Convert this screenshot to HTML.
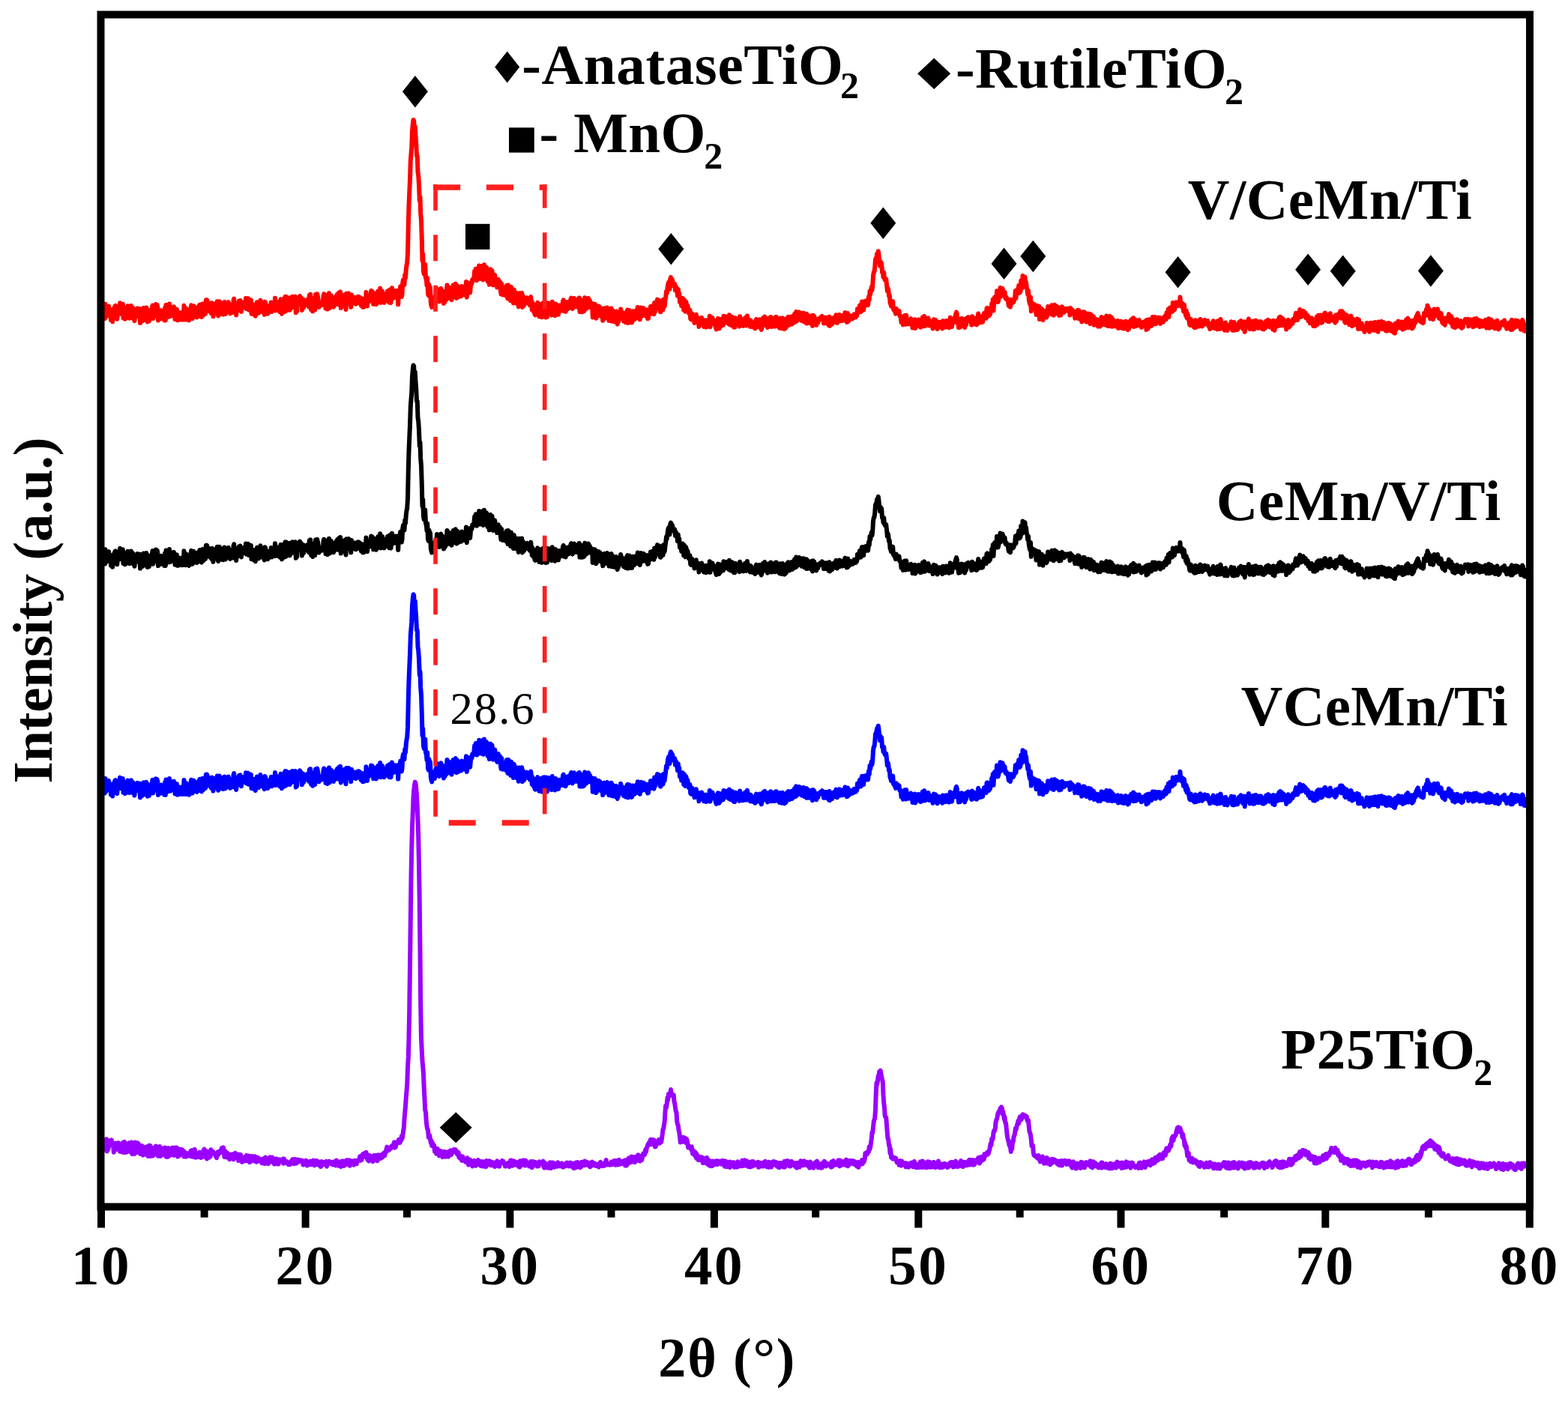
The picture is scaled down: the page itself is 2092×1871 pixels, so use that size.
<!DOCTYPE html>
<html><head><meta charset="utf-8"><title>XRD</title>
<style>html,body{margin:0;padding:0;background:#fff;}svg{display:block;}</style></head>
<body>
<svg width="2092" height="1871" viewBox="0 0 2092 1871">
<rect x="0" y="0" width="2092" height="1871" fill="#fff"/>
<g>
<polyline fill="none" stroke="#9900ff" stroke-width="6.0" stroke-linejoin="round" points="136.0,1536.2 136.8,1535.3 137.5,1523.0 138.2,1534.4 139.0,1525.8 139.8,1525.0 140.5,1532.1 141.2,1521.4 142.0,1520.1 142.8,1536.4 143.5,1526.4 144.2,1534.3 145.0,1527.9 145.8,1522.2 146.5,1528.9 147.2,1523.8 148.0,1522.3 148.8,1521.4 149.5,1528.1 150.2,1525.7 151.0,1527.0 151.8,1537.8 152.5,1535.5 153.2,1533.4 154.0,1525.5 154.8,1534.2 155.5,1533.3 156.2,1530.4 157.0,1525.6 157.8,1525.1 158.5,1528.7 159.2,1526.4 160.0,1536.7 160.8,1529.8 161.5,1533.5 162.2,1537.2 163.0,1532.6 163.8,1525.0 164.5,1527.8 165.2,1538.0 166.0,1523.7 166.8,1526.9 167.5,1533.8 168.2,1537.9 169.0,1537.5 169.8,1536.0 170.5,1535.6 171.2,1530.2 172.0,1525.2 172.8,1534.6 173.5,1525.4 174.2,1537.3 175.0,1526.2 175.8,1524.4 176.5,1540.1 177.2,1526.5 178.0,1533.2 178.8,1524.9 179.5,1539.8 180.2,1524.4 181.0,1535.4 181.8,1538.1 182.5,1529.5 183.2,1525.1 184.0,1525.8 184.8,1526.4 185.5,1537.5 186.2,1534.0 187.0,1539.9 187.8,1535.8 188.5,1535.2 189.2,1529.1 190.0,1529.6 190.8,1541.5 191.5,1541.2 192.2,1533.3 193.0,1539.1 193.8,1538.2 194.5,1531.5 195.2,1530.4 196.0,1539.1 196.8,1542.4 197.5,1542.8 198.2,1533.1 199.0,1528.7 199.8,1532.7 200.5,1528.9 201.2,1543.1 202.0,1532.7 202.8,1540.9 203.5,1531.7 204.2,1542.5 205.0,1535.3 205.8,1540.6 206.5,1537.2 207.2,1539.8 208.0,1529.5 208.8,1529.9 209.5,1534.2 210.2,1542.2 211.0,1542.7 211.8,1539.8 212.5,1538.1 213.2,1529.9 214.0,1542.9 214.8,1538.9 215.5,1538.2 216.2,1541.6 217.0,1532.8 217.8,1538.5 218.5,1539.6 219.2,1540.9 220.0,1531.5 220.8,1540.9 221.5,1543.6 222.2,1539.8 223.0,1533.3 223.8,1543.9 224.5,1532.1 225.2,1533.7 226.0,1542.3 226.8,1538.3 227.5,1534.6 228.2,1541.1 229.0,1539.0 229.8,1531.7 230.5,1533.5 231.2,1541.7 232.0,1541.8 232.8,1531.6 233.5,1537.8 234.2,1540.4 235.0,1535.1 235.8,1531.6 236.5,1536.5 237.2,1543.6 238.0,1540.7 238.8,1533.6 239.5,1542.1 240.2,1539.7 241.0,1534.8 241.8,1534.8 242.5,1533.9 243.2,1537.3 244.0,1536.9 244.8,1535.9 245.5,1543.6 246.2,1541.8 247.0,1537.9 247.8,1543.8 248.5,1539.8 249.2,1543.4 250.0,1541.7 250.8,1539.3 251.5,1540.2 252.2,1541.3 253.0,1541.2 253.8,1542.8 254.5,1536.1 255.2,1536.5 256.0,1535.1 256.8,1543.7 257.5,1543.5 258.2,1537.6 259.0,1537.1 259.8,1533.8 260.5,1544.5 261.2,1540.8 262.0,1544.6 262.8,1540.6 263.5,1539.2 264.2,1542.1 265.0,1543.8 265.8,1543.3 266.5,1537.4 267.2,1539.6 268.0,1545.1 268.8,1539.9 269.5,1543.5 270.2,1540.1 271.0,1543.7 271.8,1534.6 272.5,1533.8 273.2,1535.0 274.0,1539.2 274.8,1538.6 275.5,1545.8 276.2,1546.4 277.0,1536.5 277.8,1544.7 278.5,1540.9 279.2,1544.6 280.0,1538.9 280.8,1543.3 281.5,1534.3 282.2,1539.5 283.0,1537.8 283.8,1536.8 284.5,1537.2 285.2,1538.5 286.0,1539.4 286.8,1539.9 287.5,1542.4 288.2,1543.6 289.0,1545.2 289.8,1542.0 290.5,1537.4 291.2,1540.9 292.0,1539.3 292.8,1536.7 293.5,1537.2 294.2,1535.3 295.0,1537.9 295.8,1532.1 296.5,1536.8 297.2,1535.3 298.0,1531.4 298.8,1535.3 299.5,1544.0 300.2,1541.1 301.0,1536.7 301.8,1542.8 302.5,1544.4 303.2,1538.5 304.0,1541.6 304.8,1539.9 305.5,1543.8 306.2,1547.2 307.0,1541.4 307.8,1540.7 308.5,1541.0 309.2,1546.0 310.0,1540.2 310.8,1544.7 311.5,1547.3 312.2,1546.6 313.0,1545.5 313.8,1538.7 314.5,1543.1 315.2,1541.2 316.0,1544.1 316.8,1540.4 317.5,1540.4 318.2,1549.0 319.0,1548.5 319.8,1540.8 320.5,1548.4 321.2,1540.9 322.0,1543.9 322.8,1550.7 323.5,1550.4 324.2,1545.7 325.0,1548.1 325.8,1544.9 326.5,1549.5 327.2,1544.1 328.0,1542.8 328.8,1542.0 329.5,1546.7 330.2,1546.1 331.0,1549.7 331.8,1542.5 332.5,1549.4 333.2,1551.1 334.0,1549.4 334.8,1543.3 335.5,1543.7 336.2,1542.9 337.0,1545.2 337.8,1549.4 338.5,1543.6 339.2,1546.9 340.0,1543.3 340.8,1549.6 341.5,1544.1 342.2,1550.7 343.0,1548.8 343.8,1544.7 344.5,1549.6 345.2,1546.4 346.0,1548.4 346.8,1549.0 347.5,1546.6 348.2,1548.1 349.0,1551.7 349.8,1552.4 350.5,1552.3 351.2,1549.6 352.0,1552.4 352.8,1545.4 353.5,1553.1 354.2,1544.4 355.0,1552.3 355.8,1551.4 356.5,1547.9 357.2,1551.6 358.0,1553.1 358.8,1545.8 359.5,1550.2 360.2,1544.2 361.0,1550.2 361.8,1544.8 362.5,1550.3 363.2,1544.6 364.0,1548.1 364.8,1552.4 365.5,1547.5 366.2,1553.6 367.0,1549.2 367.8,1546.7 368.5,1553.3 369.2,1546.4 370.0,1550.2 370.8,1553.4 371.5,1553.5 372.2,1550.3 373.0,1547.5 373.8,1550.2 374.5,1548.5 375.2,1548.8 376.0,1548.9 376.8,1548.0 377.5,1546.7 378.2,1552.8 379.0,1546.5 379.8,1551.3 380.5,1549.5 381.2,1551.8 382.0,1551.1 382.8,1550.2 383.5,1552.8 384.2,1551.2 385.0,1554.1 385.8,1551.6 386.5,1554.0 387.2,1553.8 388.0,1552.4 388.8,1549.2 389.5,1550.6 390.2,1547.3 391.0,1552.7 391.8,1551.9 392.5,1553.2 393.2,1547.0 394.0,1547.3 394.8,1551.6 395.5,1552.5 396.2,1547.5 397.0,1547.5 397.8,1550.1 398.5,1550.4 399.2,1548.2 400.0,1548.7 400.8,1549.6 401.5,1548.3 402.2,1549.5 403.0,1548.6 403.8,1551.5 404.5,1554.5 405.2,1553.8 406.0,1553.3 406.8,1552.2 407.5,1549.8 408.2,1548.6 409.0,1549.5 409.8,1555.5 410.5,1554.3 411.2,1552.2 412.0,1552.5 412.8,1553.5 413.5,1554.1 414.2,1549.4 415.0,1554.0 415.8,1552.7 416.5,1549.7 417.2,1549.8 418.0,1548.8 418.8,1551.8 419.5,1555.3 420.2,1553.9 421.0,1549.0 421.8,1548.8 422.5,1550.4 423.2,1549.7 424.0,1549.8 424.8,1554.8 425.5,1551.6 426.2,1553.7 427.0,1551.6 427.8,1557.0 428.5,1553.8 429.2,1550.1 430.0,1555.3 430.8,1551.2 431.5,1552.5 432.2,1551.1 433.0,1552.7 433.8,1551.2 434.5,1551.3 435.2,1550.0 436.0,1556.7 436.8,1550.6 437.5,1551.2 438.2,1552.3 439.0,1549.7 439.8,1550.5 440.5,1551.7 441.2,1553.0 442.0,1552.5 442.8,1551.1 443.5,1553.7 444.2,1554.4 445.0,1550.6 445.8,1550.5 446.5,1553.8 447.2,1552.0 448.0,1555.4 448.8,1548.5 449.5,1552.9 450.2,1551.3 451.0,1550.2 451.8,1555.8 452.5,1550.5 453.2,1555.4 454.0,1556.0 454.8,1557.0 455.5,1549.9 456.2,1550.1 457.0,1549.4 457.8,1551.3 458.5,1556.1 459.2,1553.9 460.0,1549.8 460.8,1549.3 461.5,1554.6 462.2,1553.4 463.0,1548.1 463.8,1552.8 464.5,1549.3 465.2,1550.1 466.0,1548.3 466.8,1555.8 467.5,1551.3 468.2,1552.7 469.0,1549.2 469.8,1550.6 470.5,1552.8 471.2,1553.5 472.0,1554.6 472.8,1548.9 473.5,1548.7 474.2,1550.1 475.0,1549.1 475.8,1553.2 476.5,1549.0 477.2,1548.5 478.0,1549.0 478.8,1549.0 479.5,1546.6 480.2,1543.2 481.0,1548.8 481.8,1542.8 482.5,1548.1 483.2,1541.7 484.0,1540.5 484.8,1541.7 485.5,1544.0 486.2,1539.0 487.0,1539.7 487.8,1539.6 488.5,1537.8 489.2,1540.3 490.0,1546.9 490.8,1548.2 491.5,1543.2 492.2,1549.5 493.0,1542.1 493.8,1548.3 494.5,1542.5 495.2,1545.9 496.0,1545.8 496.8,1545.9 497.5,1550.1 498.2,1544.9 499.0,1542.0 499.8,1542.7 500.5,1548.2 501.2,1542.7 502.0,1541.9 502.8,1542.8 503.5,1549.3 504.2,1544.2 505.0,1541.2 505.8,1545.0 506.5,1541.9 507.2,1542.7 508.0,1545.9 508.8,1542.7 509.5,1540.8 510.2,1544.5 511.0,1539.8 511.8,1538.9 512.5,1541.9 513.2,1542.2 514.0,1539.4 514.8,1535.5 515.5,1535.0 516.2,1530.6 517.0,1531.7 517.8,1535.6 518.5,1532.2 519.2,1534.7 520.0,1532.4 520.8,1531.1 521.5,1532.8 522.2,1529.9 523.0,1531.1 523.8,1529.3 524.5,1527.7 525.2,1530.9 526.0,1524.2 526.8,1531.7 527.5,1531.0 528.2,1529.3 529.0,1525.5 529.8,1524.8 530.5,1523.7 531.2,1523.6 532.0,1520.8 532.8,1525.1 533.5,1525.0 534.2,1520.6 535.0,1522.5 535.8,1516.1 536.5,1519.3 537.2,1516.9 538.0,1509.6 538.8,1505.1 539.5,1493.8 540.2,1485.3 541.0,1476.1 541.8,1464.6 542.5,1455.5 543.2,1447.9 544.0,1424.5 544.8,1410.9 545.5,1385.1 546.2,1350.0 547.0,1287.9 547.8,1226.7 548.5,1170.6 549.2,1134.0 550.0,1102.8 550.8,1083.7 551.5,1064.7 552.2,1054.7 553.0,1047.7 553.8,1043.6 554.5,1045.6 555.2,1051.6 556.0,1061.5 556.8,1077.3 557.5,1094.4 558.2,1115.4 559.0,1154.7 559.8,1205.7 560.5,1267.7 561.2,1342.0 562.0,1385.4 562.8,1402.6 563.5,1415.4 564.2,1423.2 565.0,1433.7 565.8,1453.2 566.5,1466.3 567.2,1481.3 568.0,1484.3 568.8,1496.8 569.5,1503.0 570.2,1506.9 571.0,1507.7 571.8,1517.8 572.5,1517.2 573.2,1515.0 574.0,1519.9 574.8,1525.2 575.5,1522.2 576.2,1529.0 577.0,1525.3 577.8,1528.7 578.5,1528.7 579.2,1528.5 580.0,1536.7 580.8,1532.8 581.5,1537.6 582.2,1539.7 583.0,1534.9 583.8,1533.0 584.5,1538.4 585.2,1536.2 586.0,1542.6 586.8,1536.5 587.5,1542.0 588.2,1535.9 589.0,1538.4 589.8,1537.9 590.5,1544.1 591.2,1541.9 592.0,1542.3 592.8,1536.8 593.5,1538.6 594.2,1543.7 595.0,1541.0 595.8,1542.3 596.5,1539.9 597.2,1537.3 598.0,1543.8 598.8,1537.8 599.5,1536.8 600.2,1540.9 601.0,1535.3 601.8,1541.2 602.5,1540.3 603.2,1537.0 604.0,1538.1 604.8,1537.8 605.5,1534.0 606.2,1534.3 607.0,1537.0 607.8,1534.2 608.5,1536.0 609.2,1537.8 610.0,1540.5 610.8,1540.0 611.5,1537.6 612.2,1543.9 613.0,1545.3 613.8,1545.1 614.5,1546.2 615.2,1542.8 616.0,1548.7 616.8,1547.0 617.5,1543.8 618.2,1548.9 619.0,1548.8 619.8,1548.6 620.5,1547.8 621.2,1550.7 622.0,1550.5 622.8,1549.6 623.5,1545.2 624.2,1547.2 625.0,1554.5 625.8,1549.6 626.5,1552.0 627.2,1547.7 628.0,1552.0 628.8,1552.6 629.5,1554.3 630.2,1556.4 631.0,1551.7 631.8,1550.4 632.5,1548.8 633.2,1550.2 634.0,1551.0 634.8,1555.7 635.5,1551.7 636.2,1553.4 637.0,1554.3 637.8,1548.1 638.5,1550.4 639.2,1553.5 640.0,1549.4 640.8,1550.5 641.5,1556.1 642.2,1555.4 643.0,1550.4 643.8,1550.1 644.5,1556.5 645.2,1553.0 646.0,1551.4 646.8,1554.9 647.5,1554.3 648.2,1557.2 649.0,1549.1 649.8,1555.2 650.5,1552.6 651.2,1550.8 652.0,1553.3 652.8,1549.2 653.5,1550.2 654.2,1550.0 655.0,1555.2 655.8,1555.2 656.5,1550.9 657.2,1551.3 658.0,1555.3 658.8,1551.8 659.5,1551.5 660.2,1557.1 661.0,1553.6 661.8,1553.7 662.5,1554.5 663.2,1549.3 664.0,1552.5 664.8,1556.0 665.5,1554.7 666.2,1556.7 667.0,1551.3 667.8,1552.7 668.5,1550.4 669.2,1549.9 670.0,1549.0 670.8,1550.1 671.5,1549.9 672.2,1552.7 673.0,1552.8 673.8,1556.2 674.5,1556.5 675.2,1554.4 676.0,1555.4 676.8,1553.6 677.5,1552.0 678.2,1553.5 679.0,1554.4 679.8,1557.0 680.5,1555.5 681.2,1548.6 682.0,1553.6 682.8,1548.6 683.5,1553.4 684.2,1555.6 685.0,1554.4 685.8,1549.4 686.5,1552.3 687.2,1550.3 688.0,1554.5 688.8,1554.8 689.5,1555.0 690.2,1551.6 691.0,1554.0 691.8,1550.7 692.5,1557.4 693.2,1557.5 694.0,1549.3 694.8,1554.0 695.5,1555.2 696.2,1550.7 697.0,1548.8 697.8,1548.5 698.5,1554.8 699.2,1548.6 700.0,1551.9 700.8,1555.5 701.5,1548.8 702.2,1554.6 703.0,1552.2 703.8,1551.9 704.5,1552.8 705.2,1551.8 706.0,1556.5 706.8,1554.9 707.5,1552.4 708.2,1550.1 709.0,1553.6 709.8,1558.1 710.5,1557.3 711.2,1550.0 712.0,1552.7 712.8,1553.8 713.5,1553.3 714.2,1550.8 715.0,1551.6 715.8,1554.7 716.5,1556.5 717.2,1556.5 718.0,1556.1 718.8,1556.2 719.5,1550.3 720.2,1552.1 721.0,1553.1 721.8,1552.2 722.5,1553.1 723.2,1553.1 724.0,1552.5 724.8,1549.6 725.5,1557.3 726.2,1558.4 727.0,1555.5 727.8,1552.5 728.5,1554.1 729.2,1558.2 730.0,1555.3 730.8,1556.0 731.5,1556.1 732.2,1558.7 733.0,1555.9 733.8,1551.3 734.5,1555.1 735.2,1559.0 736.0,1552.1 736.8,1551.5 737.5,1551.6 738.2,1551.7 739.0,1552.4 739.8,1557.7 740.5,1555.9 741.2,1556.9 742.0,1555.1 742.8,1553.1 743.5,1556.8 744.2,1551.2 745.0,1552.8 745.8,1553.2 746.5,1555.5 747.2,1556.2 748.0,1554.5 748.8,1555.0 749.5,1552.3 750.2,1555.2 751.0,1557.6 751.8,1554.2 752.5,1557.1 753.2,1555.0 754.0,1555.1 754.8,1556.0 755.5,1551.7 756.2,1552.2 757.0,1551.7 757.8,1554.8 758.5,1555.9 759.2,1556.3 760.0,1551.9 760.8,1553.2 761.5,1551.7 762.2,1556.4 763.0,1554.5 763.8,1553.3 764.5,1552.8 765.2,1559.0 766.0,1554.6 766.8,1558.8 767.5,1552.6 768.2,1551.6 769.0,1555.9 769.8,1557.6 770.5,1551.0 771.2,1557.2 772.0,1554.8 772.8,1557.6 773.5,1558.0 774.2,1553.3 775.0,1557.7 775.8,1550.8 776.5,1553.0 777.2,1552.8 778.0,1550.9 778.8,1553.0 779.5,1555.3 780.2,1549.6 781.0,1553.0 781.8,1553.4 782.5,1550.6 783.2,1554.6 784.0,1551.1 784.8,1553.9 785.5,1553.9 786.2,1555.5 787.0,1557.2 787.8,1557.0 788.5,1553.2 789.2,1551.0 790.0,1550.6 790.8,1555.2 791.5,1554.8 792.2,1554.9 793.0,1555.1 793.8,1552.7 794.5,1555.8 795.2,1553.8 796.0,1553.9 796.8,1556.1 797.5,1554.8 798.2,1556.0 799.0,1557.4 799.8,1552.4 800.5,1555.1 801.2,1550.7 802.0,1552.0 802.8,1555.2 803.5,1556.0 804.2,1555.8 805.0,1554.2 805.8,1555.2 806.5,1555.6 807.2,1553.3 808.0,1550.1 808.8,1548.0 809.5,1554.5 810.2,1554.4 811.0,1554.2 811.8,1553.0 812.5,1553.9 813.2,1554.6 814.0,1553.1 814.8,1554.4 815.5,1550.5 816.2,1553.1 817.0,1553.8 817.8,1553.1 818.5,1550.3 819.2,1549.2 820.0,1553.9 820.8,1549.0 821.5,1554.8 822.2,1549.0 823.0,1553.8 823.8,1549.9 824.5,1554.5 825.2,1548.4 826.0,1547.9 826.8,1552.5 827.5,1553.5 828.2,1549.9 829.0,1551.1 829.8,1552.9 830.5,1549.7 831.2,1550.6 832.0,1552.3 832.8,1550.1 833.5,1548.7 834.2,1555.4 835.0,1548.3 835.8,1555.6 836.5,1553.9 837.2,1550.0 838.0,1553.1 838.8,1545.5 839.5,1549.3 840.2,1547.0 841.0,1546.1 841.8,1551.1 842.5,1543.4 843.2,1550.6 844.0,1543.8 844.8,1549.1 845.5,1545.7 846.2,1547.8 847.0,1551.1 847.8,1549.8 848.5,1543.4 849.2,1544.9 850.0,1546.1 850.8,1547.8 851.5,1541.3 852.2,1548.7 853.0,1548.5 853.8,1549.6 854.5,1543.0 855.2,1543.1 856.0,1548.4 856.8,1545.4 857.5,1542.5 858.2,1539.3 859.0,1539.4 859.8,1541.3 860.5,1539.6 861.2,1534.1 862.0,1537.1 862.8,1531.8 863.5,1530.6 864.2,1528.1 865.0,1526.7 865.8,1524.9 866.5,1527.7 867.2,1523.3 868.0,1520.9 868.8,1522.7 869.5,1527.3 870.2,1525.2 871.0,1520.9 871.8,1524.2 872.5,1525.0 873.2,1521.6 874.0,1530.4 874.8,1530.3 875.5,1523.3 876.2,1527.2 877.0,1524.7 877.8,1523.4 878.5,1523.4 879.2,1520.9 880.0,1525.8 880.8,1522.1 881.5,1524.1 882.2,1524.0 883.0,1519.4 883.8,1513.6 884.5,1507.0 885.2,1506.3 886.0,1501.2 886.8,1496.1 887.5,1483.3 888.2,1475.7 889.0,1478.1 889.8,1472.4 890.5,1465.0 891.2,1468.0 892.0,1460.1 892.8,1463.4 893.5,1461.1 894.2,1460.9 895.0,1454.1 895.8,1460.3 896.5,1460.3 897.2,1461.9 898.0,1462.3 898.8,1461.3 899.5,1470.6 900.2,1472.0 901.0,1478.2 901.8,1483.1 902.5,1484.5 903.2,1496.2 904.0,1500.4 904.8,1502.1 905.5,1508.1 906.2,1510.7 907.0,1517.2 907.8,1524.5 908.5,1519.8 909.2,1520.2 910.0,1523.9 910.8,1517.7 911.5,1518.0 912.2,1523.5 913.0,1518.1 913.8,1522.5 914.5,1524.7 915.2,1523.2 916.0,1519.9 916.8,1522.3 917.5,1526.5 918.2,1531.5 919.0,1530.1 919.8,1531.6 920.5,1531.8 921.2,1530.5 922.0,1534.2 922.8,1530.2 923.5,1535.0 924.2,1539.7 925.0,1535.4 925.8,1540.1 926.5,1541.4 927.2,1537.1 928.0,1543.8 928.8,1538.9 929.5,1545.9 930.2,1541.1 931.0,1544.3 931.8,1548.1 932.5,1547.9 933.2,1545.8 934.0,1544.1 934.8,1548.4 935.5,1548.5 936.2,1544.2 937.0,1547.1 937.8,1552.0 938.5,1548.6 939.2,1545.6 940.0,1549.8 940.8,1548.2 941.5,1552.3 942.2,1548.8 943.0,1545.0 943.8,1546.7 944.5,1547.4 945.2,1554.8 946.0,1550.0 946.8,1550.3 947.5,1556.0 948.2,1549.4 949.0,1553.1 949.8,1556.1 950.5,1555.9 951.2,1549.4 952.0,1552.2 952.8,1550.3 953.5,1554.1 954.2,1550.1 955.0,1549.5 955.8,1550.3 956.5,1549.1 957.2,1554.1 958.0,1550.1 958.8,1550.9 959.5,1549.7 960.2,1550.6 961.0,1549.9 961.8,1550.4 962.5,1553.6 963.2,1549.0 964.0,1553.8 964.8,1551.0 965.5,1549.1 966.2,1549.7 967.0,1556.8 967.8,1549.5 968.5,1551.8 969.2,1557.1 970.0,1550.4 970.8,1551.7 971.5,1552.3 972.2,1557.3 973.0,1550.9 973.8,1558.0 974.5,1550.5 975.2,1554.2 976.0,1555.8 976.8,1553.9 977.5,1553.4 978.2,1552.8 979.0,1551.2 979.8,1557.7 980.5,1552.5 981.2,1554.6 982.0,1554.2 982.8,1557.6 983.5,1551.3 984.2,1550.4 985.0,1556.9 985.8,1553.3 986.5,1554.3 987.2,1554.2 988.0,1555.6 988.8,1556.1 989.5,1554.9 990.2,1548.7 991.0,1555.9 991.8,1548.7 992.5,1555.8 993.2,1548.2 994.0,1555.1 994.8,1554.1 995.5,1549.0 996.2,1555.7 997.0,1554.3 997.8,1550.3 998.5,1556.9 999.2,1554.4 1000.0,1553.3 1000.8,1557.5 1001.5,1550.9 1002.2,1550.5 1003.0,1556.7 1003.8,1550.0 1004.5,1555.7 1005.2,1550.3 1006.0,1555.6 1006.8,1552.0 1007.5,1553.9 1008.2,1553.9 1009.0,1552.1 1009.8,1553.5 1010.5,1554.9 1011.2,1550.7 1012.0,1557.8 1012.8,1557.0 1013.5,1551.6 1014.2,1551.7 1015.0,1553.1 1015.8,1556.4 1016.5,1554.2 1017.2,1552.5 1018.0,1556.5 1018.8,1551.3 1019.5,1555.7 1020.2,1555.8 1021.0,1549.8 1021.8,1553.7 1022.5,1553.8 1023.2,1557.3 1024.0,1551.6 1024.8,1553.2 1025.5,1557.7 1026.2,1550.7 1027.0,1557.5 1027.8,1552.6 1028.5,1552.1 1029.2,1557.6 1030.0,1552.0 1030.8,1550.6 1031.5,1550.1 1032.2,1554.4 1033.0,1553.8 1033.8,1550.3 1034.5,1552.5 1035.2,1550.8 1036.0,1555.9 1036.8,1552.0 1037.5,1554.6 1038.2,1557.6 1039.0,1551.9 1039.8,1558.2 1040.5,1554.0 1041.2,1555.3 1042.0,1552.0 1042.8,1555.7 1043.5,1556.1 1044.2,1555.0 1045.0,1557.4 1045.8,1553.9 1046.5,1549.8 1047.2,1557.6 1048.0,1554.4 1048.8,1554.6 1049.5,1554.2 1050.2,1549.1 1051.0,1551.2 1051.8,1549.4 1052.5,1554.4 1053.2,1556.3 1054.0,1554.8 1054.8,1556.3 1055.5,1552.2 1056.2,1549.8 1057.0,1553.3 1057.8,1551.4 1058.5,1552.9 1059.2,1552.6 1060.0,1552.2 1060.8,1556.7 1061.5,1555.8 1062.2,1557.5 1063.0,1558.6 1063.8,1551.7 1064.5,1557.5 1065.2,1555.8 1066.0,1553.9 1066.8,1557.5 1067.5,1553.5 1068.2,1549.2 1069.0,1550.0 1069.8,1551.7 1070.5,1555.1 1071.2,1554.0 1072.0,1555.1 1072.8,1549.2 1073.5,1551.1 1074.2,1553.6 1075.0,1554.4 1075.8,1552.5 1076.5,1550.8 1077.2,1551.9 1078.0,1556.3 1078.8,1556.2 1079.5,1552.3 1080.2,1558.6 1081.0,1550.6 1081.8,1552.2 1082.5,1553.9 1083.2,1557.1 1084.0,1555.0 1084.8,1556.1 1085.5,1558.7 1086.2,1553.6 1087.0,1551.8 1087.8,1553.6 1088.5,1554.7 1089.2,1550.6 1090.0,1549.6 1090.8,1555.6 1091.5,1558.1 1092.2,1557.7 1093.0,1553.0 1093.8,1553.8 1094.5,1557.2 1095.2,1558.6 1096.0,1553.2 1096.8,1558.4 1097.5,1556.2 1098.2,1551.3 1099.0,1553.8 1099.8,1549.7 1100.5,1553.2 1101.2,1554.1 1102.0,1556.4 1102.8,1552.2 1103.5,1554.9 1104.2,1555.0 1105.0,1553.8 1105.8,1554.7 1106.5,1553.4 1107.2,1554.9 1108.0,1553.6 1108.8,1557.6 1109.5,1550.5 1110.2,1557.0 1111.0,1555.8 1111.8,1549.1 1112.5,1555.1 1113.2,1551.7 1114.0,1552.7 1114.8,1552.6 1115.5,1554.4 1116.2,1552.1 1117.0,1553.3 1117.8,1549.6 1118.5,1548.3 1119.2,1553.5 1120.0,1556.3 1120.8,1548.4 1121.5,1555.8 1122.2,1551.3 1123.0,1553.7 1123.8,1550.4 1124.5,1554.0 1125.2,1551.6 1126.0,1554.5 1126.8,1549.6 1127.5,1549.8 1128.2,1552.1 1129.0,1547.6 1129.8,1555.5 1130.5,1552.6 1131.2,1556.2 1132.0,1549.5 1132.8,1554.3 1133.5,1549.9 1134.2,1548.8 1135.0,1551.9 1135.8,1552.0 1136.5,1552.7 1137.2,1551.7 1138.0,1549.2 1138.8,1553.4 1139.5,1549.7 1140.2,1550.0 1141.0,1554.4 1141.8,1553.8 1142.5,1554.4 1143.2,1556.4 1144.0,1556.0 1144.8,1550.8 1145.5,1557.8 1146.2,1554.0 1147.0,1554.4 1147.8,1551.9 1148.5,1552.4 1149.2,1553.3 1150.0,1547.9 1150.8,1553.2 1151.5,1549.0 1152.2,1550.9 1153.0,1549.5 1153.8,1546.2 1154.5,1539.1 1155.2,1541.5 1156.0,1538.2 1156.8,1540.2 1157.5,1539.2 1158.2,1536.3 1159.0,1537.1 1159.8,1530.2 1160.5,1533.5 1161.2,1530.7 1162.0,1525.2 1162.8,1519.6 1163.5,1511.6 1164.2,1512.1 1165.0,1504.5 1165.8,1496.6 1166.5,1494.6 1167.2,1492.4 1168.0,1480.9 1168.8,1458.1 1169.5,1445.1 1170.2,1447.2 1171.0,1441.7 1171.8,1435.6 1172.5,1437.8 1173.2,1430.1 1174.0,1430.9 1174.8,1428.7 1175.5,1433.3 1176.2,1437.2 1177.0,1440.3 1177.8,1444.3 1178.5,1461.2 1179.2,1471.6 1180.0,1478.4 1180.8,1489.8 1181.5,1490.8 1182.2,1491.1 1183.0,1500.7 1183.8,1511.6 1184.5,1519.8 1185.2,1519.9 1186.0,1528.6 1186.8,1528.4 1187.5,1538.8 1188.2,1533.6 1189.0,1544.5 1189.8,1542.8 1190.5,1546.1 1191.2,1546.6 1192.0,1546.2 1192.8,1546.4 1193.5,1545.2 1194.2,1546.6 1195.0,1545.5 1195.8,1547.4 1196.5,1551.1 1197.2,1550.6 1198.0,1551.0 1198.8,1550.9 1199.5,1554.8 1200.2,1554.1 1201.0,1549.1 1201.8,1551.8 1202.5,1555.6 1203.2,1549.5 1204.0,1553.5 1204.8,1553.2 1205.5,1553.6 1206.2,1553.0 1207.0,1555.0 1207.8,1552.1 1208.5,1557.4 1209.2,1554.3 1210.0,1552.4 1210.8,1555.2 1211.5,1555.7 1212.2,1557.7 1213.0,1555.1 1213.8,1554.0 1214.5,1552.4 1215.2,1553.0 1216.0,1551.7 1216.8,1554.7 1217.5,1556.8 1218.2,1554.6 1219.0,1551.3 1219.8,1549.9 1220.5,1557.4 1221.2,1552.4 1222.0,1555.9 1222.8,1558.2 1223.5,1558.1 1224.2,1554.6 1225.0,1557.8 1225.8,1553.2 1226.5,1558.0 1227.2,1555.6 1228.0,1550.3 1228.8,1556.5 1229.5,1550.6 1230.2,1557.9 1231.0,1549.5 1231.8,1556.0 1232.5,1551.0 1233.2,1554.8 1234.0,1553.5 1234.8,1558.0 1235.5,1552.6 1236.2,1556.3 1237.0,1558.0 1237.8,1550.2 1238.5,1555.9 1239.2,1550.5 1240.0,1556.8 1240.8,1557.6 1241.5,1551.3 1242.2,1557.6 1243.0,1553.4 1243.8,1551.9 1244.5,1557.5 1245.2,1552.3 1246.0,1550.8 1246.8,1552.0 1247.5,1557.3 1248.2,1558.1 1249.0,1553.6 1249.8,1554.0 1250.5,1554.9 1251.2,1557.0 1252.0,1549.6 1252.8,1556.5 1253.5,1558.0 1254.2,1553.0 1255.0,1553.4 1255.8,1558.1 1256.5,1553.5 1257.2,1553.4 1258.0,1557.8 1258.8,1554.5 1259.5,1556.0 1260.2,1552.8 1261.0,1556.2 1261.8,1553.4 1262.5,1557.0 1263.2,1554.3 1264.0,1558.0 1264.8,1554.6 1265.5,1557.1 1266.2,1553.3 1267.0,1555.2 1267.8,1551.6 1268.5,1554.3 1269.2,1555.0 1270.0,1550.9 1270.8,1554.1 1271.5,1557.5 1272.2,1551.2 1273.0,1553.8 1273.8,1556.9 1274.5,1553.2 1275.2,1549.6 1276.0,1553.8 1276.8,1553.1 1277.5,1557.1 1278.2,1554.6 1279.0,1555.5 1279.8,1551.7 1280.5,1556.2 1281.2,1555.5 1282.0,1549.0 1282.8,1554.0 1283.5,1556.2 1284.2,1554.1 1285.0,1557.0 1285.8,1550.8 1286.5,1553.7 1287.2,1553.2 1288.0,1551.0 1288.8,1555.2 1289.5,1552.0 1290.2,1553.8 1291.0,1554.8 1291.8,1554.2 1292.5,1548.6 1293.2,1548.0 1294.0,1554.6 1294.8,1553.0 1295.5,1548.5 1296.2,1548.2 1297.0,1551.4 1297.8,1548.4 1298.5,1554.7 1299.2,1548.2 1300.0,1554.3 1300.8,1552.0 1301.5,1550.3 1302.2,1551.1 1303.0,1551.1 1303.8,1547.3 1304.5,1549.0 1305.2,1545.2 1306.0,1544.8 1306.8,1552.4 1307.5,1551.2 1308.2,1549.9 1309.0,1543.8 1309.8,1548.0 1310.5,1548.5 1311.2,1545.7 1312.0,1544.7 1312.8,1547.1 1313.5,1539.9 1314.2,1543.0 1315.0,1540.0 1315.8,1540.4 1316.5,1540.2 1317.2,1537.8 1318.0,1540.6 1318.8,1539.2 1319.5,1536.4 1320.2,1534.8 1321.0,1530.1 1321.8,1525.8 1322.5,1528.3 1323.2,1519.7 1324.0,1521.2 1324.8,1518.8 1325.5,1511.2 1326.2,1508.9 1327.0,1509.1 1327.8,1506.3 1328.5,1497.7 1329.2,1494.9 1330.0,1493.4 1330.8,1489.6 1331.5,1485.8 1332.2,1484.6 1333.0,1482.9 1333.8,1482.0 1334.5,1479.1 1335.2,1480.3 1336.0,1477.4 1336.8,1478.9 1337.5,1486.6 1338.2,1483.4 1339.0,1487.5 1339.8,1494.0 1340.5,1490.4 1341.2,1498.3 1342.0,1498.6 1342.8,1506.6 1343.5,1513.2 1344.2,1518.0 1345.0,1521.8 1345.8,1523.7 1346.5,1528.3 1347.2,1529.0 1348.0,1531.1 1348.8,1537.1 1349.5,1529.2 1350.2,1533.5 1351.0,1522.7 1351.8,1523.4 1352.5,1517.6 1353.2,1515.5 1354.0,1513.2 1354.8,1506.0 1355.5,1507.9 1356.2,1504.8 1357.0,1501.0 1357.8,1499.0 1358.5,1495.7 1359.2,1499.3 1360.0,1492.9 1360.8,1490.4 1361.5,1492.1 1362.2,1494.4 1363.0,1493.5 1363.8,1489.6 1364.5,1487.2 1365.2,1489.9 1366.0,1488.1 1366.8,1490.2 1367.5,1490.1 1368.2,1488.9 1369.0,1491.6 1369.8,1490.2 1370.5,1495.3 1371.2,1495.0 1372.0,1495.1 1372.8,1503.7 1373.5,1510.1 1374.2,1511.8 1375.0,1514.5 1375.8,1521.0 1376.5,1529.2 1377.2,1527.5 1378.0,1528.5 1378.8,1538.7 1379.5,1541.6 1380.2,1542.3 1381.0,1542.9 1381.8,1543.1 1382.5,1542.4 1383.2,1544.0 1384.0,1545.6 1384.8,1542.6 1385.5,1542.1 1386.2,1546.9 1387.0,1546.6 1387.8,1550.4 1388.5,1545.7 1389.2,1546.1 1390.0,1544.0 1390.8,1543.5 1391.5,1545.0 1392.2,1549.3 1393.0,1552.7 1393.8,1545.4 1394.5,1545.8 1395.2,1550.4 1396.0,1547.1 1396.8,1545.0 1397.5,1552.7 1398.2,1546.5 1399.0,1549.2 1399.8,1552.2 1400.5,1552.6 1401.2,1554.3 1402.0,1551.2 1402.8,1547.5 1403.5,1547.0 1404.2,1552.0 1405.0,1551.0 1405.8,1548.3 1406.5,1547.4 1407.2,1548.9 1408.0,1548.3 1408.8,1549.0 1409.5,1549.2 1410.2,1553.0 1411.0,1550.6 1411.8,1554.2 1412.5,1551.3 1413.2,1549.6 1414.0,1555.2 1414.8,1552.8 1415.5,1554.5 1416.2,1549.1 1417.0,1555.5 1417.8,1552.6 1418.5,1550.5 1419.2,1549.8 1420.0,1548.9 1420.8,1548.8 1421.5,1550.6 1422.2,1551.8 1423.0,1553.9 1423.8,1552.7 1424.5,1549.5 1425.2,1550.4 1426.0,1549.3 1426.8,1549.5 1427.5,1552.0 1428.2,1555.1 1429.0,1551.0 1429.8,1557.5 1430.5,1558.4 1431.2,1555.2 1432.0,1550.2 1432.8,1551.5 1433.5,1554.6 1434.2,1558.6 1435.0,1559.3 1435.8,1557.5 1436.5,1559.2 1437.2,1552.4 1438.0,1556.1 1438.8,1555.8 1439.5,1553.3 1440.2,1556.0 1441.0,1555.7 1441.8,1558.9 1442.5,1550.7 1443.2,1552.6 1444.0,1551.4 1444.8,1551.8 1445.5,1552.7 1446.2,1553.1 1447.0,1558.2 1447.8,1552.7 1448.5,1554.0 1449.2,1551.1 1450.0,1551.5 1450.8,1551.4 1451.5,1554.4 1452.2,1552.0 1453.0,1551.8 1453.8,1553.9 1454.5,1549.4 1455.2,1556.9 1456.0,1549.8 1456.8,1553.2 1457.5,1558.4 1458.2,1551.4 1459.0,1550.5 1459.8,1554.5 1460.5,1555.8 1461.2,1553.8 1462.0,1552.5 1462.8,1556.8 1463.5,1556.0 1464.2,1554.0 1465.0,1556.4 1465.8,1558.4 1466.5,1555.5 1467.2,1554.3 1468.0,1556.2 1468.8,1555.2 1469.5,1551.5 1470.2,1558.6 1471.0,1551.7 1471.8,1557.1 1472.5,1554.4 1473.2,1557.4 1474.0,1555.2 1474.8,1557.9 1475.5,1554.9 1476.2,1553.2 1477.0,1557.9 1477.8,1558.5 1478.5,1555.7 1479.2,1559.3 1480.0,1557.3 1480.8,1559.2 1481.5,1552.6 1482.2,1559.1 1483.0,1557.5 1483.8,1559.0 1484.5,1553.6 1485.2,1555.4 1486.0,1558.3 1486.8,1556.3 1487.5,1552.9 1488.2,1552.8 1489.0,1558.5 1489.8,1556.0 1490.5,1550.5 1491.2,1552.3 1492.0,1555.1 1492.8,1552.1 1493.5,1554.9 1494.2,1557.0 1495.0,1552.1 1495.8,1553.6 1496.5,1559.1 1497.2,1551.6 1498.0,1552.2 1498.8,1558.3 1499.5,1556.8 1500.2,1554.7 1501.0,1557.9 1501.8,1552.1 1502.5,1550.3 1503.2,1557.4 1504.0,1556.0 1504.8,1553.5 1505.5,1555.8 1506.2,1551.6 1507.0,1553.8 1507.8,1556.2 1508.5,1558.6 1509.2,1554.0 1510.0,1551.6 1510.8,1551.7 1511.5,1553.4 1512.2,1556.0 1513.0,1556.5 1513.8,1556.3 1514.5,1557.9 1515.2,1556.2 1516.0,1556.2 1516.8,1555.6 1517.5,1556.3 1518.2,1556.8 1519.0,1558.9 1519.8,1551.9 1520.5,1556.0 1521.2,1551.5 1522.0,1552.3 1522.8,1558.7 1523.5,1554.1 1524.2,1555.5 1525.0,1552.3 1525.8,1554.8 1526.5,1550.4 1527.2,1555.1 1528.0,1558.0 1528.8,1555.2 1529.5,1554.5 1530.2,1553.0 1531.0,1550.4 1531.8,1554.0 1532.5,1550.4 1533.2,1549.8 1534.0,1551.5 1534.8,1555.2 1535.5,1553.0 1536.2,1552.3 1537.0,1547.3 1537.8,1553.1 1538.5,1549.5 1539.2,1551.0 1540.0,1550.1 1540.8,1551.8 1541.5,1544.8 1542.2,1545.0 1543.0,1546.2 1543.8,1544.9 1544.5,1548.6 1545.2,1543.0 1546.0,1542.1 1546.8,1545.4 1547.5,1540.7 1548.2,1546.6 1549.0,1542.0 1549.8,1541.3 1550.5,1543.5 1551.2,1546.2 1552.0,1539.4 1552.8,1538.0 1553.5,1538.3 1554.2,1541.1 1555.0,1541.7 1555.8,1534.1 1556.5,1532.3 1557.2,1533.9 1558.0,1533.0 1558.8,1535.6 1559.5,1533.7 1560.2,1532.7 1561.0,1528.1 1561.8,1526.8 1562.5,1529.6 1563.2,1520.0 1564.0,1518.1 1564.8,1516.5 1565.5,1521.9 1566.2,1517.6 1567.0,1517.5 1567.8,1515.4 1568.5,1515.2 1569.2,1511.3 1570.0,1508.2 1570.8,1505.2 1571.5,1506.9 1572.2,1504.2 1573.0,1510.3 1573.8,1509.0 1574.5,1505.4 1575.2,1508.6 1576.0,1509.7 1576.8,1512.6 1577.5,1517.5 1578.2,1513.6 1579.0,1519.2 1579.8,1521.4 1580.5,1528.7 1581.2,1525.4 1582.0,1532.0 1582.8,1529.7 1583.5,1536.4 1584.2,1542.8 1585.0,1543.1 1585.8,1538.8 1586.5,1548.3 1587.2,1545.3 1588.0,1546.4 1588.8,1550.4 1589.5,1547.9 1590.2,1545.5 1591.0,1548.0 1591.8,1551.5 1592.5,1549.0 1593.2,1547.7 1594.0,1550.3 1594.8,1548.4 1595.5,1549.0 1596.2,1549.7 1597.0,1553.5 1597.8,1552.1 1598.5,1551.1 1599.2,1556.2 1600.0,1555.2 1600.8,1557.0 1601.5,1551.1 1602.2,1554.9 1603.0,1551.6 1603.8,1553.6 1604.5,1553.2 1605.2,1554.5 1606.0,1554.5 1606.8,1557.8 1607.5,1555.3 1608.2,1553.0 1609.0,1557.1 1609.8,1551.6 1610.5,1557.2 1611.2,1555.6 1612.0,1553.0 1612.8,1557.4 1613.5,1551.8 1614.2,1551.1 1615.0,1553.0 1615.8,1554.9 1616.5,1555.8 1617.2,1552.9 1618.0,1555.3 1618.8,1558.9 1619.5,1559.2 1620.2,1557.0 1621.0,1553.4 1621.8,1555.1 1622.5,1558.1 1623.2,1558.8 1624.0,1559.3 1624.8,1554.2 1625.5,1553.8 1626.2,1553.8 1627.0,1557.9 1627.8,1559.5 1628.5,1556.0 1629.2,1554.9 1630.0,1556.8 1630.8,1554.4 1631.5,1555.6 1632.2,1552.1 1633.0,1551.1 1633.8,1553.7 1634.5,1552.4 1635.2,1551.3 1636.0,1558.5 1636.8,1556.2 1637.5,1553.6 1638.2,1559.0 1639.0,1551.4 1639.8,1553.6 1640.5,1558.5 1641.2,1559.3 1642.0,1557.8 1642.8,1552.5 1643.5,1555.8 1644.2,1551.5 1645.0,1551.5 1645.8,1558.6 1646.5,1551.1 1647.2,1552.1 1648.0,1552.3 1648.8,1557.6 1649.5,1556.9 1650.2,1553.2 1651.0,1554.8 1651.8,1559.4 1652.5,1552.8 1653.2,1551.5 1654.0,1556.5 1654.8,1551.9 1655.5,1556.0 1656.2,1553.5 1657.0,1551.6 1657.8,1557.2 1658.5,1557.9 1659.2,1553.9 1660.0,1552.5 1660.8,1559.6 1661.5,1553.1 1662.2,1553.1 1663.0,1554.1 1663.8,1552.9 1664.5,1552.8 1665.2,1558.8 1666.0,1551.4 1666.8,1558.0 1667.5,1555.4 1668.2,1551.0 1669.0,1551.9 1669.8,1556.3 1670.5,1555.3 1671.2,1552.5 1672.0,1553.0 1672.8,1558.7 1673.5,1557.1 1674.2,1556.3 1675.0,1558.3 1675.8,1552.0 1676.5,1552.6 1677.2,1557.0 1678.0,1553.4 1678.8,1553.5 1679.5,1556.6 1680.2,1558.2 1681.0,1557.2 1681.8,1556.2 1682.5,1553.4 1683.2,1555.8 1684.0,1551.7 1684.8,1552.1 1685.5,1551.9 1686.2,1556.3 1687.0,1558.8 1687.8,1557.2 1688.5,1552.9 1689.2,1556.2 1690.0,1553.4 1690.8,1557.3 1691.5,1554.1 1692.2,1551.7 1693.0,1552.0 1693.8,1550.1 1694.5,1552.7 1695.2,1552.7 1696.0,1553.9 1696.8,1555.8 1697.5,1558.0 1698.2,1556.8 1699.0,1554.3 1699.8,1552.1 1700.5,1550.1 1701.2,1553.7 1702.0,1549.1 1702.8,1549.2 1703.5,1554.6 1704.2,1550.7 1705.0,1557.0 1705.8,1555.6 1706.5,1554.5 1707.2,1558.1 1708.0,1551.0 1708.8,1552.5 1709.5,1554.2 1710.2,1558.1 1711.0,1550.2 1711.8,1554.6 1712.5,1557.3 1713.2,1550.4 1714.0,1555.1 1714.8,1554.8 1715.5,1551.6 1716.2,1552.8 1717.0,1555.9 1717.8,1551.5 1718.5,1551.1 1719.2,1551.8 1720.0,1546.9 1720.8,1553.5 1721.5,1546.7 1722.2,1554.6 1723.0,1554.3 1723.8,1552.6 1724.5,1552.9 1725.2,1549.8 1726.0,1546.4 1726.8,1548.3 1727.5,1548.3 1728.2,1543.0 1729.0,1547.9 1729.8,1543.1 1730.5,1544.3 1731.2,1541.5 1732.0,1540.9 1732.8,1545.5 1733.5,1543.9 1734.2,1536.9 1735.0,1542.5 1735.8,1543.1 1736.5,1540.3 1737.2,1539.4 1738.0,1535.0 1738.8,1538.4 1739.5,1535.4 1740.2,1540.3 1741.0,1538.7 1741.8,1535.9 1742.5,1541.6 1743.2,1541.6 1744.0,1537.7 1744.8,1538.8 1745.5,1538.0 1746.2,1545.5 1747.0,1540.2 1747.8,1542.6 1748.5,1547.4 1749.2,1544.2 1750.0,1544.7 1750.8,1543.2 1751.5,1543.5 1752.2,1548.3 1753.0,1544.7 1753.8,1552.2 1754.5,1544.1 1755.2,1546.9 1756.0,1546.0 1756.8,1552.6 1757.5,1551.6 1758.2,1546.2 1759.0,1545.7 1759.8,1545.6 1760.5,1550.9 1761.2,1550.3 1762.0,1548.6 1762.8,1546.7 1763.5,1546.0 1764.2,1546.8 1765.0,1542.2 1765.8,1547.9 1766.5,1547.3 1767.2,1545.8 1768.0,1541.2 1768.8,1540.3 1769.5,1546.3 1770.2,1545.4 1771.0,1543.0 1771.8,1542.7 1772.5,1539.2 1773.2,1542.1 1774.0,1539.7 1774.8,1536.6 1775.5,1537.9 1776.2,1531.9 1777.0,1534.0 1777.8,1537.6 1778.5,1534.1 1779.2,1534.7 1780.0,1534.7 1780.8,1538.1 1781.5,1531.8 1782.2,1536.7 1783.0,1535.7 1783.8,1535.1 1784.5,1534.8 1785.2,1541.1 1786.0,1538.5 1786.8,1543.1 1787.5,1542.7 1788.2,1543.6 1789.0,1548.8 1789.8,1542.6 1790.5,1547.4 1791.2,1546.8 1792.0,1545.0 1792.8,1547.6 1793.5,1552.2 1794.2,1546.6 1795.0,1551.2 1795.8,1547.9 1796.5,1550.3 1797.2,1550.9 1798.0,1547.0 1798.8,1553.7 1799.5,1550.1 1800.2,1548.8 1801.0,1549.0 1801.8,1556.0 1802.5,1555.9 1803.2,1551.9 1804.0,1550.3 1804.8,1554.3 1805.5,1548.6 1806.2,1555.8 1807.0,1548.4 1807.8,1548.8 1808.5,1551.3 1809.2,1552.4 1810.0,1548.5 1810.8,1551.2 1811.5,1557.6 1812.2,1556.1 1813.0,1550.1 1813.8,1557.5 1814.5,1554.0 1815.2,1558.5 1816.0,1552.5 1816.8,1552.2 1817.5,1555.4 1818.2,1553.6 1819.0,1551.7 1819.8,1553.9 1820.5,1554.9 1821.2,1552.1 1822.0,1556.6 1822.8,1555.9 1823.5,1555.8 1824.2,1554.8 1825.0,1550.8 1825.8,1554.9 1826.5,1550.4 1827.2,1550.3 1828.0,1553.8 1828.8,1551.1 1829.5,1550.8 1830.2,1554.9 1831.0,1558.3 1831.8,1550.4 1832.5,1554.1 1833.2,1551.3 1834.0,1555.5 1834.8,1555.9 1835.5,1555.0 1836.2,1550.7 1837.0,1556.1 1837.8,1554.1 1838.5,1554.4 1839.2,1555.1 1840.0,1557.1 1840.8,1553.0 1841.5,1557.2 1842.2,1550.8 1843.0,1553.4 1843.8,1551.1 1844.5,1552.9 1845.2,1557.7 1846.0,1558.5 1846.8,1554.1 1847.5,1552.3 1848.2,1552.6 1849.0,1557.6 1849.8,1553.4 1850.5,1551.2 1851.2,1556.9 1852.0,1554.0 1852.8,1553.3 1853.5,1557.3 1854.2,1555.8 1855.0,1549.2 1855.8,1557.4 1856.5,1552.9 1857.2,1550.7 1858.0,1557.4 1858.8,1553.4 1859.5,1556.1 1860.2,1556.8 1861.0,1552.0 1861.8,1558.8 1862.5,1554.8 1863.2,1550.1 1864.0,1554.0 1864.8,1549.3 1865.5,1557.7 1866.2,1554.9 1867.0,1552.3 1867.8,1555.9 1868.5,1555.7 1869.2,1554.7 1870.0,1550.4 1870.8,1549.1 1871.5,1555.8 1872.2,1556.0 1873.0,1551.2 1873.8,1551.5 1874.5,1551.4 1875.2,1550.0 1876.0,1555.5 1876.8,1551.6 1877.5,1553.0 1878.2,1551.8 1879.0,1547.0 1879.8,1546.5 1880.5,1546.9 1881.2,1549.8 1882.0,1550.9 1882.8,1554.2 1883.5,1553.6 1884.2,1552.3 1885.0,1549.2 1885.8,1548.6 1886.5,1551.3 1887.2,1547.6 1888.0,1550.6 1888.8,1549.6 1889.5,1543.5 1890.2,1548.7 1891.0,1541.6 1891.8,1542.8 1892.5,1547.7 1893.2,1544.0 1894.0,1544.9 1894.8,1544.5 1895.5,1537.4 1896.2,1540.7 1897.0,1535.6 1897.8,1531.4 1898.5,1530.5 1899.2,1529.4 1900.0,1532.8 1900.8,1532.1 1901.5,1533.1 1902.2,1527.6 1903.0,1531.0 1903.8,1525.8 1904.5,1525.4 1905.2,1527.6 1906.0,1524.5 1906.8,1529.3 1907.5,1522.9 1908.2,1522.2 1909.0,1528.3 1909.8,1529.0 1910.5,1523.8 1911.2,1526.5 1912.0,1529.1 1912.8,1526.1 1913.5,1529.5 1914.2,1533.5 1915.0,1533.9 1915.8,1528.8 1916.5,1530.4 1917.2,1530.5 1918.0,1534.5 1918.8,1530.1 1919.5,1538.2 1920.2,1531.2 1921.0,1535.7 1921.8,1538.4 1922.5,1541.7 1923.2,1539.9 1924.0,1543.1 1924.8,1541.3 1925.5,1539.4 1926.2,1541.8 1927.0,1543.9 1927.8,1543.8 1928.5,1546.5 1929.2,1544.9 1930.0,1544.0 1930.8,1545.6 1931.5,1546.0 1932.2,1541.8 1933.0,1545.0 1933.8,1547.5 1934.5,1549.2 1935.2,1547.0 1936.0,1550.1 1936.8,1548.2 1937.5,1547.2 1938.2,1546.2 1939.0,1551.1 1939.8,1552.2 1940.5,1550.6 1941.2,1546.3 1942.0,1550.9 1942.8,1549.6 1943.5,1553.8 1944.2,1546.1 1945.0,1553.2 1945.8,1550.8 1946.5,1554.4 1947.2,1552.4 1948.0,1547.3 1948.8,1553.4 1949.5,1552.0 1950.2,1549.5 1951.0,1548.5 1951.8,1551.1 1952.5,1552.7 1953.2,1552.2 1954.0,1548.5 1954.8,1550.0 1955.5,1555.0 1956.2,1553.9 1957.0,1555.6 1957.8,1552.5 1958.5,1550.7 1959.2,1555.2 1960.0,1549.9 1960.8,1548.6 1961.5,1551.6 1962.2,1552.7 1963.0,1550.8 1963.8,1557.5 1964.5,1551.2 1965.2,1550.2 1966.0,1555.0 1966.8,1550.7 1967.5,1552.1 1968.2,1553.6 1969.0,1552.6 1969.8,1556.2 1970.5,1551.8 1971.2,1556.4 1972.0,1551.7 1972.8,1555.7 1973.5,1559.1 1974.2,1557.4 1975.0,1558.9 1975.8,1555.5 1976.5,1552.4 1977.2,1554.5 1978.0,1558.2 1978.8,1552.5 1979.5,1557.1 1980.2,1554.0 1981.0,1559.1 1981.8,1554.0 1982.5,1553.8 1983.2,1553.4 1984.0,1556.0 1984.8,1559.9 1985.5,1556.4 1986.2,1558.3 1987.0,1556.4 1987.8,1552.5 1988.5,1556.9 1989.2,1557.0 1990.0,1557.1 1990.8,1554.5 1991.5,1554.3 1992.2,1554.9 1993.0,1552.3 1993.8,1553.5 1994.5,1554.6 1995.2,1556.6 1996.0,1560.0 1996.8,1558.1 1997.5,1556.3 1998.2,1558.0 1999.0,1555.6 1999.8,1552.2 2000.5,1558.1 2001.2,1558.5 2002.0,1558.3 2002.8,1560.1 2003.5,1559.5 2004.2,1559.7 2005.0,1552.7 2005.8,1560.9 2006.5,1557.1 2007.2,1557.0 2008.0,1557.1 2008.8,1554.0 2009.5,1554.2 2010.2,1559.3 2011.0,1557.0 2011.8,1560.3 2012.5,1553.8 2013.2,1557.2 2014.0,1557.4 2014.8,1552.5 2015.5,1557.8 2016.2,1555.7 2017.0,1556.1 2017.8,1554.0 2018.5,1557.6 2019.2,1558.3 2020.0,1560.2 2020.8,1559.8 2021.5,1561.1 2022.2,1561.1 2023.0,1558.5 2023.8,1554.6 2024.5,1556.7 2025.2,1552.5 2026.0,1556.7 2026.8,1554.5 2027.5,1556.7 2028.2,1558.8 2029.0,1552.9 2029.8,1560.0 2030.5,1552.6 2031.2,1556.5 2032.0,1554.0 2032.8,1552.4 2033.5,1556.3 2034.2,1554.4 2035.0,1552.8 2035.8,1559.4"/>
<polyline fill="none" stroke="#0000ff" stroke-width="6.0" stroke-linejoin="round" points="136.0,1052.2 136.8,1058.4 137.5,1056.0 138.2,1044.2 139.0,1045.9 139.8,1058.4 140.5,1039.1 141.2,1056.5 142.0,1055.4 142.8,1047.6 143.5,1043.4 144.2,1042.5 145.0,1042.0 145.8,1046.4 146.5,1048.3 147.2,1050.0 148.0,1060.5 148.8,1056.9 149.5,1053.9 150.2,1062.6 151.0,1046.1 151.8,1045.1 152.5,1054.8 153.2,1042.0 154.0,1041.3 154.8,1051.2 155.5,1049.6 156.2,1059.1 157.0,1052.6 157.8,1049.9 158.5,1049.1 159.2,1043.2 160.0,1037.6 160.8,1041.2 161.5,1052.1 162.2,1041.8 163.0,1046.2 163.8,1039.0 164.5,1057.6 165.2,1043.2 166.0,1045.8 166.8,1059.0 167.5,1050.8 168.2,1058.1 169.0,1053.6 169.8,1055.8 170.5,1041.5 171.2,1051.1 172.0,1050.2 172.8,1058.0 173.5,1047.1 174.2,1052.5 175.0,1041.2 175.8,1048.7 176.5,1047.6 177.2,1044.0 178.0,1058.5 178.8,1048.8 179.5,1061.5 180.2,1052.7 181.0,1053.0 181.8,1053.9 182.5,1055.3 183.2,1044.7 184.0,1051.8 184.8,1048.1 185.5,1051.9 186.2,1045.4 187.0,1064.3 187.8,1048.0 188.5,1057.9 189.2,1049.8 190.0,1061.8 190.8,1056.6 191.5,1044.2 192.2,1058.7 193.0,1060.2 193.8,1059.1 194.5,1052.2 195.2,1043.8 196.0,1045.9 196.8,1062.7 197.5,1055.2 198.2,1047.2 199.0,1062.0 199.8,1056.2 200.5,1054.0 201.2,1049.3 202.0,1049.6 202.8,1045.5 203.5,1040.8 204.2,1058.5 205.0,1049.4 205.8,1050.8 206.5,1045.7 207.2,1054.8 208.0,1039.2 208.8,1047.0 209.5,1040.0 210.2,1042.4 211.0,1060.9 211.8,1054.4 212.5,1049.5 213.2,1051.4 214.0,1058.8 214.8,1047.5 215.5,1052.9 216.2,1055.1 217.0,1048.3 217.8,1052.2 218.5,1057.6 219.2,1060.7 220.0,1044.3 220.8,1060.8 221.5,1040.4 222.2,1056.0 223.0,1056.8 223.8,1041.9 224.5,1047.7 225.2,1056.1 226.0,1038.9 226.8,1052.0 227.5,1055.6 228.2,1049.6 229.0,1054.3 229.8,1043.7 230.5,1043.2 231.2,1046.8 232.0,1042.7 232.8,1046.3 233.5,1059.3 234.2,1051.8 235.0,1047.3 235.8,1046.1 236.5,1060.5 237.2,1049.3 238.0,1060.5 238.8,1050.5 239.5,1051.0 240.2,1059.6 241.0,1056.9 241.8,1053.9 242.5,1050.6 243.2,1060.0 244.0,1049.5 244.8,1059.7 245.5,1041.1 246.2,1048.6 247.0,1050.7 247.8,1060.0 248.5,1045.2 249.2,1056.9 250.0,1054.1 250.8,1055.0 251.5,1053.3 252.2,1060.7 253.0,1047.2 253.8,1048.5 254.5,1044.2 255.2,1040.7 256.0,1043.9 256.8,1058.6 257.5,1057.0 258.2,1041.5 259.0,1051.9 259.8,1049.1 260.5,1051.1 261.2,1051.9 262.0,1043.7 262.8,1056.9 263.5,1045.9 264.2,1049.3 265.0,1050.0 265.8,1041.3 266.5,1039.8 267.2,1048.1 268.0,1055.8 268.8,1056.3 269.5,1053.4 270.2,1038.8 271.0,1054.3 271.8,1050.9 272.5,1051.8 273.2,1043.9 274.0,1052.0 274.8,1033.6 275.5,1033.4 276.2,1033.6 277.0,1039.3 277.8,1040.3 278.5,1040.0 279.2,1048.8 280.0,1038.1 280.8,1049.9 281.5,1041.0 282.2,1051.7 283.0,1037.6 283.8,1043.1 284.5,1055.6 285.2,1046.3 286.0,1051.3 286.8,1047.8 287.5,1046.8 288.2,1038.3 289.0,1046.7 289.8,1035.6 290.5,1051.6 291.2,1054.8 292.0,1052.4 292.8,1035.5 293.5,1041.7 294.2,1041.7 295.0,1037.8 295.8,1049.0 296.5,1052.7 297.2,1042.2 298.0,1053.1 298.8,1051.0 299.5,1036.4 300.2,1049.6 301.0,1052.1 301.8,1037.9 302.5,1046.1 303.2,1047.8 304.0,1047.3 304.8,1036.6 305.5,1048.6 306.2,1048.0 307.0,1051.8 307.8,1051.0 308.5,1040.3 309.2,1047.9 310.0,1050.2 310.8,1050.2 311.5,1034.6 312.2,1032.0 313.0,1045.8 313.8,1037.2 314.5,1045.2 315.2,1053.9 316.0,1042.3 316.8,1039.8 317.5,1043.9 318.2,1047.6 319.0,1035.0 319.8,1040.1 320.5,1034.3 321.2,1045.4 322.0,1049.3 322.8,1040.2 323.5,1040.5 324.2,1044.2 325.0,1036.9 325.8,1036.8 326.5,1037.7 327.2,1039.6 328.0,1031.2 328.8,1045.4 329.5,1041.8 330.2,1036.0 331.0,1031.6 331.8,1046.7 332.5,1033.6 333.2,1034.1 334.0,1034.5 334.8,1033.8 335.5,1052.0 336.2,1038.9 337.0,1040.4 337.8,1052.5 338.5,1048.6 339.2,1039.8 340.0,1045.4 340.8,1055.0 341.5,1043.7 342.2,1050.4 343.0,1036.5 343.8,1049.6 344.5,1050.2 345.2,1051.0 346.0,1047.6 346.8,1040.9 347.5,1034.1 348.2,1043.9 349.0,1049.2 349.8,1037.2 350.5,1039.2 351.2,1045.3 352.0,1050.0 352.8,1053.2 353.5,1036.1 354.2,1036.8 355.0,1049.5 355.8,1045.3 356.5,1046.3 357.2,1052.1 358.0,1050.9 358.8,1049.3 359.5,1048.4 360.2,1040.6 361.0,1046.5 361.8,1036.7 362.5,1049.2 363.2,1048.9 364.0,1047.8 364.8,1041.4 365.5,1039.6 366.2,1040.1 367.0,1031.0 367.8,1047.9 368.5,1040.2 369.2,1036.0 370.0,1039.3 370.8,1043.4 371.5,1036.4 372.2,1046.9 373.0,1049.3 373.8,1037.9 374.5,1032.6 375.2,1046.7 376.0,1052.2 376.8,1033.9 377.5,1046.4 378.2,1048.4 379.0,1049.5 379.8,1030.8 380.5,1029.2 381.2,1048.6 382.0,1029.2 382.8,1030.6 383.5,1039.5 384.2,1036.6 385.0,1043.2 385.8,1030.7 386.5,1047.1 387.2,1032.1 388.0,1045.1 388.8,1030.0 389.5,1039.2 390.2,1029.1 391.0,1034.9 391.8,1034.4 392.5,1043.3 393.2,1037.5 394.0,1029.1 394.8,1050.6 395.5,1048.4 396.2,1048.9 397.0,1033.6 397.8,1036.6 398.5,1032.7 399.2,1030.3 400.0,1028.3 400.8,1038.8 401.5,1030.4 402.2,1031.7 403.0,1047.3 403.8,1039.1 404.5,1032.7 405.2,1043.9 406.0,1034.9 406.8,1040.5 407.5,1034.3 408.2,1038.6 409.0,1039.9 409.8,1036.7 410.5,1032.6 411.2,1041.0 412.0,1042.7 412.8,1027.1 413.5,1026.4 414.2,1026.2 415.0,1046.5 415.8,1046.4 416.5,1031.2 417.2,1048.7 418.0,1031.8 418.8,1038.6 419.5,1038.0 420.2,1046.9 421.0,1026.4 421.8,1032.1 422.5,1038.1 423.2,1025.6 424.0,1029.3 424.8,1034.2 425.5,1043.3 426.2,1040.2 427.0,1041.3 427.8,1039.3 428.5,1037.7 429.2,1040.6 430.0,1036.6 430.8,1037.8 431.5,1028.1 432.2,1025.5 433.0,1039.7 433.8,1026.9 434.5,1044.9 435.2,1038.0 436.0,1032.1 436.8,1045.9 437.5,1027.4 438.2,1035.0 439.0,1024.6 439.8,1044.2 440.5,1034.9 441.2,1039.9 442.0,1027.8 442.8,1039.6 443.5,1037.3 444.2,1035.9 445.0,1043.0 445.8,1031.0 446.5,1030.4 447.2,1036.6 448.0,1039.7 448.8,1028.1 449.5,1036.0 450.2,1025.8 451.0,1034.2 451.8,1039.7 452.5,1023.8 453.2,1039.3 454.0,1022.8 454.8,1044.4 455.5,1033.0 456.2,1031.7 457.0,1039.5 457.8,1035.8 458.5,1041.5 459.2,1027.0 460.0,1038.3 460.8,1037.9 461.5,1046.2 462.2,1025.1 463.0,1034.4 463.8,1038.3 464.5,1036.2 465.2,1024.9 466.0,1036.9 466.8,1028.1 467.5,1027.4 468.2,1043.1 469.0,1026.7 469.8,1032.0 470.5,1038.1 471.2,1036.5 472.0,1032.5 472.8,1038.2 473.5,1030.4 474.2,1034.2 475.0,1039.1 475.8,1036.0 476.5,1035.1 477.2,1029.4 478.0,1032.8 478.8,1029.2 479.5,1037.9 480.2,1030.2 481.0,1033.2 481.8,1040.9 482.5,1035.6 483.2,1031.9 484.0,1043.2 484.8,1032.5 485.5,1043.0 486.2,1041.4 487.0,1033.2 487.8,1039.3 488.5,1023.2 489.2,1031.2 490.0,1041.9 490.8,1034.7 491.5,1033.6 492.2,1035.7 493.0,1035.5 493.8,1032.7 494.5,1028.0 495.2,1021.4 496.0,1023.0 496.8,1022.3 497.5,1025.3 498.2,1039.1 499.0,1024.5 499.8,1027.5 500.5,1026.2 501.2,1031.2 502.0,1039.5 502.8,1037.5 503.5,1024.9 504.2,1022.0 505.0,1036.6 505.8,1027.4 506.5,1032.3 507.2,1018.0 508.0,1037.2 508.8,1024.3 509.5,1028.8 510.2,1021.9 511.0,1027.3 511.8,1037.1 512.5,1037.2 513.2,1028.7 514.0,1035.5 514.8,1027.8 515.5,1025.5 516.2,1029.6 517.0,1021.7 517.8,1025.0 518.5,1035.0 519.2,1036.9 520.0,1020.0 520.8,1035.9 521.5,1037.3 522.2,1027.6 523.0,1017.6 523.8,1031.7 524.5,1020.9 525.2,1030.2 526.0,1023.8 526.8,1030.2 527.5,1021.3 528.2,1026.7 529.0,1028.2 529.8,1031.1 530.5,1021.2 531.2,1039.6 532.0,1023.4 532.8,1023.3 533.5,1021.2 534.2,1015.5 535.0,1022.7 535.8,1029.4 536.5,1025.8 537.2,1011.0 538.0,1006.5 538.8,1007.4 539.5,1013.3 540.2,1000.3 541.0,1004.3 541.8,992.8 542.5,987.2 543.2,984.3 544.0,970.9 544.8,933.3 545.5,908.4 546.2,891.3 547.0,873.2 547.8,847.7 548.5,838.8 549.2,830.4 550.0,808.3 550.8,798.9 551.5,793.2 552.2,794.6 553.0,815.8 553.8,802.3 554.5,815.1 555.2,823.6 556.0,841.1 556.8,841.4 557.5,863.4 558.2,867.7 559.0,879.8 559.8,901.0 560.5,896.1 561.2,917.7 562.0,927.4 562.8,952.5 563.5,981.1 564.2,972.5 565.0,995.3 565.8,999.2 566.5,997.6 567.2,986.4 568.0,1004.3 568.8,1006.5 569.5,1014.1 570.2,1004.5 571.0,1025.5 571.8,1027.7 572.5,1013.2 573.2,1020.8 574.0,1016.8 574.8,1037.7 575.5,1041.1 576.2,1043.3 577.0,1033.8 577.8,1033.9 578.5,1033.2 579.2,1030.0 580.0,1039.0 580.8,1031.5 581.5,1025.8 582.2,1030.3 583.0,1018.7 583.8,1034.6 584.5,1033.2 585.2,1026.3 586.0,1035.9 586.8,1033.7 587.5,1024.1 588.2,1018.3 589.0,1019.9 589.8,1021.5 590.5,1024.5 591.2,1027.8 592.0,1038.4 592.8,1022.6 593.5,1036.1 594.2,1030.3 595.0,1033.8 595.8,1023.2 596.5,1013.9 597.2,1031.8 598.0,1019.0 598.8,1016.3 599.5,1031.3 600.2,1028.5 601.0,1017.5 601.8,1018.5 602.5,1033.5 603.2,1017.6 604.0,1027.2 604.8,1013.9 605.5,1029.7 606.2,1013.8 607.0,1023.0 607.8,1012.1 608.5,1024.1 609.2,1031.2 610.0,1014.2 610.8,1018.8 611.5,1029.9 612.2,1025.8 613.0,1018.3 613.8,1024.6 614.5,1019.7 615.2,1028.5 616.0,1015.4 616.8,1026.2 617.5,1023.9 618.2,1026.7 619.0,1018.7 619.8,1026.5 620.5,1025.6 621.2,1018.0 622.0,1009.2 622.8,1030.0 623.5,1023.6 624.2,1011.1 625.0,1022.1 625.8,1011.0 626.5,1014.8 627.2,1023.7 628.0,1014.6 628.8,1011.3 629.5,1011.8 630.2,1006.2 631.0,1008.1 631.8,1007.0 632.5,1001.9 633.2,995.0 634.0,999.6 634.8,992.1 635.5,1003.5 636.2,1007.5 637.0,992.9 637.8,999.5 638.5,997.8 639.2,987.7 640.0,988.4 640.8,1005.4 641.5,996.4 642.2,1004.3 643.0,988.3 643.8,1000.6 644.5,1006.7 645.2,1006.4 646.0,986.6 646.8,998.1 647.5,994.9 648.2,1004.4 649.0,990.0 649.8,995.4 650.5,1008.6 651.2,1001.5 652.0,1001.4 652.8,1013.1 653.5,998.6 654.2,992.6 655.0,1000.8 655.8,995.8 656.5,994.4 657.2,1005.3 658.0,1013.8 658.8,1005.3 659.5,1006.9 660.2,1000.4 661.0,1007.1 661.8,1012.7 662.5,1010.7 663.2,1016.9 664.0,1012.6 664.8,1006.1 665.5,1015.9 666.2,1015.1 667.0,1009.2 667.8,1020.5 668.5,1025.9 669.2,1011.8 670.0,1021.8 670.8,1026.8 671.5,1020.2 672.2,1017.8 673.0,1020.5 673.8,1024.5 674.5,1027.7 675.2,1024.6 676.0,1014.3 676.8,1029.6 677.5,1031.8 678.2,1013.8 679.0,1017.6 679.8,1016.6 680.5,1032.3 681.2,1034.6 682.0,1016.4 682.8,1023.5 683.5,1021.0 684.2,1027.5 685.0,1037.9 685.8,1019.8 686.5,1022.9 687.2,1030.9 688.0,1032.6 688.8,1038.0 689.5,1031.3 690.2,1024.6 691.0,1029.0 691.8,1042.7 692.5,1037.9 693.2,1024.6 694.0,1040.4 694.8,1030.2 695.5,1040.8 696.2,1024.3 697.0,1043.2 697.8,1028.3 698.5,1035.5 699.2,1040.9 700.0,1038.6 700.8,1032.0 701.5,1032.1 702.2,1035.6 703.0,1030.6 703.8,1034.0 704.5,1031.7 705.2,1038.4 706.0,1035.7 706.8,1040.5 707.5,1034.1 708.2,1029.4 709.0,1036.7 709.8,1046.8 710.5,1036.9 711.2,1040.9 712.0,1049.1 712.8,1042.2 713.5,1052.9 714.2,1053.6 715.0,1040.4 715.8,1049.6 716.5,1039.3 717.2,1037.2 718.0,1044.1 718.8,1048.2 719.5,1055.8 720.2,1039.1 721.0,1051.6 721.8,1046.6 722.5,1039.0 723.2,1056.6 724.0,1050.0 724.8,1037.4 725.5,1054.0 726.2,1037.2 727.0,1037.6 727.8,1043.5 728.5,1056.8 729.2,1037.6 730.0,1056.4 730.8,1049.7 731.5,1037.9 732.2,1048.4 733.0,1045.5 733.8,1047.0 734.5,1049.7 735.2,1047.7 736.0,1054.0 736.8,1036.1 737.5,1050.3 738.2,1042.1 739.0,1050.2 739.8,1052.5 740.5,1054.4 741.2,1038.7 742.0,1042.4 742.8,1052.7 743.5,1052.8 744.2,1040.9 745.0,1053.1 745.8,1041.7 746.5,1040.9 747.2,1048.8 748.0,1042.6 748.8,1042.0 749.5,1040.7 750.2,1041.7 751.0,1035.4 751.8,1033.7 752.5,1048.3 753.2,1044.3 754.0,1046.5 754.8,1049.2 755.5,1036.9 756.2,1036.5 757.0,1036.7 757.8,1036.5 758.5,1045.3 759.2,1036.6 760.0,1035.2 760.8,1041.7 761.5,1032.4 762.2,1031.0 763.0,1043.7 763.8,1045.3 764.5,1036.1 765.2,1043.5 766.0,1031.3 766.8,1039.1 767.5,1042.7 768.2,1035.8 769.0,1037.5 769.8,1042.6 770.5,1041.9 771.2,1032.6 772.0,1043.8 772.8,1030.9 773.5,1049.4 774.2,1033.9 775.0,1035.0 775.8,1033.7 776.5,1049.6 777.2,1034.8 778.0,1041.1 778.8,1048.9 779.5,1048.4 780.2,1030.5 781.0,1040.9 781.8,1043.0 782.5,1045.3 783.2,1037.9 784.0,1037.7 784.8,1031.2 785.5,1032.1 786.2,1043.2 787.0,1034.6 787.8,1038.4 788.5,1042.3 789.2,1038.2 790.0,1038.3 790.8,1056.7 791.5,1047.2 792.2,1042.8 793.0,1053.0 793.8,1039.1 794.5,1043.8 795.2,1058.0 796.0,1056.9 796.8,1052.0 797.5,1041.8 798.2,1047.0 799.0,1042.0 799.8,1046.5 800.5,1043.2 801.2,1045.5 802.0,1055.6 802.8,1045.2 803.5,1046.4 804.2,1061.0 805.0,1049.9 805.8,1049.7 806.5,1044.6 807.2,1058.1 808.0,1055.4 808.8,1052.6 809.5,1053.9 810.2,1043.9 811.0,1047.2 811.8,1053.8 812.5,1061.3 813.2,1059.1 814.0,1055.9 814.8,1053.9 815.5,1044.7 816.2,1062.0 817.0,1047.0 817.8,1048.8 818.5,1060.0 819.2,1062.6 820.0,1062.4 820.8,1056.4 821.5,1051.5 822.2,1048.8 823.0,1064.0 823.8,1065.9 824.5,1051.5 825.2,1062.6 826.0,1053.4 826.8,1051.4 827.5,1054.9 828.2,1045.7 829.0,1053.9 829.8,1049.4 830.5,1058.9 831.2,1055.0 832.0,1061.8 832.8,1062.4 833.5,1051.8 834.2,1051.2 835.0,1063.5 835.8,1055.5 836.5,1048.0 837.2,1047.0 838.0,1064.4 838.8,1056.8 839.5,1047.2 840.2,1055.6 841.0,1055.6 841.8,1054.5 842.5,1063.9 843.2,1063.7 844.0,1048.5 844.8,1048.7 845.5,1052.9 846.2,1060.1 847.0,1055.8 847.8,1057.3 848.5,1054.1 849.2,1047.2 850.0,1057.9 850.8,1043.2 851.5,1055.3 852.2,1046.1 853.0,1050.9 853.8,1059.8 854.5,1052.1 855.2,1043.7 856.0,1050.6 856.8,1055.1 857.5,1044.8 858.2,1048.6 859.0,1044.7 859.8,1054.1 860.5,1051.5 861.2,1053.7 862.0,1050.0 862.8,1055.9 863.5,1046.8 864.2,1058.5 865.0,1058.2 865.8,1048.9 866.5,1047.2 867.2,1052.8 868.0,1042.2 868.8,1050.7 869.5,1041.9 870.2,1049.5 871.0,1043.0 871.8,1047.5 872.5,1052.7 873.2,1037.4 874.0,1049.4 874.8,1043.8 875.5,1039.9 876.2,1038.4 877.0,1032.9 877.8,1035.9 878.5,1042.3 879.2,1034.1 880.0,1044.2 880.8,1049.4 881.5,1049.6 882.2,1047.6 883.0,1045.6 883.8,1034.5 884.5,1046.6 885.2,1033.1 886.0,1043.0 886.8,1041.3 887.5,1034.7 888.2,1030.3 889.0,1022.2 889.8,1024.8 890.5,1018.4 891.2,1012.8 892.0,1010.1 892.8,1018.7 893.5,1019.0 894.2,1005.7 895.0,1003.3 895.8,1007.5 896.5,1005.9 897.2,1007.3 898.0,1014.4 898.8,1012.9 899.5,1014.3 900.2,1012.2 901.0,1020.7 901.8,1015.8 902.5,1018.4 903.2,1020.2 904.0,1028.1 904.8,1019.3 905.5,1028.4 906.2,1024.4 907.0,1036.3 907.8,1031.2 908.5,1034.9 909.2,1041.6 910.0,1039.3 910.8,1031.3 911.5,1033.0 912.2,1046.9 913.0,1033.2 913.8,1038.1 914.5,1049.0 915.2,1035.9 916.0,1039.5 916.8,1041.7 917.5,1041.2 918.2,1048.2 919.0,1051.3 919.8,1048.7 920.5,1047.1 921.2,1058.6 922.0,1059.6 922.8,1057.1 923.5,1051.8 924.2,1058.6 925.0,1060.5 925.8,1057.8 926.5,1064.3 927.2,1057.2 928.0,1058.8 928.8,1053.1 929.5,1060.1 930.2,1063.7 931.0,1064.1 931.8,1057.9 932.5,1069.3 933.2,1065.4 934.0,1060.9 934.8,1060.5 935.5,1066.0 936.2,1057.4 937.0,1064.8 937.8,1066.6 938.5,1064.0 939.2,1069.3 940.0,1063.3 940.8,1063.3 941.5,1060.6 942.2,1070.0 943.0,1060.9 943.8,1066.2 944.5,1061.6 945.2,1068.9 946.0,1068.7 946.8,1055.1 947.5,1069.6 948.2,1064.2 949.0,1056.9 949.8,1063.6 950.5,1057.4 951.2,1065.1 952.0,1060.1 952.8,1063.1 953.5,1062.6 954.2,1067.4 955.0,1071.0 955.8,1072.8 956.5,1063.8 957.2,1067.0 958.0,1058.3 958.8,1063.3 959.5,1071.7 960.2,1059.0 961.0,1069.7 961.8,1066.1 962.5,1060.2 963.2,1066.7 964.0,1058.9 964.8,1067.3 965.5,1055.0 966.2,1055.3 967.0,1064.5 967.8,1060.2 968.5,1055.8 969.2,1061.3 970.0,1058.0 970.8,1061.6 971.5,1064.2 972.2,1065.6 973.0,1053.6 973.8,1061.3 974.5,1067.1 975.2,1059.8 976.0,1065.0 976.8,1056.0 977.5,1068.2 978.2,1064.7 979.0,1069.9 979.8,1068.7 980.5,1069.9 981.2,1057.6 982.0,1066.7 982.8,1058.6 983.5,1059.3 984.2,1060.0 985.0,1063.8 985.8,1064.4 986.5,1068.9 987.2,1055.6 988.0,1058.4 988.8,1061.0 989.5,1067.9 990.2,1064.3 991.0,1064.2 991.8,1068.2 992.5,1066.8 993.2,1061.2 994.0,1057.6 994.8,1062.3 995.5,1067.7 996.2,1063.1 997.0,1054.8 997.8,1060.4 998.5,1059.7 999.2,1062.8 1000.0,1063.3 1000.8,1069.2 1001.5,1060.7 1002.2,1062.1 1003.0,1065.4 1003.8,1069.7 1004.5,1067.4 1005.2,1064.2 1006.0,1069.3 1006.8,1064.6 1007.5,1071.7 1008.2,1061.8 1009.0,1059.5 1009.8,1069.7 1010.5,1061.7 1011.2,1069.5 1012.0,1066.1 1012.8,1065.0 1013.5,1059.5 1014.2,1070.4 1015.0,1060.3 1015.8,1073.2 1016.5,1071.1 1017.2,1061.5 1018.0,1057.6 1018.8,1067.6 1019.5,1061.0 1020.2,1055.7 1021.0,1061.7 1021.8,1058.9 1022.5,1062.3 1023.2,1066.3 1024.0,1070.4 1024.8,1068.2 1025.5,1058.1 1026.2,1062.0 1027.0,1061.8 1027.8,1069.1 1028.5,1056.3 1029.2,1062.9 1030.0,1069.2 1030.8,1062.0 1031.5,1060.1 1032.2,1064.3 1033.0,1060.6 1033.8,1069.1 1034.5,1056.6 1035.2,1058.2 1036.0,1056.3 1036.8,1065.6 1037.5,1059.7 1038.2,1069.0 1039.0,1069.5 1039.8,1070.8 1040.5,1061.5 1041.2,1058.1 1042.0,1063.7 1042.8,1071.7 1043.5,1068.4 1044.2,1057.8 1045.0,1067.3 1045.8,1071.0 1046.5,1072.3 1047.2,1069.1 1048.0,1071.2 1048.8,1070.3 1049.5,1062.4 1050.2,1057.5 1051.0,1065.6 1051.8,1056.1 1052.5,1059.0 1053.2,1067.3 1054.0,1060.6 1054.8,1059.7 1055.5,1065.6 1056.2,1055.8 1057.0,1065.9 1057.8,1064.4 1058.5,1056.2 1059.2,1055.5 1060.0,1052.3 1060.8,1063.3 1061.5,1052.3 1062.2,1049.3 1063.0,1061.9 1063.8,1057.6 1064.5,1058.8 1065.2,1059.8 1066.0,1049.9 1066.8,1050.7 1067.5,1057.0 1068.2,1050.9 1069.0,1057.9 1069.8,1061.6 1070.5,1060.5 1071.2,1059.7 1072.0,1051.1 1072.8,1053.6 1073.5,1063.2 1074.2,1052.4 1075.0,1058.8 1075.8,1052.0 1076.5,1064.8 1077.2,1053.2 1078.0,1056.2 1078.8,1058.0 1079.5,1060.7 1080.2,1064.6 1081.0,1062.6 1081.8,1057.9 1082.5,1054.8 1083.2,1064.5 1084.0,1068.3 1084.8,1054.1 1085.5,1064.4 1086.2,1055.2 1087.0,1058.9 1087.8,1059.8 1088.5,1061.4 1089.2,1067.3 1090.0,1063.4 1090.8,1059.4 1091.5,1063.9 1092.2,1059.9 1093.0,1058.6 1093.8,1057.6 1094.5,1059.4 1095.2,1056.6 1096.0,1056.3 1096.8,1055.2 1097.5,1059.4 1098.2,1057.2 1099.0,1064.8 1099.8,1064.7 1100.5,1057.1 1101.2,1060.9 1102.0,1064.8 1102.8,1057.0 1103.5,1060.0 1104.2,1058.8 1105.0,1062.4 1105.8,1067.5 1106.5,1056.1 1107.2,1068.2 1108.0,1063.7 1108.8,1065.3 1109.5,1062.8 1110.2,1066.1 1111.0,1058.3 1111.8,1063.8 1112.5,1057.2 1113.2,1060.4 1114.0,1062.6 1114.8,1055.6 1115.5,1053.6 1116.2,1064.1 1117.0,1064.3 1117.8,1062.1 1118.5,1056.9 1119.2,1061.6 1120.0,1053.3 1120.8,1061.8 1121.5,1060.6 1122.2,1061.1 1123.0,1058.4 1123.8,1054.6 1124.5,1061.2 1125.2,1056.9 1126.0,1060.4 1126.8,1054.6 1127.5,1050.4 1128.2,1056.9 1129.0,1058.4 1129.8,1063.2 1130.5,1063.1 1131.2,1051.4 1132.0,1061.7 1132.8,1054.3 1133.5,1060.4 1134.2,1055.8 1135.0,1054.9 1135.8,1057.1 1136.5,1057.1 1137.2,1058.7 1138.0,1057.0 1138.8,1057.0 1139.5,1052.7 1140.2,1057.2 1141.0,1052.9 1141.8,1056.7 1142.5,1054.2 1143.2,1054.7 1144.0,1045.5 1144.8,1051.0 1145.5,1045.7 1146.2,1046.7 1147.0,1040.8 1147.8,1047.7 1148.5,1049.5 1149.2,1040.4 1150.0,1035.9 1150.8,1042.8 1151.5,1035.8 1152.2,1047.0 1153.0,1036.3 1153.8,1039.7 1154.5,1041.1 1155.2,1034.9 1156.0,1036.5 1156.8,1034.3 1157.5,1038.6 1158.2,1040.4 1159.0,1029.3 1159.8,1033.3 1160.5,1021.9 1161.2,1026.0 1162.0,1021.3 1162.8,1016.2 1163.5,1020.3 1164.2,1015.1 1165.0,1001.4 1165.8,996.5 1166.5,995.8 1167.2,990.7 1168.0,979.6 1168.8,978.0 1169.5,976.0 1170.2,971.9 1171.0,972.1 1171.8,968.7 1172.5,974.0 1173.2,980.6 1174.0,988.1 1174.8,982.4 1175.5,986.8 1176.2,984.4 1177.0,996.7 1177.8,995.6 1178.5,1002.9 1179.2,996.9 1180.0,1004.9 1180.8,1007.1 1181.5,1006.5 1182.2,1005.7 1183.0,1012.6 1183.8,1021.6 1184.5,1017.6 1185.2,1019.8 1186.0,1027.9 1186.8,1027.1 1187.5,1037.2 1188.2,1039.0 1189.0,1042.1 1189.8,1041.7 1190.5,1040.3 1191.2,1035.4 1192.0,1046.2 1192.8,1046.6 1193.5,1048.4 1194.2,1049.0 1195.0,1051.9 1195.8,1045.2 1196.5,1051.3 1197.2,1049.9 1198.0,1048.4 1198.8,1049.3 1199.5,1048.2 1200.2,1054.4 1201.0,1054.1 1201.8,1056.2 1202.5,1063.4 1203.2,1061.7 1204.0,1062.2 1204.8,1066.7 1205.5,1055.8 1206.2,1060.0 1207.0,1054.2 1207.8,1058.5 1208.5,1066.4 1209.2,1054.0 1210.0,1063.6 1210.8,1065.4 1211.5,1061.0 1212.2,1065.8 1213.0,1061.3 1213.8,1060.4 1214.5,1062.7 1215.2,1058.5 1216.0,1060.4 1216.8,1060.8 1217.5,1070.9 1218.2,1062.0 1219.0,1060.6 1219.8,1070.8 1220.5,1059.5 1221.2,1071.4 1222.0,1070.0 1222.8,1067.2 1223.5,1064.3 1224.2,1061.2 1225.0,1060.0 1225.8,1059.9 1226.5,1063.1 1227.2,1063.4 1228.0,1070.0 1228.8,1063.8 1229.5,1069.5 1230.2,1065.1 1231.0,1056.5 1231.8,1062.1 1232.5,1056.6 1233.2,1055.2 1234.0,1068.6 1234.8,1060.7 1235.5,1059.3 1236.2,1058.5 1237.0,1066.6 1237.8,1064.1 1238.5,1057.9 1239.2,1067.7 1240.0,1060.8 1240.8,1067.8 1241.5,1063.2 1242.2,1063.8 1243.0,1063.0 1243.8,1066.7 1244.5,1071.8 1245.2,1069.6 1246.0,1059.6 1246.8,1065.8 1247.5,1062.1 1248.2,1060.3 1249.0,1061.6 1249.8,1062.3 1250.5,1072.3 1251.2,1069.1 1252.0,1070.5 1252.8,1068.3 1253.5,1063.1 1254.2,1064.7 1255.0,1066.1 1255.8,1064.7 1256.5,1066.9 1257.2,1071.8 1258.0,1061.6 1258.8,1064.0 1259.5,1066.5 1260.2,1069.2 1261.0,1068.9 1261.8,1070.1 1262.5,1061.2 1263.2,1061.8 1264.0,1063.0 1264.8,1061.8 1265.5,1067.8 1266.2,1070.7 1267.0,1066.1 1267.8,1057.1 1268.5,1060.9 1269.2,1068.0 1270.0,1069.5 1270.8,1064.2 1271.5,1059.6 1272.2,1058.4 1273.0,1061.1 1273.8,1063.3 1274.5,1055.2 1275.2,1052.5 1276.0,1049.9 1276.8,1052.6 1277.5,1064.3 1278.2,1063.2 1279.0,1070.5 1279.8,1059.1 1280.5,1063.9 1281.2,1069.9 1282.0,1067.4 1282.8,1058.2 1283.5,1062.2 1284.2,1065.0 1285.0,1065.7 1285.8,1062.6 1286.5,1059.2 1287.2,1070.4 1288.0,1063.6 1288.8,1067.1 1289.5,1064.4 1290.2,1057.6 1291.0,1059.4 1291.8,1056.6 1292.5,1058.2 1293.2,1058.3 1294.0,1061.4 1294.8,1060.2 1295.5,1060.8 1296.2,1067.0 1297.0,1055.5 1297.8,1056.3 1298.5,1066.0 1299.2,1062.3 1300.0,1061.2 1300.8,1059.0 1301.5,1063.0 1302.2,1058.0 1303.0,1066.7 1303.8,1065.4 1304.5,1057.1 1305.2,1051.7 1306.0,1064.4 1306.8,1054.8 1307.5,1060.2 1308.2,1063.3 1309.0,1062.3 1309.8,1063.5 1310.5,1057.3 1311.2,1063.0 1312.0,1055.9 1312.8,1051.5 1313.5,1054.0 1314.2,1050.5 1315.0,1057.3 1315.8,1057.9 1316.5,1044.8 1317.2,1044.3 1318.0,1047.1 1318.8,1047.1 1319.5,1054.9 1320.2,1053.3 1321.0,1052.9 1321.8,1047.8 1322.5,1046.5 1323.2,1038.6 1324.0,1040.4 1324.8,1032.9 1325.5,1047.8 1326.2,1035.7 1327.0,1029.9 1327.8,1032.1 1328.5,1030.1 1329.2,1036.2 1330.0,1021.6 1330.8,1025.0 1331.5,1036.4 1332.2,1033.9 1333.0,1027.8 1333.8,1024.7 1334.5,1017.3 1335.2,1029.2 1336.0,1027.3 1336.8,1023.5 1337.5,1018.3 1338.2,1020.9 1339.0,1025.8 1339.8,1026.6 1340.5,1022.9 1341.2,1030.6 1342.0,1032.2 1342.8,1030.0 1343.5,1033.1 1344.2,1033.5 1345.0,1035.8 1345.8,1041.3 1346.5,1039.3 1347.2,1033.0 1348.0,1043.0 1348.8,1036.0 1349.5,1033.3 1350.2,1036.6 1351.0,1036.2 1351.8,1037.0 1352.5,1035.6 1353.2,1032.1 1354.0,1032.4 1354.8,1021.2 1355.5,1031.1 1356.2,1022.4 1357.0,1022.1 1357.8,1018.8 1358.5,1023.0 1359.2,1014.2 1360.0,1024.2 1360.8,1023.6 1361.5,1021.9 1362.2,1007.7 1363.0,1015.7 1363.8,1017.8 1364.5,1001.2 1365.2,1003.2 1366.0,1004.0 1366.8,1007.9 1367.5,1003.1 1368.2,1011.5 1369.0,1009.5 1369.8,1018.0 1370.5,1019.3 1371.2,1026.1 1372.0,1021.2 1372.8,1033.1 1373.5,1036.8 1374.2,1039.5 1375.0,1029.8 1375.8,1048.6 1376.5,1042.8 1377.2,1037.8 1378.0,1041.3 1378.8,1043.2 1379.5,1043.7 1380.2,1039.5 1381.0,1041.1 1381.8,1044.4 1382.5,1053.3 1383.2,1047.9 1384.0,1041.2 1384.8,1049.0 1385.5,1044.9 1386.2,1042.0 1387.0,1059.3 1387.8,1048.0 1388.5,1052.7 1389.2,1050.1 1390.0,1045.4 1390.8,1059.7 1391.5,1060.4 1392.2,1048.3 1393.0,1052.1 1393.8,1051.5 1394.5,1048.2 1395.2,1055.8 1396.0,1057.0 1396.8,1055.6 1397.5,1053.1 1398.2,1042.3 1399.0,1044.8 1399.8,1048.6 1400.5,1051.1 1401.2,1046.5 1402.0,1047.3 1402.8,1052.5 1403.5,1040.5 1404.2,1043.8 1405.0,1044.0 1405.8,1054.0 1406.5,1042.9 1407.2,1040.1 1408.0,1045.3 1408.8,1048.6 1409.5,1041.7 1410.2,1051.9 1411.0,1043.1 1411.8,1050.9 1412.5,1043.6 1413.2,1054.4 1414.0,1044.9 1414.8,1052.5 1415.5,1053.9 1416.2,1045.4 1417.0,1042.7 1417.8,1049.4 1418.5,1047.5 1419.2,1046.5 1420.0,1050.1 1420.8,1045.2 1421.5,1046.0 1422.2,1046.7 1423.0,1047.4 1423.8,1047.8 1424.5,1045.1 1425.2,1047.4 1426.0,1047.0 1426.8,1046.6 1427.5,1053.9 1428.2,1044.3 1429.0,1045.7 1429.8,1050.5 1430.5,1048.0 1431.2,1047.4 1432.0,1049.7 1432.8,1051.8 1433.5,1054.2 1434.2,1058.1 1435.0,1055.8 1435.8,1049.2 1436.5,1049.2 1437.2,1048.9 1438.0,1047.2 1438.8,1058.5 1439.5,1047.5 1440.2,1050.7 1441.0,1058.2 1441.8,1057.8 1442.5,1053.6 1443.2,1062.7 1444.0,1054.8 1444.8,1056.9 1445.5,1049.5 1446.2,1060.7 1447.0,1049.8 1447.8,1054.3 1448.5,1061.6 1449.2,1062.9 1450.0,1062.9 1450.8,1062.4 1451.5,1054.5 1452.2,1051.9 1453.0,1057.9 1453.8,1052.5 1454.5,1065.4 1455.2,1052.6 1456.0,1057.8 1456.8,1056.8 1457.5,1054.8 1458.2,1061.8 1459.0,1055.8 1459.8,1067.0 1460.5,1063.6 1461.2,1059.1 1462.0,1065.7 1462.8,1065.5 1463.5,1059.6 1464.2,1067.4 1465.0,1069.0 1465.8,1064.8 1466.5,1061.0 1467.2,1068.4 1468.0,1068.8 1468.8,1060.3 1469.5,1056.4 1470.2,1066.8 1471.0,1063.5 1471.8,1057.2 1472.5,1061.7 1473.2,1058.1 1474.0,1066.7 1474.8,1058.8 1475.5,1056.9 1476.2,1054.9 1477.0,1059.2 1477.8,1068.4 1478.5,1058.1 1479.2,1061.6 1480.0,1068.6 1480.8,1055.2 1481.5,1059.1 1482.2,1066.4 1483.0,1056.9 1483.8,1069.0 1484.5,1068.5 1485.2,1059.8 1486.0,1066.6 1486.8,1066.5 1487.5,1068.7 1488.2,1063.4 1489.0,1064.4 1489.8,1062.2 1490.5,1062.8 1491.2,1061.3 1492.0,1071.4 1492.8,1071.2 1493.5,1064.0 1494.2,1068.3 1495.0,1065.1 1495.8,1062.0 1496.5,1062.9 1497.2,1071.4 1498.0,1063.2 1498.8,1066.7 1499.5,1072.0 1500.2,1063.6 1501.0,1071.1 1501.8,1062.1 1502.5,1071.0 1503.2,1072.0 1504.0,1072.1 1504.8,1073.4 1505.5,1069.2 1506.2,1072.3 1507.0,1062.5 1507.8,1065.7 1508.5,1061.5 1509.2,1059.8 1510.0,1064.7 1510.8,1068.4 1511.5,1068.7 1512.2,1057.6 1513.0,1069.3 1513.8,1059.2 1514.5,1059.7 1515.2,1067.3 1516.0,1068.5 1516.8,1066.6 1517.5,1061.0 1518.2,1062.4 1519.0,1067.1 1519.8,1060.4 1520.5,1066.7 1521.2,1067.0 1522.0,1063.6 1522.8,1070.3 1523.5,1063.9 1524.2,1069.1 1525.0,1067.5 1525.8,1063.2 1526.5,1065.8 1527.2,1067.0 1528.0,1066.4 1528.8,1061.0 1529.5,1073.3 1530.2,1072.9 1531.0,1060.0 1531.8,1071.8 1532.5,1065.6 1533.2,1059.5 1534.0,1068.7 1534.8,1063.2 1535.5,1066.9 1536.2,1068.2 1537.0,1063.8 1537.8,1056.4 1538.5,1066.0 1539.2,1063.3 1540.0,1065.5 1540.8,1056.4 1541.5,1063.7 1542.2,1065.6 1543.0,1059.6 1543.8,1061.4 1544.5,1061.2 1545.2,1057.1 1546.0,1060.1 1546.8,1060.9 1547.5,1057.2 1548.2,1065.4 1549.0,1060.3 1549.8,1061.9 1550.5,1057.8 1551.2,1058.4 1552.0,1063.0 1552.8,1058.1 1553.5,1058.6 1554.2,1055.0 1555.0,1055.7 1555.8,1059.6 1556.5,1050.5 1557.2,1053.4 1558.0,1054.9 1558.8,1045.7 1559.5,1056.3 1560.2,1048.6 1561.0,1043.9 1561.8,1049.8 1562.5,1049.6 1563.2,1046.2 1564.0,1049.3 1564.8,1037.4 1565.5,1042.8 1566.2,1045.2 1567.0,1046.9 1567.8,1042.2 1568.5,1040.7 1569.2,1036.7 1570.0,1038.3 1570.8,1037.3 1571.5,1041.4 1572.2,1039.7 1573.0,1038.2 1573.8,1040.9 1574.5,1029.7 1575.2,1040.2 1576.0,1037.2 1576.8,1042.6 1577.5,1038.1 1578.2,1042.3 1579.0,1049.0 1579.8,1039.8 1580.5,1044.5 1581.2,1048.3 1582.0,1054.5 1582.8,1048.1 1583.5,1057.5 1584.2,1051.7 1585.0,1054.5 1585.8,1059.6 1586.5,1062.4 1587.2,1066.6 1588.0,1067.4 1588.8,1059.4 1589.5,1066.6 1590.2,1065.4 1591.0,1062.2 1591.8,1067.6 1592.5,1069.4 1593.2,1064.1 1594.0,1070.6 1594.8,1060.5 1595.5,1061.6 1596.2,1070.0 1597.0,1063.8 1597.8,1067.5 1598.5,1066.1 1599.2,1061.0 1600.0,1068.9 1600.8,1068.1 1601.5,1059.3 1602.2,1060.2 1603.0,1067.2 1603.8,1068.6 1604.5,1068.1 1605.2,1063.3 1606.0,1061.8 1606.8,1063.4 1607.5,1060.4 1608.2,1065.8 1609.0,1063.1 1609.8,1062.8 1610.5,1066.0 1611.2,1061.3 1612.0,1066.3 1612.8,1068.9 1613.5,1068.0 1614.2,1072.4 1615.0,1071.1 1615.8,1067.5 1616.5,1070.8 1617.2,1064.2 1618.0,1068.7 1618.8,1061.5 1619.5,1064.9 1620.2,1071.4 1621.0,1066.9 1621.8,1066.5 1622.5,1071.2 1623.2,1065.4 1624.0,1072.8 1624.8,1061.6 1625.5,1064.1 1626.2,1062.7 1627.0,1063.2 1627.8,1072.2 1628.5,1059.4 1629.2,1063.3 1630.0,1067.5 1630.8,1069.8 1631.5,1071.3 1632.2,1066.5 1633.0,1064.8 1633.8,1074.1 1634.5,1064.6 1635.2,1063.9 1636.0,1065.9 1636.8,1068.9 1637.5,1074.4 1638.2,1071.0 1639.0,1068.5 1639.8,1067.9 1640.5,1070.1 1641.2,1069.2 1642.0,1065.5 1642.8,1062.7 1643.5,1065.1 1644.2,1073.9 1645.0,1072.3 1645.8,1074.3 1646.5,1063.3 1647.2,1074.1 1648.0,1066.3 1648.8,1073.6 1649.5,1069.4 1650.2,1069.2 1651.0,1073.3 1651.8,1070.7 1652.5,1071.0 1653.2,1063.4 1654.0,1069.0 1654.8,1065.3 1655.5,1061.3 1656.2,1062.2 1657.0,1067.3 1657.8,1064.7 1658.5,1072.2 1659.2,1063.8 1660.0,1062.6 1660.8,1076.2 1661.5,1066.6 1662.2,1068.6 1663.0,1063.5 1663.8,1062.4 1664.5,1064.3 1665.2,1069.2 1666.0,1058.9 1666.8,1070.2 1667.5,1072.5 1668.2,1066.7 1669.0,1064.1 1669.8,1062.5 1670.5,1062.3 1671.2,1064.8 1672.0,1072.8 1672.8,1061.7 1673.5,1072.6 1674.2,1070.7 1675.0,1061.1 1675.8,1061.0 1676.5,1069.4 1677.2,1068.2 1678.0,1063.3 1678.8,1071.2 1679.5,1062.8 1680.2,1066.3 1681.0,1062.5 1681.8,1070.1 1682.5,1062.6 1683.2,1064.0 1684.0,1072.2 1684.8,1068.8 1685.5,1071.4 1686.2,1072.7 1687.0,1071.0 1687.8,1064.9 1688.5,1070.9 1689.2,1061.8 1690.0,1063.0 1690.8,1064.9 1691.5,1060.2 1692.2,1060.3 1693.0,1068.2 1693.8,1069.6 1694.5,1064.6 1695.2,1064.8 1696.0,1062.2 1696.8,1066.5 1697.5,1067.7 1698.2,1073.0 1699.0,1061.1 1699.8,1073.3 1700.5,1074.2 1701.2,1064.7 1702.0,1068.9 1702.8,1069.3 1703.5,1066.1 1704.2,1060.7 1705.0,1065.0 1705.8,1068.2 1706.5,1057.4 1707.2,1062.3 1708.0,1056.0 1708.8,1067.6 1709.5,1067.1 1710.2,1057.5 1711.0,1067.5 1711.8,1067.0 1712.5,1059.4 1713.2,1065.0 1714.0,1067.6 1714.8,1063.1 1715.5,1065.9 1716.2,1072.9 1717.0,1068.6 1717.8,1066.7 1718.5,1060.3 1719.2,1060.5 1720.0,1069.8 1720.8,1067.6 1721.5,1068.2 1722.2,1064.1 1723.0,1063.7 1723.8,1062.7 1724.5,1065.1 1725.2,1059.0 1726.0,1060.6 1726.8,1059.5 1727.5,1061.3 1728.2,1054.4 1729.0,1051.1 1729.8,1051.3 1730.5,1051.8 1731.2,1060.4 1732.0,1057.5 1732.8,1057.0 1733.5,1051.9 1734.2,1046.4 1735.0,1050.9 1735.8,1056.3 1736.5,1051.5 1737.2,1053.6 1738.0,1050.6 1738.8,1048.1 1739.5,1055.1 1740.2,1053.4 1741.0,1051.8 1741.8,1051.0 1742.5,1057.7 1743.2,1053.4 1744.0,1058.0 1744.8,1054.3 1745.5,1061.6 1746.2,1056.7 1747.0,1058.3 1747.8,1064.9 1748.5,1062.3 1749.2,1062.9 1750.0,1057.7 1750.8,1064.9 1751.5,1059.2 1752.2,1068.3 1753.0,1068.1 1753.8,1065.8 1754.5,1068.6 1755.2,1064.2 1756.0,1065.8 1756.8,1056.1 1757.5,1066.8 1758.2,1063.4 1759.0,1054.0 1759.8,1055.5 1760.5,1060.2 1761.2,1062.8 1762.0,1053.9 1762.8,1064.4 1763.5,1055.2 1764.2,1063.6 1765.0,1060.2 1765.8,1056.7 1766.5,1055.1 1767.2,1051.4 1768.0,1050.9 1768.8,1058.0 1769.5,1059.6 1770.2,1061.4 1771.0,1054.0 1771.8,1062.2 1772.5,1053.6 1773.2,1062.5 1774.0,1062.2 1774.8,1051.5 1775.5,1061.0 1776.2,1058.6 1777.0,1058.5 1777.8,1060.6 1778.5,1056.8 1779.2,1056.9 1780.0,1055.6 1780.8,1063.0 1781.5,1063.9 1782.2,1053.8 1783.0,1062.1 1783.8,1055.0 1784.5,1053.3 1785.2,1052.8 1786.0,1057.2 1786.8,1052.3 1787.5,1051.1 1788.2,1048.6 1789.0,1051.7 1789.8,1058.3 1790.5,1048.6 1791.2,1055.9 1792.0,1058.3 1792.8,1051.1 1793.5,1054.6 1794.2,1063.0 1795.0,1064.1 1795.8,1062.3 1796.5,1053.5 1797.2,1062.6 1798.0,1059.1 1798.8,1055.8 1799.5,1060.4 1800.2,1066.6 1801.0,1065.9 1801.8,1059.3 1802.5,1054.9 1803.2,1066.8 1804.0,1068.5 1804.8,1062.6 1805.5,1059.3 1806.2,1064.3 1807.0,1066.9 1807.8,1064.2 1808.5,1062.6 1809.2,1061.3 1810.0,1062.1 1810.8,1058.9 1811.5,1062.1 1812.2,1072.3 1813.0,1060.0 1813.8,1070.6 1814.5,1071.9 1815.2,1066.9 1816.0,1069.9 1816.8,1065.1 1817.5,1071.8 1818.2,1072.8 1819.0,1073.4 1819.8,1070.0 1820.5,1076.3 1821.2,1074.2 1822.0,1069.4 1822.8,1070.3 1823.5,1064.3 1824.2,1073.6 1825.0,1069.8 1825.8,1073.8 1826.5,1066.0 1827.2,1076.1 1828.0,1064.4 1828.8,1070.6 1829.5,1064.9 1830.2,1066.0 1831.0,1073.9 1831.8,1064.1 1832.5,1068.4 1833.2,1065.6 1834.0,1074.3 1834.8,1063.3 1835.5,1066.5 1836.2,1073.6 1837.0,1071.5 1837.8,1072.0 1838.5,1076.1 1839.2,1062.7 1840.0,1071.3 1840.8,1072.1 1841.5,1071.8 1842.2,1071.2 1843.0,1062.3 1843.8,1062.6 1844.5,1072.5 1845.2,1070.8 1846.0,1066.6 1846.8,1063.7 1847.5,1071.5 1848.2,1065.7 1849.0,1074.8 1849.8,1069.0 1850.5,1075.1 1851.2,1064.8 1852.0,1070.0 1852.8,1064.3 1853.5,1073.5 1854.2,1070.1 1855.0,1065.2 1855.8,1075.1 1856.5,1071.3 1857.2,1066.9 1858.0,1074.7 1858.8,1068.8 1859.5,1077.1 1860.2,1068.4 1861.0,1078.0 1861.8,1064.9 1862.5,1073.6 1863.2,1066.8 1864.0,1068.0 1864.8,1070.4 1865.5,1062.0 1866.2,1064.4 1867.0,1062.5 1867.8,1070.9 1868.5,1063.2 1869.2,1066.6 1870.0,1064.1 1870.8,1062.9 1871.5,1073.0 1872.2,1067.3 1873.0,1069.5 1873.8,1070.2 1874.5,1071.6 1875.2,1063.4 1876.0,1060.2 1876.8,1065.0 1877.5,1060.3 1878.2,1058.0 1879.0,1070.6 1879.8,1067.0 1880.5,1064.6 1881.2,1061.1 1882.0,1070.0 1882.8,1066.8 1883.5,1061.3 1884.2,1071.8 1885.0,1070.5 1885.8,1069.4 1886.5,1067.5 1887.2,1062.9 1888.0,1059.2 1888.8,1063.5 1889.5,1055.7 1890.2,1061.2 1891.0,1052.7 1891.8,1051.3 1892.5,1060.6 1893.2,1055.2 1894.0,1060.1 1894.8,1061.5 1895.5,1062.7 1896.2,1060.0 1897.0,1063.5 1897.8,1060.9 1898.5,1064.5 1899.2,1063.8 1900.0,1051.3 1900.8,1053.4 1901.5,1053.5 1902.2,1049.5 1903.0,1046.2 1903.8,1054.0 1904.5,1041.0 1905.2,1043.2 1906.0,1052.0 1906.8,1045.7 1907.5,1047.5 1908.2,1058.5 1909.0,1056.5 1909.8,1052.6 1910.5,1048.4 1911.2,1050.1 1912.0,1059.5 1912.8,1056.3 1913.5,1045.7 1914.2,1054.2 1915.0,1049.4 1915.8,1054.3 1916.5,1048.8 1917.2,1046.9 1918.0,1045.6 1918.8,1049.6 1919.5,1057.6 1920.2,1058.3 1921.0,1056.0 1921.8,1057.8 1922.5,1051.2 1923.2,1054.4 1924.0,1062.8 1924.8,1064.7 1925.5,1057.8 1926.2,1063.0 1927.0,1065.7 1927.8,1067.1 1928.5,1057.8 1929.2,1063.1 1930.0,1059.6 1930.8,1060.5 1931.5,1060.0 1932.2,1056.8 1933.0,1052.5 1933.8,1062.3 1934.5,1061.3 1935.2,1063.9 1936.0,1055.3 1936.8,1057.7 1937.5,1063.7 1938.2,1069.2 1939.0,1063.3 1939.8,1059.9 1940.5,1065.5 1941.2,1070.6 1942.0,1069.2 1942.8,1069.2 1943.5,1062.0 1944.2,1059.7 1945.0,1068.1 1945.8,1067.3 1946.5,1068.7 1947.2,1062.9 1948.0,1061.9 1948.8,1061.5 1949.5,1070.4 1950.2,1071.1 1951.0,1063.1 1951.8,1069.9 1952.5,1062.6 1953.2,1063.0 1954.0,1064.3 1954.8,1059.3 1955.5,1060.0 1956.2,1060.3 1957.0,1060.6 1957.8,1064.6 1958.5,1059.1 1959.2,1068.7 1960.0,1060.3 1960.8,1064.1 1961.5,1066.9 1962.2,1059.8 1963.0,1063.5 1963.8,1065.4 1964.5,1065.0 1965.2,1069.6 1966.0,1068.0 1966.8,1058.8 1967.5,1068.7 1968.2,1064.6 1969.0,1066.1 1969.8,1058.4 1970.5,1062.5 1971.2,1065.7 1972.0,1067.5 1972.8,1068.2 1973.5,1060.6 1974.2,1069.5 1975.0,1065.7 1975.8,1066.6 1976.5,1068.5 1977.2,1061.7 1978.0,1068.7 1978.8,1068.3 1979.5,1067.6 1980.2,1062.0 1981.0,1064.6 1981.8,1060.2 1982.5,1068.8 1983.2,1070.9 1984.0,1060.7 1984.8,1068.6 1985.5,1067.6 1986.2,1058.5 1987.0,1071.1 1987.8,1065.4 1988.5,1062.9 1989.2,1059.8 1990.0,1070.3 1990.8,1064.0 1991.5,1066.4 1992.2,1062.1 1993.0,1068.2 1993.8,1065.6 1994.5,1071.7 1995.2,1069.9 1996.0,1070.6 1996.8,1063.9 1997.5,1061.0 1998.2,1072.1 1999.0,1072.6 1999.8,1068.2 2000.5,1071.7 2001.2,1068.5 2002.0,1066.9 2002.8,1064.3 2003.5,1063.5 2004.2,1065.7 2005.0,1062.5 2005.8,1065.8 2006.5,1067.3 2007.2,1060.8 2008.0,1065.8 2008.8,1064.3 2009.5,1069.4 2010.2,1072.1 2011.0,1069.6 2011.8,1070.4 2012.5,1069.6 2013.2,1064.2 2014.0,1065.5 2014.8,1071.8 2015.5,1073.1 2016.2,1062.5 2017.0,1060.1 2017.8,1073.3 2018.5,1071.5 2019.2,1067.5 2020.0,1069.8 2020.8,1066.1 2021.5,1070.2 2022.2,1060.9 2023.0,1063.9 2023.8,1067.4 2024.5,1061.4 2025.2,1068.6 2026.0,1062.3 2026.8,1068.6 2027.5,1070.0 2028.2,1064.9 2029.0,1073.1 2029.8,1068.4 2030.5,1070.4 2031.2,1060.4 2032.0,1062.1 2032.8,1070.9 2033.5,1074.8 2034.2,1070.9 2035.0,1075.3 2035.8,1063.6"/>
<polyline fill="none" stroke="#000000" stroke-width="6.0" stroke-linejoin="round" points="136.0,746.4 136.8,752.6 137.5,750.2 138.2,738.4 139.0,740.1 139.8,752.6 140.5,733.3 141.2,750.7 142.0,749.6 142.8,741.8 143.5,737.6 144.2,736.7 145.0,736.2 145.8,740.6 146.5,742.5 147.2,744.2 148.0,754.7 148.8,751.1 149.5,748.1 150.2,756.8 151.0,740.3 151.8,739.3 152.5,749.0 153.2,736.2 154.0,735.5 154.8,745.4 155.5,743.8 156.2,753.3 157.0,746.8 157.8,744.1 158.5,743.3 159.2,737.4 160.0,731.8 160.8,735.4 161.5,746.3 162.2,736.0 163.0,740.4 163.8,733.2 164.5,751.8 165.2,737.4 166.0,740.0 166.8,753.2 167.5,745.0 168.2,752.3 169.0,747.8 169.8,750.0 170.5,735.7 171.2,745.3 172.0,744.4 172.8,752.2 173.5,741.3 174.2,746.7 175.0,735.4 175.8,742.9 176.5,741.8 177.2,738.2 178.0,752.7 178.8,743.0 179.5,755.7 180.2,746.9 181.0,747.2 181.8,748.1 182.5,749.5 183.2,738.9 184.0,746.0 184.8,742.3 185.5,746.1 186.2,739.6 187.0,758.5 187.8,742.2 188.5,752.1 189.2,744.0 190.0,756.0 190.8,750.8 191.5,738.4 192.2,752.9 193.0,754.4 193.8,753.3 194.5,746.4 195.2,738.0 196.0,740.1 196.8,756.9 197.5,749.4 198.2,741.4 199.0,756.2 199.8,750.4 200.5,748.2 201.2,743.5 202.0,743.8 202.8,739.7 203.5,735.0 204.2,752.7 205.0,743.6 205.8,745.0 206.5,739.9 207.2,749.0 208.0,733.4 208.8,741.2 209.5,734.2 210.2,736.6 211.0,755.1 211.8,748.6 212.5,743.7 213.2,745.6 214.0,753.0 214.8,741.7 215.5,747.1 216.2,749.3 217.0,742.5 217.8,746.4 218.5,751.8 219.2,754.9 220.0,738.5 220.8,755.0 221.5,734.6 222.2,750.2 223.0,751.0 223.8,736.1 224.5,741.9 225.2,750.3 226.0,733.1 226.8,746.2 227.5,749.8 228.2,743.8 229.0,748.5 229.8,737.9 230.5,737.4 231.2,741.0 232.0,736.9 232.8,740.5 233.5,753.5 234.2,746.0 235.0,741.5 235.8,740.3 236.5,754.7 237.2,743.5 238.0,754.7 238.8,744.7 239.5,745.2 240.2,753.8 241.0,751.1 241.8,748.1 242.5,744.8 243.2,754.2 244.0,743.7 244.8,753.9 245.5,735.3 246.2,742.8 247.0,744.9 247.8,754.2 248.5,739.4 249.2,751.1 250.0,748.3 250.8,749.2 251.5,747.5 252.2,754.9 253.0,741.4 253.8,742.7 254.5,738.4 255.2,734.9 256.0,738.1 256.8,752.8 257.5,751.2 258.2,735.7 259.0,746.1 259.8,743.3 260.5,745.3 261.2,746.1 262.0,737.9 262.8,751.1 263.5,740.1 264.2,743.5 265.0,744.2 265.8,735.5 266.5,734.0 267.2,742.3 268.0,750.0 268.8,750.5 269.5,747.6 270.2,733.0 271.0,748.5 271.8,745.1 272.5,746.0 273.2,738.1 274.0,746.2 274.8,727.8 275.5,727.6 276.2,727.8 277.0,733.5 277.8,734.5 278.5,734.2 279.2,743.0 280.0,732.3 280.8,744.1 281.5,735.2 282.2,745.9 283.0,731.8 283.8,737.3 284.5,749.8 285.2,740.5 286.0,745.5 286.8,742.0 287.5,741.0 288.2,732.5 289.0,740.9 289.8,729.8 290.5,745.8 291.2,749.0 292.0,746.6 292.8,729.7 293.5,735.9 294.2,735.9 295.0,732.0 295.8,743.2 296.5,746.9 297.2,736.4 298.0,747.3 298.8,745.2 299.5,730.6 300.2,743.8 301.0,746.3 301.8,732.1 302.5,740.3 303.2,742.0 304.0,741.5 304.8,730.8 305.5,742.8 306.2,742.2 307.0,746.0 307.8,745.2 308.5,734.5 309.2,742.1 310.0,744.4 310.8,744.4 311.5,728.8 312.2,726.2 313.0,740.0 313.8,731.4 314.5,739.4 315.2,748.1 316.0,736.5 316.8,734.0 317.5,738.1 318.2,741.8 319.0,729.2 319.8,734.3 320.5,728.5 321.2,739.6 322.0,743.5 322.8,734.4 323.5,734.7 324.2,738.4 325.0,731.1 325.8,731.0 326.5,731.9 327.2,733.8 328.0,725.4 328.8,739.6 329.5,736.0 330.2,730.2 331.0,725.8 331.8,740.9 332.5,727.8 333.2,728.3 334.0,728.7 334.8,728.0 335.5,746.2 336.2,733.1 337.0,734.6 337.8,746.7 338.5,742.8 339.2,734.0 340.0,739.6 340.8,749.2 341.5,737.9 342.2,744.6 343.0,730.7 343.8,743.8 344.5,744.4 345.2,745.2 346.0,741.8 346.8,735.1 347.5,728.3 348.2,738.1 349.0,743.4 349.8,731.4 350.5,733.4 351.2,739.5 352.0,744.2 352.8,747.4 353.5,730.3 354.2,731.0 355.0,743.7 355.8,739.5 356.5,740.5 357.2,746.3 358.0,745.1 358.8,743.5 359.5,742.6 360.2,734.8 361.0,740.7 361.8,730.9 362.5,743.4 363.2,743.1 364.0,742.0 364.8,735.6 365.5,733.8 366.2,734.3 367.0,725.2 367.8,742.1 368.5,734.4 369.2,730.2 370.0,733.5 370.8,737.6 371.5,730.6 372.2,741.1 373.0,743.5 373.8,732.1 374.5,726.8 375.2,740.9 376.0,746.4 376.8,728.1 377.5,740.6 378.2,742.6 379.0,743.7 379.8,725.0 380.5,723.4 381.2,742.8 382.0,723.4 382.8,724.8 383.5,733.7 384.2,730.8 385.0,737.4 385.8,724.9 386.5,741.3 387.2,726.3 388.0,739.3 388.8,724.2 389.5,733.4 390.2,723.3 391.0,729.1 391.8,728.6 392.5,737.5 393.2,731.7 394.0,723.3 394.8,744.8 395.5,742.6 396.2,743.1 397.0,727.8 397.8,730.8 398.5,726.9 399.2,724.5 400.0,722.5 400.8,733.0 401.5,724.6 402.2,725.9 403.0,741.5 403.8,733.3 404.5,726.9 405.2,738.1 406.0,729.1 406.8,734.7 407.5,728.5 408.2,732.8 409.0,734.1 409.8,730.9 410.5,726.8 411.2,735.2 412.0,736.9 412.8,721.3 413.5,720.6 414.2,720.4 415.0,740.7 415.8,740.6 416.5,725.4 417.2,742.9 418.0,726.0 418.8,732.8 419.5,732.2 420.2,741.1 421.0,720.6 421.8,726.3 422.5,732.3 423.2,719.8 424.0,723.5 424.8,728.4 425.5,737.5 426.2,734.4 427.0,735.5 427.8,733.5 428.5,731.9 429.2,734.8 430.0,730.8 430.8,732.0 431.5,722.3 432.2,719.7 433.0,733.9 433.8,721.1 434.5,739.1 435.2,732.2 436.0,726.3 436.8,740.1 437.5,721.6 438.2,729.2 439.0,718.8 439.8,738.4 440.5,729.1 441.2,734.1 442.0,722.0 442.8,733.8 443.5,731.5 444.2,730.1 445.0,737.2 445.8,725.2 446.5,724.6 447.2,730.8 448.0,733.9 448.8,722.3 449.5,730.2 450.2,720.0 451.0,728.4 451.8,733.9 452.5,718.0 453.2,733.5 454.0,717.0 454.8,738.6 455.5,727.2 456.2,725.9 457.0,733.7 457.8,730.0 458.5,735.7 459.2,721.2 460.0,732.5 460.8,732.1 461.5,740.4 462.2,719.3 463.0,728.6 463.8,732.5 464.5,730.4 465.2,719.1 466.0,731.1 466.8,722.3 467.5,721.6 468.2,737.3 469.0,720.9 469.8,726.2 470.5,732.3 471.2,730.7 472.0,726.7 472.8,732.4 473.5,724.6 474.2,728.4 475.0,733.3 475.8,730.2 476.5,729.3 477.2,723.6 478.0,727.0 478.8,723.4 479.5,732.1 480.2,724.4 481.0,727.4 481.8,735.1 482.5,729.8 483.2,726.1 484.0,737.4 484.8,726.7 485.5,737.2 486.2,735.6 487.0,727.4 487.8,733.5 488.5,717.4 489.2,725.4 490.0,736.1 490.8,728.9 491.5,727.8 492.2,729.9 493.0,729.7 493.8,726.9 494.5,722.2 495.2,715.6 496.0,717.2 496.8,716.5 497.5,719.5 498.2,733.3 499.0,718.7 499.8,721.7 500.5,720.4 501.2,725.4 502.0,733.7 502.8,731.7 503.5,719.1 504.2,716.2 505.0,730.8 505.8,721.6 506.5,726.5 507.2,712.2 508.0,731.4 508.8,718.5 509.5,723.0 510.2,716.1 511.0,721.5 511.8,731.3 512.5,731.4 513.2,722.9 514.0,729.7 514.8,722.0 515.5,719.7 516.2,723.8 517.0,715.9 517.8,719.2 518.5,729.2 519.2,731.1 520.0,714.2 520.8,730.1 521.5,731.5 522.2,721.8 523.0,711.8 523.8,725.9 524.5,715.1 525.2,724.4 526.0,718.0 526.8,724.4 527.5,715.5 528.2,720.9 529.0,722.4 529.8,725.3 530.5,715.4 531.2,733.8 532.0,717.6 532.8,717.5 533.5,715.4 534.2,709.7 535.0,716.9 535.8,723.6 536.5,720.0 537.2,705.2 538.0,700.7 538.8,701.6 539.5,707.5 540.2,694.5 541.0,698.5 541.8,687.0 542.5,681.4 543.2,678.5 544.0,665.1 544.8,627.5 545.5,602.6 546.2,585.5 547.0,567.4 547.8,541.9 548.5,533.0 549.2,524.6 550.0,502.5 550.8,493.1 551.5,487.4 552.2,488.8 553.0,510.0 553.8,496.5 554.5,509.3 555.2,517.8 556.0,535.3 556.8,535.6 557.5,557.6 558.2,561.9 559.0,574.0 559.8,595.2 560.5,590.3 561.2,611.9 562.0,621.6 562.8,646.7 563.5,675.3 564.2,666.7 565.0,689.5 565.8,693.4 566.5,691.8 567.2,680.6 568.0,698.5 568.8,700.7 569.5,708.3 570.2,698.7 571.0,719.7 571.8,721.9 572.5,707.4 573.2,715.0 574.0,711.0 574.8,731.9 575.5,735.3 576.2,737.5 577.0,728.0 577.8,728.1 578.5,727.4 579.2,724.2 580.0,733.2 580.8,725.7 581.5,720.0 582.2,724.5 583.0,712.9 583.8,728.8 584.5,727.4 585.2,720.5 586.0,730.1 586.8,727.9 587.5,718.3 588.2,712.5 589.0,714.1 589.8,715.7 590.5,718.7 591.2,722.0 592.0,732.6 592.8,716.8 593.5,730.3 594.2,724.5 595.0,728.0 595.8,717.4 596.5,708.1 597.2,726.0 598.0,713.2 598.8,710.5 599.5,725.5 600.2,722.7 601.0,711.7 601.8,712.7 602.5,727.7 603.2,711.8 604.0,721.4 604.8,708.1 605.5,723.9 606.2,708.0 607.0,717.2 607.8,706.3 608.5,718.3 609.2,725.4 610.0,708.4 610.8,713.0 611.5,724.1 612.2,720.0 613.0,712.5 613.8,718.8 614.5,713.9 615.2,722.7 616.0,709.6 616.8,720.4 617.5,718.1 618.2,720.9 619.0,712.9 619.8,720.7 620.5,719.8 621.2,712.2 622.0,703.4 622.8,724.2 623.5,717.8 624.2,705.3 625.0,716.3 625.8,705.2 626.5,709.0 627.2,717.9 628.0,708.8 628.8,705.5 629.5,706.0 630.2,700.4 631.0,702.3 631.8,701.2 632.5,696.1 633.2,689.2 634.0,693.8 634.8,686.3 635.5,697.7 636.2,701.7 637.0,687.1 637.8,693.7 638.5,692.0 639.2,681.9 640.0,682.6 640.8,699.6 641.5,690.6 642.2,698.5 643.0,682.5 643.8,694.8 644.5,700.9 645.2,700.6 646.0,680.8 646.8,692.3 647.5,689.1 648.2,698.6 649.0,684.2 649.8,689.6 650.5,702.8 651.2,695.7 652.0,695.6 652.8,707.3 653.5,692.8 654.2,686.8 655.0,695.0 655.8,690.0 656.5,688.6 657.2,699.5 658.0,708.0 658.8,699.5 659.5,701.1 660.2,694.6 661.0,701.3 661.8,706.9 662.5,704.9 663.2,711.1 664.0,706.8 664.8,700.3 665.5,710.1 666.2,709.3 667.0,703.4 667.8,714.7 668.5,720.1 669.2,706.0 670.0,716.0 670.8,721.0 671.5,714.4 672.2,712.0 673.0,714.7 673.8,718.7 674.5,721.9 675.2,718.8 676.0,708.5 676.8,723.8 677.5,726.0 678.2,708.0 679.0,711.8 679.8,710.8 680.5,726.5 681.2,728.8 682.0,710.6 682.8,717.7 683.5,715.2 684.2,721.7 685.0,732.1 685.8,714.0 686.5,717.1 687.2,725.1 688.0,726.8 688.8,732.2 689.5,725.5 690.2,718.8 691.0,723.2 691.8,736.9 692.5,732.1 693.2,718.8 694.0,734.6 694.8,724.4 695.5,735.0 696.2,718.5 697.0,737.4 697.8,722.5 698.5,729.7 699.2,735.1 700.0,732.8 700.8,726.2 701.5,726.3 702.2,729.8 703.0,724.8 703.8,728.2 704.5,725.9 705.2,732.6 706.0,729.9 706.8,734.7 707.5,728.3 708.2,723.6 709.0,730.9 709.8,741.0 710.5,731.1 711.2,735.1 712.0,743.3 712.8,736.4 713.5,747.1 714.2,747.8 715.0,734.6 715.8,743.8 716.5,733.5 717.2,731.4 718.0,738.3 718.8,742.4 719.5,750.0 720.2,733.3 721.0,745.8 721.8,740.8 722.5,733.2 723.2,750.8 724.0,744.2 724.8,731.6 725.5,748.2 726.2,731.4 727.0,731.8 727.8,737.7 728.5,751.0 729.2,731.8 730.0,750.6 730.8,743.9 731.5,732.1 732.2,742.6 733.0,739.7 733.8,741.2 734.5,743.9 735.2,741.9 736.0,748.2 736.8,730.3 737.5,744.5 738.2,736.3 739.0,744.4 739.8,746.7 740.5,748.6 741.2,732.9 742.0,736.6 742.8,746.9 743.5,747.0 744.2,735.1 745.0,747.3 745.8,735.9 746.5,735.1 747.2,743.0 748.0,736.8 748.8,736.2 749.5,734.9 750.2,735.9 751.0,729.6 751.8,727.9 752.5,742.5 753.2,738.5 754.0,740.7 754.8,743.4 755.5,731.1 756.2,730.7 757.0,730.9 757.8,730.7 758.5,739.5 759.2,730.8 760.0,729.4 760.8,735.9 761.5,726.6 762.2,725.2 763.0,737.9 763.8,739.5 764.5,730.3 765.2,737.7 766.0,725.5 766.8,733.3 767.5,736.9 768.2,730.0 769.0,731.7 769.8,736.8 770.5,736.1 771.2,726.8 772.0,738.0 772.8,725.1 773.5,743.6 774.2,728.1 775.0,729.2 775.8,727.9 776.5,743.8 777.2,729.0 778.0,735.3 778.8,743.1 779.5,742.6 780.2,724.7 781.0,735.1 781.8,737.2 782.5,739.5 783.2,732.1 784.0,731.9 784.8,725.4 785.5,726.3 786.2,737.4 787.0,728.8 787.8,732.6 788.5,736.5 789.2,732.4 790.0,732.5 790.8,750.9 791.5,741.4 792.2,737.0 793.0,747.2 793.8,733.3 794.5,738.0 795.2,752.2 796.0,751.1 796.8,746.2 797.5,736.0 798.2,741.2 799.0,736.2 799.8,740.7 800.5,737.4 801.2,739.7 802.0,749.8 802.8,739.4 803.5,740.6 804.2,755.2 805.0,744.1 805.8,743.9 806.5,738.8 807.2,752.3 808.0,749.6 808.8,746.8 809.5,748.1 810.2,738.1 811.0,741.4 811.8,748.0 812.5,755.5 813.2,753.3 814.0,750.1 814.8,748.1 815.5,738.9 816.2,756.2 817.0,741.2 817.8,743.0 818.5,754.2 819.2,756.8 820.0,756.6 820.8,750.6 821.5,745.7 822.2,743.0 823.0,758.2 823.8,760.1 824.5,745.7 825.2,756.8 826.0,747.6 826.8,745.6 827.5,749.1 828.2,739.9 829.0,748.1 829.8,743.6 830.5,753.1 831.2,749.2 832.0,756.0 832.8,756.6 833.5,746.0 834.2,745.4 835.0,757.7 835.8,749.7 836.5,742.2 837.2,741.2 838.0,758.6 838.8,751.0 839.5,741.4 840.2,749.8 841.0,749.8 841.8,748.7 842.5,758.1 843.2,757.9 844.0,742.7 844.8,742.9 845.5,747.1 846.2,754.3 847.0,750.0 847.8,751.5 848.5,748.3 849.2,741.4 850.0,752.1 850.8,737.4 851.5,749.5 852.2,740.3 853.0,745.1 853.8,754.0 854.5,746.3 855.2,737.9 856.0,744.8 856.8,749.3 857.5,739.0 858.2,742.8 859.0,738.9 859.8,748.3 860.5,745.7 861.2,747.9 862.0,744.2 862.8,750.1 863.5,741.0 864.2,752.7 865.0,752.4 865.8,743.1 866.5,741.4 867.2,747.0 868.0,736.4 868.8,744.9 869.5,736.1 870.2,743.7 871.0,737.2 871.8,741.7 872.5,746.9 873.2,731.6 874.0,743.6 874.8,738.0 875.5,734.1 876.2,732.6 877.0,727.1 877.8,730.1 878.5,736.5 879.2,728.3 880.0,738.4 880.8,743.6 881.5,743.8 882.2,741.8 883.0,739.8 883.8,728.7 884.5,740.8 885.2,727.3 886.0,737.2 886.8,735.5 887.5,728.9 888.2,724.5 889.0,716.4 889.8,719.0 890.5,712.6 891.2,707.0 892.0,704.3 892.8,712.9 893.5,713.2 894.2,699.9 895.0,697.5 895.8,701.7 896.5,700.1 897.2,701.5 898.0,708.6 898.8,707.1 899.5,708.5 900.2,706.4 901.0,714.9 901.8,710.0 902.5,712.6 903.2,714.4 904.0,722.3 904.8,713.5 905.5,722.6 906.2,718.6 907.0,730.5 907.8,725.4 908.5,729.1 909.2,735.8 910.0,733.5 910.8,725.5 911.5,727.2 912.2,741.1 913.0,727.4 913.8,732.3 914.5,743.2 915.2,730.1 916.0,733.7 916.8,735.9 917.5,735.4 918.2,742.4 919.0,745.5 919.8,742.9 920.5,741.3 921.2,752.8 922.0,753.8 922.8,751.3 923.5,746.0 924.2,752.8 925.0,754.7 925.8,752.0 926.5,758.5 927.2,751.4 928.0,753.0 928.8,747.3 929.5,754.3 930.2,757.9 931.0,758.3 931.8,752.1 932.5,763.5 933.2,759.6 934.0,755.1 934.8,754.7 935.5,760.2 936.2,751.6 937.0,759.0 937.8,760.8 938.5,758.2 939.2,763.5 940.0,757.5 940.8,757.5 941.5,754.8 942.2,764.2 943.0,755.1 943.8,760.4 944.5,755.8 945.2,763.1 946.0,762.9 946.8,749.3 947.5,763.8 948.2,758.4 949.0,751.1 949.8,757.8 950.5,751.6 951.2,759.3 952.0,754.3 952.8,757.3 953.5,756.8 954.2,761.6 955.0,765.2 955.8,767.0 956.5,758.0 957.2,761.2 958.0,752.5 958.8,757.5 959.5,765.9 960.2,753.2 961.0,763.9 961.8,760.3 962.5,754.4 963.2,760.9 964.0,753.1 964.8,761.5 965.5,749.2 966.2,749.5 967.0,758.7 967.8,754.4 968.5,750.0 969.2,755.5 970.0,752.2 970.8,755.8 971.5,758.4 972.2,759.8 973.0,747.8 973.8,755.5 974.5,761.3 975.2,754.0 976.0,759.2 976.8,750.2 977.5,762.4 978.2,758.9 979.0,764.1 979.8,762.9 980.5,764.1 981.2,751.8 982.0,760.9 982.8,752.8 983.5,753.5 984.2,754.2 985.0,758.0 985.8,758.6 986.5,763.1 987.2,749.8 988.0,752.6 988.8,755.2 989.5,762.1 990.2,758.5 991.0,758.4 991.8,762.4 992.5,761.0 993.2,755.4 994.0,751.8 994.8,756.5 995.5,761.9 996.2,757.3 997.0,749.0 997.8,754.6 998.5,753.9 999.2,757.0 1000.0,757.5 1000.8,763.4 1001.5,754.9 1002.2,756.3 1003.0,759.6 1003.8,763.9 1004.5,761.6 1005.2,758.4 1006.0,763.5 1006.8,758.8 1007.5,765.9 1008.2,756.0 1009.0,753.7 1009.8,763.9 1010.5,755.9 1011.2,763.7 1012.0,760.3 1012.8,759.2 1013.5,753.7 1014.2,764.6 1015.0,754.5 1015.8,767.4 1016.5,765.3 1017.2,755.7 1018.0,751.8 1018.8,761.8 1019.5,755.2 1020.2,749.9 1021.0,755.9 1021.8,753.1 1022.5,756.5 1023.2,760.5 1024.0,764.6 1024.8,762.4 1025.5,752.3 1026.2,756.2 1027.0,756.0 1027.8,763.3 1028.5,750.5 1029.2,757.1 1030.0,763.4 1030.8,756.2 1031.5,754.3 1032.2,758.5 1033.0,754.8 1033.8,763.3 1034.5,750.8 1035.2,752.4 1036.0,750.5 1036.8,759.8 1037.5,753.9 1038.2,763.2 1039.0,763.7 1039.8,765.0 1040.5,755.7 1041.2,752.3 1042.0,757.9 1042.8,765.9 1043.5,762.6 1044.2,752.0 1045.0,761.5 1045.8,765.2 1046.5,766.5 1047.2,763.3 1048.0,765.4 1048.8,764.5 1049.5,756.6 1050.2,751.7 1051.0,759.8 1051.8,750.3 1052.5,753.2 1053.2,761.5 1054.0,754.8 1054.8,753.9 1055.5,759.8 1056.2,750.0 1057.0,760.1 1057.8,758.6 1058.5,750.4 1059.2,749.7 1060.0,746.5 1060.8,757.5 1061.5,746.5 1062.2,743.5 1063.0,756.1 1063.8,751.8 1064.5,753.0 1065.2,754.0 1066.0,744.1 1066.8,744.9 1067.5,751.2 1068.2,745.1 1069.0,752.1 1069.8,755.8 1070.5,754.7 1071.2,753.9 1072.0,745.3 1072.8,747.8 1073.5,757.4 1074.2,746.6 1075.0,753.0 1075.8,746.2 1076.5,759.0 1077.2,747.4 1078.0,750.4 1078.8,752.2 1079.5,754.9 1080.2,758.8 1081.0,756.8 1081.8,752.1 1082.5,749.0 1083.2,758.7 1084.0,762.5 1084.8,748.3 1085.5,758.6 1086.2,749.4 1087.0,753.1 1087.8,754.0 1088.5,755.6 1089.2,761.5 1090.0,757.6 1090.8,753.6 1091.5,758.1 1092.2,754.1 1093.0,752.8 1093.8,751.8 1094.5,753.6 1095.2,750.8 1096.0,750.5 1096.8,749.4 1097.5,753.6 1098.2,751.4 1099.0,759.0 1099.8,758.9 1100.5,751.3 1101.2,755.1 1102.0,759.0 1102.8,751.2 1103.5,754.2 1104.2,753.0 1105.0,756.6 1105.8,761.7 1106.5,750.3 1107.2,762.4 1108.0,757.9 1108.8,759.5 1109.5,757.0 1110.2,760.3 1111.0,752.5 1111.8,758.0 1112.5,751.4 1113.2,754.6 1114.0,756.8 1114.8,749.8 1115.5,747.8 1116.2,758.3 1117.0,758.5 1117.8,756.3 1118.5,751.1 1119.2,755.8 1120.0,747.5 1120.8,756.0 1121.5,754.8 1122.2,755.3 1123.0,752.6 1123.8,748.8 1124.5,755.4 1125.2,751.1 1126.0,754.6 1126.8,748.8 1127.5,744.6 1128.2,751.1 1129.0,752.6 1129.8,757.4 1130.5,757.3 1131.2,745.6 1132.0,755.9 1132.8,748.5 1133.5,754.6 1134.2,750.0 1135.0,749.1 1135.8,751.3 1136.5,751.3 1137.2,752.9 1138.0,751.2 1138.8,751.2 1139.5,746.9 1140.2,751.4 1141.0,747.1 1141.8,750.9 1142.5,748.4 1143.2,748.9 1144.0,739.7 1144.8,745.2 1145.5,739.9 1146.2,740.9 1147.0,735.0 1147.8,741.9 1148.5,743.7 1149.2,734.6 1150.0,730.1 1150.8,737.0 1151.5,730.0 1152.2,741.2 1153.0,730.5 1153.8,733.9 1154.5,735.3 1155.2,729.1 1156.0,730.7 1156.8,728.5 1157.5,732.8 1158.2,734.6 1159.0,723.5 1159.8,727.5 1160.5,716.1 1161.2,720.2 1162.0,715.5 1162.8,710.4 1163.5,714.5 1164.2,709.3 1165.0,695.6 1165.8,690.7 1166.5,690.0 1167.2,684.9 1168.0,673.8 1168.8,672.2 1169.5,670.2 1170.2,666.1 1171.0,666.3 1171.8,662.9 1172.5,668.2 1173.2,674.8 1174.0,682.3 1174.8,676.6 1175.5,681.0 1176.2,678.6 1177.0,690.9 1177.8,689.8 1178.5,697.1 1179.2,691.1 1180.0,699.1 1180.8,701.3 1181.5,700.7 1182.2,699.9 1183.0,706.8 1183.8,715.8 1184.5,711.8 1185.2,714.0 1186.0,722.1 1186.8,721.3 1187.5,731.4 1188.2,733.2 1189.0,736.3 1189.8,735.9 1190.5,734.5 1191.2,729.6 1192.0,740.4 1192.8,740.8 1193.5,742.6 1194.2,743.2 1195.0,746.1 1195.8,739.4 1196.5,745.5 1197.2,744.1 1198.0,742.6 1198.8,743.5 1199.5,742.4 1200.2,748.6 1201.0,748.3 1201.8,750.4 1202.5,757.6 1203.2,755.9 1204.0,756.4 1204.8,760.9 1205.5,750.0 1206.2,754.2 1207.0,748.4 1207.8,752.7 1208.5,760.6 1209.2,748.2 1210.0,757.8 1210.8,759.6 1211.5,755.2 1212.2,760.0 1213.0,755.5 1213.8,754.6 1214.5,756.9 1215.2,752.7 1216.0,754.6 1216.8,755.0 1217.5,765.1 1218.2,756.2 1219.0,754.8 1219.8,765.0 1220.5,753.7 1221.2,765.6 1222.0,764.2 1222.8,761.4 1223.5,758.5 1224.2,755.4 1225.0,754.2 1225.8,754.1 1226.5,757.3 1227.2,757.6 1228.0,764.2 1228.8,758.0 1229.5,763.7 1230.2,759.3 1231.0,750.7 1231.8,756.3 1232.5,750.8 1233.2,749.4 1234.0,762.8 1234.8,754.9 1235.5,753.5 1236.2,752.7 1237.0,760.8 1237.8,758.3 1238.5,752.1 1239.2,761.9 1240.0,755.0 1240.8,762.0 1241.5,757.4 1242.2,758.0 1243.0,757.2 1243.8,760.9 1244.5,766.0 1245.2,763.8 1246.0,753.8 1246.8,760.0 1247.5,756.3 1248.2,754.5 1249.0,755.8 1249.8,756.5 1250.5,766.5 1251.2,763.3 1252.0,764.7 1252.8,762.5 1253.5,757.3 1254.2,758.9 1255.0,760.3 1255.8,758.9 1256.5,761.1 1257.2,766.0 1258.0,755.8 1258.8,758.2 1259.5,760.7 1260.2,763.4 1261.0,763.1 1261.8,764.3 1262.5,755.4 1263.2,756.0 1264.0,757.2 1264.8,756.0 1265.5,762.0 1266.2,764.9 1267.0,760.3 1267.8,751.3 1268.5,755.1 1269.2,762.2 1270.0,763.7 1270.8,758.4 1271.5,753.8 1272.2,752.6 1273.0,755.3 1273.8,757.5 1274.5,749.4 1275.2,746.7 1276.0,744.1 1276.8,746.8 1277.5,758.5 1278.2,757.4 1279.0,764.7 1279.8,753.3 1280.5,758.1 1281.2,764.1 1282.0,761.6 1282.8,752.4 1283.5,756.4 1284.2,759.2 1285.0,759.9 1285.8,756.8 1286.5,753.4 1287.2,764.6 1288.0,757.8 1288.8,761.3 1289.5,758.6 1290.2,751.8 1291.0,753.6 1291.8,750.8 1292.5,752.4 1293.2,752.5 1294.0,755.6 1294.8,754.4 1295.5,755.0 1296.2,761.2 1297.0,749.7 1297.8,750.5 1298.5,760.2 1299.2,756.5 1300.0,755.4 1300.8,753.2 1301.5,757.2 1302.2,752.2 1303.0,760.9 1303.8,759.6 1304.5,751.3 1305.2,745.9 1306.0,758.6 1306.8,749.0 1307.5,754.4 1308.2,757.5 1309.0,756.5 1309.8,757.7 1310.5,751.5 1311.2,757.2 1312.0,750.1 1312.8,745.7 1313.5,748.2 1314.2,744.7 1315.0,751.5 1315.8,752.1 1316.5,739.0 1317.2,738.5 1318.0,741.3 1318.8,741.3 1319.5,749.1 1320.2,747.5 1321.0,747.1 1321.8,742.0 1322.5,740.7 1323.2,732.8 1324.0,734.6 1324.8,727.1 1325.5,742.0 1326.2,729.9 1327.0,724.1 1327.8,726.3 1328.5,724.3 1329.2,730.4 1330.0,715.8 1330.8,719.2 1331.5,730.6 1332.2,728.1 1333.0,722.0 1333.8,718.9 1334.5,711.5 1335.2,723.4 1336.0,721.5 1336.8,717.7 1337.5,712.5 1338.2,715.1 1339.0,720.0 1339.8,720.8 1340.5,717.1 1341.2,724.8 1342.0,726.4 1342.8,724.2 1343.5,727.3 1344.2,727.7 1345.0,730.0 1345.8,735.5 1346.5,733.5 1347.2,727.2 1348.0,737.2 1348.8,730.2 1349.5,727.5 1350.2,730.8 1351.0,730.4 1351.8,731.2 1352.5,729.8 1353.2,726.3 1354.0,726.6 1354.8,715.4 1355.5,725.3 1356.2,716.6 1357.0,716.3 1357.8,713.0 1358.5,717.2 1359.2,708.4 1360.0,718.4 1360.8,717.8 1361.5,716.1 1362.2,701.9 1363.0,709.9 1363.8,712.0 1364.5,695.4 1365.2,697.4 1366.0,698.2 1366.8,702.1 1367.5,697.3 1368.2,705.7 1369.0,703.7 1369.8,712.2 1370.5,713.5 1371.2,720.3 1372.0,715.4 1372.8,727.3 1373.5,731.0 1374.2,733.7 1375.0,724.0 1375.8,742.8 1376.5,737.0 1377.2,732.0 1378.0,735.5 1378.8,737.4 1379.5,737.9 1380.2,733.7 1381.0,735.3 1381.8,738.6 1382.5,747.5 1383.2,742.1 1384.0,735.4 1384.8,743.2 1385.5,739.1 1386.2,736.2 1387.0,753.5 1387.8,742.2 1388.5,746.9 1389.2,744.3 1390.0,739.6 1390.8,753.9 1391.5,754.6 1392.2,742.5 1393.0,746.3 1393.8,745.7 1394.5,742.4 1395.2,750.0 1396.0,751.2 1396.8,749.8 1397.5,747.3 1398.2,736.5 1399.0,739.0 1399.8,742.8 1400.5,745.3 1401.2,740.7 1402.0,741.5 1402.8,746.7 1403.5,734.7 1404.2,738.0 1405.0,738.2 1405.8,748.2 1406.5,737.1 1407.2,734.3 1408.0,739.5 1408.8,742.8 1409.5,735.9 1410.2,746.1 1411.0,737.3 1411.8,745.1 1412.5,737.8 1413.2,748.6 1414.0,739.1 1414.8,746.7 1415.5,748.1 1416.2,739.6 1417.0,736.9 1417.8,743.6 1418.5,741.7 1419.2,740.7 1420.0,744.3 1420.8,739.4 1421.5,740.2 1422.2,740.9 1423.0,741.6 1423.8,742.0 1424.5,739.3 1425.2,741.6 1426.0,741.2 1426.8,740.8 1427.5,748.1 1428.2,738.5 1429.0,739.9 1429.8,744.7 1430.5,742.2 1431.2,741.6 1432.0,743.9 1432.8,746.0 1433.5,748.4 1434.2,752.3 1435.0,750.0 1435.8,743.4 1436.5,743.4 1437.2,743.1 1438.0,741.4 1438.8,752.7 1439.5,741.7 1440.2,744.9 1441.0,752.4 1441.8,752.0 1442.5,747.8 1443.2,756.9 1444.0,749.0 1444.8,751.1 1445.5,743.7 1446.2,754.9 1447.0,744.0 1447.8,748.5 1448.5,755.8 1449.2,757.1 1450.0,757.1 1450.8,756.6 1451.5,748.7 1452.2,746.1 1453.0,752.1 1453.8,746.7 1454.5,759.6 1455.2,746.8 1456.0,752.0 1456.8,751.0 1457.5,749.0 1458.2,756.0 1459.0,750.0 1459.8,761.2 1460.5,757.8 1461.2,753.3 1462.0,759.9 1462.8,759.7 1463.5,753.8 1464.2,761.6 1465.0,763.2 1465.8,759.0 1466.5,755.2 1467.2,762.6 1468.0,763.0 1468.8,754.5 1469.5,750.6 1470.2,761.0 1471.0,757.7 1471.8,751.4 1472.5,755.9 1473.2,752.3 1474.0,760.9 1474.8,753.0 1475.5,751.1 1476.2,749.1 1477.0,753.4 1477.8,762.6 1478.5,752.3 1479.2,755.8 1480.0,762.8 1480.8,749.4 1481.5,753.3 1482.2,760.6 1483.0,751.1 1483.8,763.2 1484.5,762.7 1485.2,754.0 1486.0,760.8 1486.8,760.7 1487.5,762.9 1488.2,757.6 1489.0,758.6 1489.8,756.4 1490.5,757.0 1491.2,755.5 1492.0,765.6 1492.8,765.4 1493.5,758.2 1494.2,762.5 1495.0,759.3 1495.8,756.2 1496.5,757.1 1497.2,765.6 1498.0,757.4 1498.8,760.9 1499.5,766.2 1500.2,757.8 1501.0,765.3 1501.8,756.3 1502.5,765.2 1503.2,766.2 1504.0,766.3 1504.8,767.6 1505.5,763.4 1506.2,766.5 1507.0,756.7 1507.8,759.9 1508.5,755.7 1509.2,754.0 1510.0,758.9 1510.8,762.6 1511.5,762.9 1512.2,751.8 1513.0,763.5 1513.8,753.4 1514.5,753.9 1515.2,761.5 1516.0,762.7 1516.8,760.8 1517.5,755.2 1518.2,756.6 1519.0,761.3 1519.8,754.6 1520.5,760.9 1521.2,761.2 1522.0,757.8 1522.8,764.5 1523.5,758.1 1524.2,763.3 1525.0,761.7 1525.8,757.4 1526.5,760.0 1527.2,761.2 1528.0,760.6 1528.8,755.2 1529.5,767.5 1530.2,767.1 1531.0,754.2 1531.8,766.0 1532.5,759.8 1533.2,753.7 1534.0,762.9 1534.8,757.4 1535.5,761.1 1536.2,762.4 1537.0,758.0 1537.8,750.6 1538.5,760.2 1539.2,757.5 1540.0,759.7 1540.8,750.6 1541.5,757.9 1542.2,759.8 1543.0,753.8 1543.8,755.6 1544.5,755.4 1545.2,751.3 1546.0,754.3 1546.8,755.1 1547.5,751.4 1548.2,759.6 1549.0,754.5 1549.8,756.1 1550.5,752.0 1551.2,752.6 1552.0,757.2 1552.8,752.3 1553.5,752.8 1554.2,749.2 1555.0,749.9 1555.8,753.8 1556.5,744.7 1557.2,747.6 1558.0,749.1 1558.8,739.9 1559.5,750.5 1560.2,742.8 1561.0,738.1 1561.8,744.0 1562.5,743.8 1563.2,740.4 1564.0,743.5 1564.8,731.6 1565.5,737.0 1566.2,739.4 1567.0,741.1 1567.8,736.4 1568.5,734.9 1569.2,730.9 1570.0,732.5 1570.8,731.5 1571.5,735.6 1572.2,733.9 1573.0,732.4 1573.8,735.1 1574.5,723.9 1575.2,734.4 1576.0,731.4 1576.8,736.8 1577.5,732.3 1578.2,736.5 1579.0,743.2 1579.8,734.0 1580.5,738.7 1581.2,742.5 1582.0,748.7 1582.8,742.3 1583.5,751.7 1584.2,745.9 1585.0,748.7 1585.8,753.8 1586.5,756.6 1587.2,760.8 1588.0,761.6 1588.8,753.6 1589.5,760.8 1590.2,759.6 1591.0,756.4 1591.8,761.8 1592.5,763.6 1593.2,758.3 1594.0,764.8 1594.8,754.7 1595.5,755.8 1596.2,764.2 1597.0,758.0 1597.8,761.7 1598.5,760.3 1599.2,755.2 1600.0,763.1 1600.8,762.3 1601.5,753.5 1602.2,754.4 1603.0,761.4 1603.8,762.8 1604.5,762.3 1605.2,757.5 1606.0,756.0 1606.8,757.6 1607.5,754.6 1608.2,760.0 1609.0,757.3 1609.8,757.0 1610.5,760.2 1611.2,755.5 1612.0,760.5 1612.8,763.1 1613.5,762.2 1614.2,766.6 1615.0,765.3 1615.8,761.7 1616.5,765.0 1617.2,758.4 1618.0,762.9 1618.8,755.7 1619.5,759.1 1620.2,765.6 1621.0,761.1 1621.8,760.7 1622.5,765.4 1623.2,759.6 1624.0,767.0 1624.8,755.8 1625.5,758.3 1626.2,756.9 1627.0,757.4 1627.8,766.4 1628.5,753.6 1629.2,757.5 1630.0,761.7 1630.8,764.0 1631.5,765.5 1632.2,760.7 1633.0,759.0 1633.8,768.3 1634.5,758.8 1635.2,758.1 1636.0,760.1 1636.8,763.1 1637.5,768.6 1638.2,765.2 1639.0,762.7 1639.8,762.1 1640.5,764.3 1641.2,763.4 1642.0,759.7 1642.8,756.9 1643.5,759.3 1644.2,768.1 1645.0,766.5 1645.8,768.5 1646.5,757.5 1647.2,768.3 1648.0,760.5 1648.8,767.8 1649.5,763.6 1650.2,763.4 1651.0,767.5 1651.8,764.9 1652.5,765.2 1653.2,757.6 1654.0,763.2 1654.8,759.5 1655.5,755.5 1656.2,756.4 1657.0,761.5 1657.8,758.9 1658.5,766.4 1659.2,758.0 1660.0,756.8 1660.8,770.4 1661.5,760.8 1662.2,762.8 1663.0,757.7 1663.8,756.6 1664.5,758.5 1665.2,763.4 1666.0,753.1 1666.8,764.4 1667.5,766.7 1668.2,760.9 1669.0,758.3 1669.8,756.7 1670.5,756.5 1671.2,759.0 1672.0,767.0 1672.8,755.9 1673.5,766.8 1674.2,764.9 1675.0,755.3 1675.8,755.2 1676.5,763.6 1677.2,762.4 1678.0,757.5 1678.8,765.4 1679.5,757.0 1680.2,760.5 1681.0,756.7 1681.8,764.3 1682.5,756.8 1683.2,758.2 1684.0,766.4 1684.8,763.0 1685.5,765.6 1686.2,766.9 1687.0,765.2 1687.8,759.1 1688.5,765.1 1689.2,756.0 1690.0,757.2 1690.8,759.1 1691.5,754.4 1692.2,754.5 1693.0,762.4 1693.8,763.8 1694.5,758.8 1695.2,759.0 1696.0,756.4 1696.8,760.7 1697.5,761.9 1698.2,767.2 1699.0,755.3 1699.8,767.5 1700.5,768.4 1701.2,758.9 1702.0,763.1 1702.8,763.5 1703.5,760.3 1704.2,754.9 1705.0,759.2 1705.8,762.4 1706.5,751.6 1707.2,756.5 1708.0,750.2 1708.8,761.8 1709.5,761.3 1710.2,751.7 1711.0,761.7 1711.8,761.2 1712.5,753.6 1713.2,759.2 1714.0,761.8 1714.8,757.3 1715.5,760.1 1716.2,767.1 1717.0,762.8 1717.8,760.9 1718.5,754.5 1719.2,754.7 1720.0,764.0 1720.8,761.8 1721.5,762.4 1722.2,758.3 1723.0,757.9 1723.8,756.9 1724.5,759.3 1725.2,753.2 1726.0,754.8 1726.8,753.7 1727.5,755.5 1728.2,748.6 1729.0,745.3 1729.8,745.5 1730.5,746.0 1731.2,754.6 1732.0,751.7 1732.8,751.2 1733.5,746.1 1734.2,740.6 1735.0,745.1 1735.8,750.5 1736.5,745.7 1737.2,747.8 1738.0,744.8 1738.8,742.3 1739.5,749.3 1740.2,747.6 1741.0,746.0 1741.8,745.2 1742.5,751.9 1743.2,747.6 1744.0,752.2 1744.8,748.5 1745.5,755.8 1746.2,750.9 1747.0,752.5 1747.8,759.1 1748.5,756.5 1749.2,757.1 1750.0,751.9 1750.8,759.1 1751.5,753.4 1752.2,762.5 1753.0,762.3 1753.8,760.0 1754.5,762.8 1755.2,758.4 1756.0,760.0 1756.8,750.3 1757.5,761.0 1758.2,757.6 1759.0,748.2 1759.8,749.7 1760.5,754.4 1761.2,757.0 1762.0,748.1 1762.8,758.6 1763.5,749.4 1764.2,757.8 1765.0,754.4 1765.8,750.9 1766.5,749.3 1767.2,745.6 1768.0,745.1 1768.8,752.2 1769.5,753.8 1770.2,755.6 1771.0,748.2 1771.8,756.4 1772.5,747.8 1773.2,756.7 1774.0,756.4 1774.8,745.7 1775.5,755.2 1776.2,752.8 1777.0,752.7 1777.8,754.8 1778.5,751.0 1779.2,751.1 1780.0,749.8 1780.8,757.2 1781.5,758.1 1782.2,748.0 1783.0,756.3 1783.8,749.2 1784.5,747.5 1785.2,747.0 1786.0,751.4 1786.8,746.5 1787.5,745.3 1788.2,742.8 1789.0,745.9 1789.8,752.5 1790.5,742.8 1791.2,750.1 1792.0,752.5 1792.8,745.3 1793.5,748.8 1794.2,757.2 1795.0,758.3 1795.8,756.5 1796.5,747.7 1797.2,756.8 1798.0,753.3 1798.8,750.0 1799.5,754.6 1800.2,760.8 1801.0,760.1 1801.8,753.5 1802.5,749.1 1803.2,761.0 1804.0,762.7 1804.8,756.8 1805.5,753.5 1806.2,758.5 1807.0,761.1 1807.8,758.4 1808.5,756.8 1809.2,755.5 1810.0,756.3 1810.8,753.1 1811.5,756.3 1812.2,766.5 1813.0,754.2 1813.8,764.8 1814.5,766.1 1815.2,761.1 1816.0,764.1 1816.8,759.3 1817.5,766.0 1818.2,767.0 1819.0,767.6 1819.8,764.2 1820.5,770.5 1821.2,768.4 1822.0,763.6 1822.8,764.5 1823.5,758.5 1824.2,767.8 1825.0,764.0 1825.8,768.0 1826.5,760.2 1827.2,770.3 1828.0,758.6 1828.8,764.8 1829.5,759.1 1830.2,760.2 1831.0,768.1 1831.8,758.3 1832.5,762.6 1833.2,759.8 1834.0,768.5 1834.8,757.5 1835.5,760.7 1836.2,767.8 1837.0,765.7 1837.8,766.2 1838.5,770.3 1839.2,756.9 1840.0,765.5 1840.8,766.3 1841.5,766.0 1842.2,765.4 1843.0,756.5 1843.8,756.8 1844.5,766.7 1845.2,765.0 1846.0,760.8 1846.8,757.9 1847.5,765.7 1848.2,759.9 1849.0,769.0 1849.8,763.2 1850.5,769.3 1851.2,759.0 1852.0,764.2 1852.8,758.5 1853.5,767.7 1854.2,764.3 1855.0,759.4 1855.8,769.3 1856.5,765.5 1857.2,761.1 1858.0,768.9 1858.8,763.0 1859.5,771.3 1860.2,762.6 1861.0,772.2 1861.8,759.1 1862.5,767.8 1863.2,761.0 1864.0,762.2 1864.8,764.6 1865.5,756.2 1866.2,758.6 1867.0,756.7 1867.8,765.1 1868.5,757.4 1869.2,760.8 1870.0,758.3 1870.8,757.1 1871.5,767.2 1872.2,761.5 1873.0,763.7 1873.8,764.4 1874.5,765.8 1875.2,757.6 1876.0,754.4 1876.8,759.2 1877.5,754.5 1878.2,752.2 1879.0,764.8 1879.8,761.2 1880.5,758.8 1881.2,755.3 1882.0,764.2 1882.8,761.0 1883.5,755.5 1884.2,766.0 1885.0,764.7 1885.8,763.6 1886.5,761.7 1887.2,757.1 1888.0,753.4 1888.8,757.7 1889.5,749.9 1890.2,755.4 1891.0,746.9 1891.8,745.5 1892.5,754.8 1893.2,749.4 1894.0,754.3 1894.8,755.7 1895.5,756.9 1896.2,754.2 1897.0,757.7 1897.8,755.1 1898.5,758.7 1899.2,758.0 1900.0,745.5 1900.8,747.6 1901.5,747.7 1902.2,743.7 1903.0,740.4 1903.8,748.2 1904.5,735.2 1905.2,737.4 1906.0,746.2 1906.8,739.9 1907.5,741.7 1908.2,752.7 1909.0,750.7 1909.8,746.8 1910.5,742.6 1911.2,744.3 1912.0,753.7 1912.8,750.5 1913.5,739.9 1914.2,748.4 1915.0,743.6 1915.8,748.5 1916.5,743.0 1917.2,741.1 1918.0,739.8 1918.8,743.8 1919.5,751.8 1920.2,752.5 1921.0,750.2 1921.8,752.0 1922.5,745.4 1923.2,748.6 1924.0,757.0 1924.8,758.9 1925.5,752.0 1926.2,757.2 1927.0,759.9 1927.8,761.3 1928.5,752.0 1929.2,757.3 1930.0,753.8 1930.8,754.7 1931.5,754.2 1932.2,751.0 1933.0,746.7 1933.8,756.5 1934.5,755.5 1935.2,758.1 1936.0,749.5 1936.8,751.9 1937.5,757.9 1938.2,763.4 1939.0,757.5 1939.8,754.1 1940.5,759.7 1941.2,764.8 1942.0,763.4 1942.8,763.4 1943.5,756.2 1944.2,753.9 1945.0,762.3 1945.8,761.5 1946.5,762.9 1947.2,757.1 1948.0,756.1 1948.8,755.7 1949.5,764.6 1950.2,765.3 1951.0,757.3 1951.8,764.1 1952.5,756.8 1953.2,757.2 1954.0,758.5 1954.8,753.5 1955.5,754.2 1956.2,754.5 1957.0,754.8 1957.8,758.8 1958.5,753.3 1959.2,762.9 1960.0,754.5 1960.8,758.3 1961.5,761.1 1962.2,754.0 1963.0,757.7 1963.8,759.6 1964.5,759.2 1965.2,763.8 1966.0,762.2 1966.8,753.0 1967.5,762.9 1968.2,758.8 1969.0,760.3 1969.8,752.6 1970.5,756.7 1971.2,759.9 1972.0,761.7 1972.8,762.4 1973.5,754.8 1974.2,763.7 1975.0,759.9 1975.8,760.8 1976.5,762.7 1977.2,755.9 1978.0,762.9 1978.8,762.5 1979.5,761.8 1980.2,756.2 1981.0,758.8 1981.8,754.4 1982.5,763.0 1983.2,765.1 1984.0,754.9 1984.8,762.8 1985.5,761.8 1986.2,752.7 1987.0,765.3 1987.8,759.6 1988.5,757.1 1989.2,754.0 1990.0,764.5 1990.8,758.2 1991.5,760.6 1992.2,756.3 1993.0,762.4 1993.8,759.8 1994.5,765.9 1995.2,764.1 1996.0,764.8 1996.8,758.1 1997.5,755.2 1998.2,766.3 1999.0,766.8 1999.8,762.4 2000.5,765.9 2001.2,762.7 2002.0,761.1 2002.8,758.5 2003.5,757.7 2004.2,759.9 2005.0,756.7 2005.8,760.0 2006.5,761.5 2007.2,755.0 2008.0,760.0 2008.8,758.5 2009.5,763.6 2010.2,766.3 2011.0,763.8 2011.8,764.6 2012.5,763.8 2013.2,758.4 2014.0,759.7 2014.8,766.0 2015.5,767.3 2016.2,756.7 2017.0,754.3 2017.8,767.5 2018.5,765.7 2019.2,761.7 2020.0,764.0 2020.8,760.3 2021.5,764.4 2022.2,755.1 2023.0,758.1 2023.8,761.6 2024.5,755.6 2025.2,762.8 2026.0,756.5 2026.8,762.8 2027.5,764.2 2028.2,759.1 2029.0,767.3 2029.8,762.6 2030.5,764.6 2031.2,754.6 2032.0,756.3 2032.8,765.1 2033.5,769.0 2034.2,765.1 2035.0,769.5 2035.8,757.8"/>
<polyline fill="none" stroke="#ff0000" stroke-width="6.0" stroke-linejoin="round" points="136.0,418.9 136.8,425.1 137.5,422.7 138.2,410.9 139.0,412.6 139.8,425.1 140.5,405.8 141.2,423.2 142.0,422.1 142.8,414.3 143.5,410.1 144.2,409.2 145.0,408.7 145.8,413.1 146.5,415.0 147.2,416.7 148.0,427.2 148.8,423.6 149.5,420.6 150.2,429.3 151.0,412.8 151.8,411.8 152.5,421.5 153.2,408.7 154.0,408.0 154.8,417.9 155.5,416.3 156.2,425.8 157.0,419.3 157.8,416.6 158.5,415.8 159.2,409.9 160.0,404.3 160.8,407.9 161.5,418.8 162.2,408.5 163.0,412.9 163.8,405.7 164.5,424.3 165.2,409.9 166.0,412.5 166.8,425.7 167.5,417.5 168.2,424.8 169.0,420.3 169.8,422.5 170.5,408.2 171.2,417.8 172.0,416.9 172.8,424.7 173.5,413.8 174.2,419.2 175.0,407.9 175.8,415.4 176.5,414.3 177.2,410.7 178.0,425.2 178.8,415.5 179.5,428.2 180.2,419.4 181.0,419.7 181.8,420.6 182.5,422.0 183.2,411.4 184.0,418.5 184.8,414.8 185.5,418.6 186.2,412.1 187.0,431.0 187.8,414.7 188.5,424.6 189.2,416.5 190.0,428.5 190.8,423.3 191.5,410.9 192.2,425.4 193.0,426.9 193.8,425.8 194.5,418.9 195.2,410.5 196.0,412.6 196.8,429.4 197.5,421.9 198.2,413.9 199.0,428.7 199.8,422.9 200.5,420.7 201.2,416.0 202.0,416.3 202.8,412.2 203.5,407.5 204.2,425.2 205.0,416.1 205.8,417.5 206.5,412.4 207.2,421.5 208.0,405.9 208.8,413.7 209.5,406.7 210.2,409.1 211.0,427.6 211.8,421.1 212.5,416.2 213.2,418.1 214.0,425.5 214.8,414.2 215.5,419.6 216.2,421.8 217.0,415.0 217.8,418.9 218.5,424.3 219.2,427.4 220.0,411.0 220.8,427.5 221.5,407.1 222.2,422.7 223.0,423.5 223.8,408.6 224.5,414.4 225.2,422.8 226.0,405.6 226.8,418.7 227.5,422.3 228.2,416.3 229.0,421.0 229.8,410.4 230.5,409.9 231.2,413.5 232.0,409.4 232.8,413.0 233.5,426.0 234.2,418.5 235.0,414.0 235.8,412.8 236.5,427.2 237.2,416.0 238.0,427.2 238.8,417.2 239.5,417.7 240.2,426.3 241.0,423.6 241.8,420.6 242.5,417.3 243.2,426.7 244.0,416.2 244.8,426.4 245.5,407.8 246.2,415.3 247.0,417.4 247.8,426.7 248.5,411.9 249.2,423.6 250.0,420.8 250.8,421.7 251.5,420.0 252.2,427.4 253.0,413.9 253.8,415.2 254.5,410.9 255.2,407.4 256.0,410.6 256.8,425.3 257.5,423.7 258.2,408.2 259.0,418.6 259.8,415.8 260.5,417.8 261.2,418.6 262.0,410.4 262.8,423.6 263.5,412.6 264.2,416.0 265.0,416.7 265.8,408.0 266.5,406.5 267.2,414.8 268.0,422.5 268.8,423.0 269.5,420.1 270.2,405.5 271.0,421.0 271.8,417.6 272.5,418.5 273.2,410.6 274.0,418.7 274.8,400.3 275.5,400.1 276.2,400.3 277.0,406.0 277.8,407.0 278.5,406.7 279.2,415.5 280.0,404.8 280.8,416.6 281.5,407.7 282.2,418.4 283.0,404.3 283.8,409.8 284.5,422.3 285.2,413.0 286.0,418.0 286.8,414.5 287.5,413.5 288.2,405.0 289.0,413.4 289.8,402.3 290.5,418.3 291.2,421.5 292.0,419.1 292.8,402.2 293.5,408.4 294.2,408.4 295.0,404.5 295.8,415.7 296.5,419.4 297.2,408.9 298.0,419.8 298.8,417.7 299.5,403.1 300.2,416.3 301.0,418.8 301.8,404.6 302.5,412.8 303.2,414.5 304.0,414.0 304.8,403.3 305.5,415.3 306.2,414.7 307.0,418.5 307.8,417.7 308.5,407.0 309.2,414.6 310.0,416.9 310.8,416.9 311.5,401.3 312.2,398.7 313.0,412.5 313.8,403.9 314.5,411.9 315.2,420.6 316.0,409.0 316.8,406.5 317.5,410.6 318.2,414.3 319.0,401.7 319.8,406.8 320.5,401.0 321.2,412.1 322.0,416.0 322.8,406.9 323.5,407.2 324.2,410.9 325.0,403.6 325.8,403.5 326.5,404.4 327.2,406.3 328.0,397.9 328.8,412.1 329.5,408.5 330.2,402.7 331.0,398.3 331.8,413.4 332.5,400.3 333.2,400.8 334.0,401.2 334.8,400.5 335.5,418.7 336.2,405.6 337.0,407.1 337.8,419.2 338.5,415.3 339.2,406.5 340.0,412.1 340.8,421.7 341.5,410.4 342.2,417.1 343.0,403.2 343.8,416.3 344.5,416.9 345.2,417.7 346.0,414.3 346.8,407.6 347.5,400.8 348.2,410.6 349.0,415.9 349.8,403.9 350.5,405.9 351.2,412.0 352.0,416.7 352.8,419.9 353.5,402.8 354.2,403.5 355.0,416.2 355.8,412.0 356.5,413.0 357.2,418.8 358.0,417.6 358.8,416.0 359.5,415.1 360.2,407.3 361.0,413.2 361.8,403.4 362.5,415.9 363.2,415.6 364.0,414.5 364.8,408.1 365.5,406.3 366.2,406.8 367.0,397.7 367.8,414.6 368.5,406.9 369.2,402.7 370.0,406.0 370.8,410.1 371.5,403.1 372.2,413.6 373.0,416.0 373.8,404.6 374.5,399.3 375.2,413.4 376.0,418.9 376.8,400.6 377.5,413.1 378.2,415.1 379.0,416.2 379.8,397.5 380.5,395.9 381.2,415.3 382.0,395.9 382.8,397.3 383.5,406.2 384.2,403.3 385.0,409.9 385.8,397.4 386.5,413.8 387.2,398.8 388.0,411.8 388.8,396.7 389.5,405.9 390.2,395.8 391.0,401.6 391.8,401.1 392.5,410.0 393.2,404.2 394.0,395.8 394.8,417.3 395.5,415.1 396.2,415.6 397.0,400.3 397.8,403.3 398.5,399.4 399.2,397.0 400.0,395.0 400.8,405.5 401.5,397.1 402.2,398.4 403.0,414.0 403.8,405.8 404.5,399.4 405.2,410.6 406.0,401.6 406.8,407.2 407.5,401.0 408.2,405.3 409.0,406.6 409.8,403.4 410.5,399.3 411.2,407.7 412.0,409.4 412.8,393.8 413.5,393.1 414.2,392.9 415.0,413.2 415.8,413.1 416.5,397.9 417.2,415.4 418.0,398.5 418.8,405.3 419.5,404.7 420.2,413.6 421.0,393.1 421.8,398.8 422.5,404.8 423.2,392.3 424.0,396.0 424.8,400.9 425.5,410.0 426.2,406.9 427.0,408.0 427.8,406.0 428.5,404.4 429.2,407.3 430.0,403.3 430.8,404.5 431.5,394.8 432.2,392.2 433.0,406.4 433.8,393.6 434.5,411.6 435.2,404.7 436.0,398.8 436.8,412.6 437.5,394.1 438.2,401.7 439.0,391.3 439.8,410.9 440.5,401.6 441.2,406.6 442.0,394.5 442.8,406.3 443.5,404.0 444.2,402.6 445.0,409.7 445.8,397.7 446.5,397.1 447.2,403.3 448.0,406.4 448.8,394.8 449.5,402.7 450.2,392.5 451.0,400.9 451.8,406.4 452.5,390.5 453.2,406.0 454.0,389.5 454.8,411.1 455.5,399.7 456.2,398.4 457.0,406.2 457.8,402.5 458.5,408.2 459.2,393.7 460.0,405.0 460.8,404.6 461.5,412.9 462.2,391.8 463.0,401.1 463.8,405.0 464.5,402.9 465.2,391.6 466.0,403.6 466.8,394.8 467.5,394.1 468.2,409.8 469.0,393.4 469.8,398.7 470.5,404.8 471.2,403.2 472.0,399.2 472.8,404.9 473.5,397.1 474.2,400.9 475.0,405.8 475.8,402.7 476.5,401.8 477.2,396.1 478.0,399.5 478.8,395.9 479.5,404.6 480.2,396.9 481.0,399.9 481.8,407.6 482.5,402.3 483.2,398.6 484.0,409.9 484.8,399.2 485.5,409.7 486.2,408.1 487.0,399.9 487.8,406.0 488.5,389.9 489.2,397.9 490.0,408.6 490.8,401.4 491.5,400.3 492.2,402.4 493.0,402.2 493.8,399.4 494.5,394.7 495.2,388.1 496.0,389.7 496.8,389.0 497.5,392.0 498.2,405.8 499.0,391.2 499.8,394.2 500.5,392.9 501.2,397.9 502.0,406.2 502.8,404.2 503.5,391.6 504.2,388.7 505.0,403.3 505.8,394.1 506.5,399.0 507.2,384.7 508.0,403.9 508.8,391.0 509.5,395.5 510.2,388.6 511.0,394.0 511.8,403.8 512.5,403.9 513.2,395.4 514.0,402.2 514.8,394.5 515.5,392.2 516.2,396.3 517.0,388.4 517.8,391.7 518.5,401.7 519.2,403.6 520.0,386.7 520.8,402.6 521.5,404.0 522.2,394.3 523.0,384.3 523.8,398.4 524.5,387.6 525.2,396.9 526.0,390.5 526.8,396.9 527.5,388.0 528.2,393.4 529.0,394.9 529.8,397.8 530.5,387.9 531.2,406.3 532.0,390.1 532.8,390.0 533.5,387.9 534.2,382.2 535.0,389.4 535.8,396.1 536.5,392.5 537.2,377.7 538.0,373.2 538.8,374.1 539.5,380.0 540.2,367.0 541.0,371.0 541.8,359.5 542.5,353.9 543.2,351.0 544.0,337.6 544.8,300.0 545.5,275.1 546.2,258.0 547.0,239.9 547.8,214.4 548.5,205.5 549.2,197.1 550.0,175.0 550.8,165.6 551.5,159.9 552.2,161.3 553.0,182.5 553.8,169.0 554.5,181.8 555.2,190.3 556.0,207.8 556.8,208.1 557.5,230.1 558.2,234.4 559.0,246.5 559.8,267.7 560.5,262.8 561.2,284.4 562.0,294.1 562.8,319.2 563.5,347.8 564.2,339.2 565.0,362.0 565.8,365.9 566.5,364.3 567.2,353.1 568.0,371.0 568.8,373.2 569.5,380.8 570.2,371.2 571.0,392.2 571.8,394.4 572.5,379.9 573.2,387.5 574.0,383.5 574.8,404.4 575.5,407.8 576.2,410.0 577.0,400.5 577.8,400.6 578.5,399.9 579.2,396.7 580.0,405.7 580.8,398.2 581.5,392.5 582.2,397.0 583.0,385.4 583.8,401.3 584.5,399.9 585.2,393.0 586.0,402.6 586.8,400.4 587.5,390.8 588.2,385.0 589.0,386.6 589.8,388.2 590.5,391.2 591.2,394.5 592.0,405.1 592.8,389.3 593.5,402.8 594.2,397.0 595.0,400.5 595.8,389.9 596.5,380.6 597.2,398.5 598.0,385.7 598.8,383.0 599.5,398.0 600.2,395.2 601.0,384.2 601.8,385.2 602.5,400.2 603.2,384.3 604.0,393.9 604.8,380.6 605.5,396.4 606.2,380.5 607.0,389.7 607.8,378.8 608.5,390.8 609.2,397.9 610.0,380.9 610.8,385.5 611.5,396.6 612.2,392.5 613.0,385.0 613.8,391.3 614.5,386.4 615.2,395.2 616.0,382.1 616.8,392.9 617.5,390.6 618.2,393.4 619.0,385.4 619.8,393.2 620.5,392.3 621.2,384.7 622.0,375.9 622.8,396.7 623.5,390.3 624.2,377.8 625.0,388.8 625.8,377.7 626.5,381.5 627.2,390.4 628.0,381.3 628.8,378.0 629.5,378.5 630.2,372.9 631.0,374.8 631.8,373.7 632.5,368.6 633.2,361.7 634.0,366.3 634.8,358.8 635.5,370.2 636.2,374.2 637.0,359.6 637.8,366.2 638.5,364.5 639.2,354.4 640.0,355.1 640.8,372.1 641.5,363.1 642.2,371.0 643.0,355.0 643.8,367.3 644.5,373.4 645.2,373.1 646.0,353.3 646.8,364.8 647.5,361.6 648.2,371.1 649.0,356.7 649.8,362.1 650.5,375.3 651.2,368.2 652.0,368.1 652.8,379.8 653.5,365.3 654.2,359.3 655.0,367.5 655.8,362.5 656.5,361.1 657.2,372.0 658.0,380.5 658.8,372.0 659.5,373.6 660.2,367.1 661.0,373.8 661.8,379.4 662.5,377.4 663.2,383.6 664.0,379.3 664.8,372.8 665.5,382.6 666.2,381.8 667.0,375.9 667.8,387.2 668.5,392.6 669.2,378.5 670.0,388.5 670.8,393.5 671.5,386.9 672.2,384.5 673.0,387.2 673.8,391.2 674.5,394.4 675.2,391.3 676.0,381.0 676.8,396.3 677.5,398.5 678.2,380.5 679.0,384.3 679.8,383.3 680.5,399.0 681.2,401.3 682.0,383.1 682.8,390.2 683.5,387.7 684.2,394.2 685.0,404.6 685.8,386.5 686.5,389.6 687.2,397.6 688.0,399.3 688.8,404.7 689.5,398.0 690.2,391.3 691.0,395.7 691.8,409.4 692.5,404.6 693.2,391.3 694.0,407.1 694.8,396.9 695.5,407.5 696.2,391.0 697.0,409.9 697.8,395.0 698.5,402.2 699.2,407.6 700.0,405.3 700.8,398.7 701.5,398.8 702.2,402.3 703.0,397.3 703.8,400.7 704.5,398.4 705.2,405.1 706.0,402.4 706.8,407.2 707.5,400.8 708.2,396.1 709.0,403.4 709.8,413.5 710.5,403.6 711.2,407.6 712.0,415.8 712.8,408.9 713.5,419.6 714.2,420.3 715.0,407.1 715.8,416.3 716.5,406.0 717.2,403.9 718.0,410.8 718.8,414.9 719.5,422.5 720.2,405.8 721.0,418.3 721.8,413.3 722.5,405.7 723.2,423.3 724.0,416.7 724.8,404.1 725.5,420.7 726.2,403.9 727.0,404.3 727.8,410.2 728.5,423.5 729.2,404.3 730.0,423.1 730.8,416.4 731.5,404.6 732.2,415.1 733.0,412.2 733.8,413.7 734.5,416.4 735.2,414.4 736.0,420.7 736.8,402.8 737.5,417.0 738.2,408.8 739.0,416.9 739.8,419.2 740.5,421.1 741.2,405.4 742.0,409.1 742.8,419.4 743.5,419.5 744.2,407.6 745.0,419.8 745.8,408.4 746.5,407.6 747.2,415.5 748.0,409.3 748.8,408.7 749.5,407.4 750.2,408.4 751.0,402.1 751.8,400.4 752.5,415.0 753.2,411.0 754.0,413.2 754.8,415.9 755.5,403.6 756.2,403.2 757.0,403.4 757.8,403.2 758.5,412.0 759.2,403.3 760.0,401.9 760.8,408.4 761.5,399.1 762.2,397.7 763.0,410.4 763.8,412.0 764.5,402.8 765.2,410.2 766.0,398.0 766.8,405.8 767.5,409.4 768.2,402.5 769.0,404.2 769.8,409.3 770.5,408.6 771.2,399.3 772.0,410.5 772.8,397.6 773.5,416.1 774.2,400.6 775.0,401.7 775.8,400.4 776.5,416.3 777.2,401.5 778.0,407.8 778.8,415.6 779.5,415.1 780.2,397.2 781.0,407.6 781.8,409.7 782.5,412.0 783.2,404.6 784.0,404.4 784.8,397.9 785.5,398.8 786.2,409.9 787.0,401.3 787.8,405.1 788.5,409.0 789.2,404.9 790.0,405.0 790.8,423.4 791.5,413.9 792.2,409.5 793.0,419.7 793.8,405.8 794.5,410.5 795.2,424.7 796.0,423.6 796.8,418.7 797.5,408.5 798.2,413.7 799.0,408.7 799.8,413.2 800.5,409.9 801.2,412.2 802.0,422.3 802.8,411.9 803.5,413.1 804.2,427.7 805.0,416.6 805.8,416.4 806.5,411.3 807.2,424.8 808.0,422.1 808.8,419.3 809.5,420.6 810.2,410.6 811.0,413.9 811.8,420.5 812.5,428.0 813.2,425.8 814.0,422.6 814.8,420.6 815.5,411.4 816.2,428.7 817.0,413.7 817.8,415.5 818.5,426.7 819.2,429.3 820.0,429.1 820.8,423.1 821.5,418.2 822.2,415.5 823.0,430.7 823.8,432.6 824.5,418.2 825.2,429.3 826.0,420.1 826.8,418.1 827.5,421.6 828.2,412.4 829.0,420.6 829.8,416.1 830.5,425.6 831.2,421.7 832.0,428.5 832.8,429.1 833.5,418.5 834.2,417.9 835.0,430.2 835.8,422.2 836.5,414.7 837.2,413.7 838.0,431.1 838.8,423.5 839.5,413.9 840.2,422.3 841.0,422.3 841.8,421.2 842.5,430.6 843.2,430.4 844.0,415.2 844.8,415.4 845.5,419.6 846.2,426.8 847.0,422.5 847.8,424.0 848.5,420.8 849.2,413.9 850.0,424.6 850.8,409.9 851.5,422.0 852.2,412.8 853.0,417.6 853.8,426.5 854.5,418.8 855.2,410.4 856.0,417.3 856.8,421.8 857.5,411.5 858.2,415.3 859.0,411.4 859.8,420.8 860.5,418.2 861.2,420.4 862.0,416.7 862.8,422.6 863.5,413.5 864.2,425.2 865.0,424.9 865.8,415.6 866.5,413.9 867.2,419.5 868.0,408.9 868.8,417.4 869.5,408.6 870.2,416.2 871.0,409.7 871.8,414.2 872.5,419.4 873.2,404.1 874.0,416.1 874.8,410.5 875.5,406.6 876.2,405.1 877.0,399.6 877.8,402.6 878.5,409.0 879.2,400.8 880.0,410.9 880.8,416.1 881.5,416.3 882.2,414.3 883.0,412.3 883.8,401.2 884.5,413.3 885.2,399.8 886.0,409.7 886.8,408.0 887.5,401.4 888.2,397.0 889.0,388.9 889.8,391.5 890.5,385.1 891.2,379.5 892.0,376.8 892.8,385.4 893.5,385.7 894.2,372.4 895.0,370.0 895.8,374.2 896.5,372.6 897.2,374.0 898.0,381.1 898.8,379.6 899.5,381.0 900.2,378.9 901.0,387.4 901.8,382.5 902.5,385.1 903.2,386.9 904.0,394.8 904.8,386.0 905.5,395.1 906.2,391.1 907.0,403.0 907.8,397.9 908.5,401.6 909.2,408.3 910.0,406.0 910.8,398.0 911.5,399.7 912.2,413.6 913.0,399.9 913.8,404.8 914.5,415.7 915.2,402.6 916.0,406.2 916.8,408.4 917.5,407.9 918.2,414.9 919.0,418.0 919.8,415.4 920.5,413.8 921.2,425.3 922.0,426.3 922.8,423.8 923.5,418.5 924.2,425.3 925.0,427.2 925.8,424.5 926.5,431.0 927.2,423.9 928.0,425.5 928.8,419.8 929.5,426.8 930.2,430.4 931.0,430.8 931.8,424.6 932.5,436.0 933.2,432.1 934.0,427.6 934.8,427.2 935.5,432.7 936.2,424.1 937.0,431.5 937.8,433.3 938.5,430.7 939.2,436.0 940.0,430.0 940.8,430.0 941.5,427.3 942.2,436.7 943.0,427.6 943.8,432.9 944.5,428.3 945.2,435.6 946.0,435.4 946.8,421.8 947.5,436.3 948.2,430.9 949.0,423.6 949.8,430.3 950.5,424.1 951.2,431.8 952.0,426.8 952.8,429.8 953.5,429.3 954.2,434.1 955.0,437.7 955.8,439.5 956.5,430.5 957.2,433.7 958.0,425.0 958.8,430.0 959.5,438.4 960.2,425.7 961.0,436.4 961.8,432.8 962.5,426.9 963.2,433.4 964.0,425.6 964.8,434.0 965.5,421.7 966.2,422.0 967.0,431.2 967.8,426.9 968.5,422.5 969.2,428.0 970.0,424.7 970.8,428.3 971.5,430.9 972.2,432.3 973.0,420.3 973.8,428.0 974.5,433.8 975.2,426.5 976.0,431.7 976.8,422.7 977.5,434.9 978.2,431.4 979.0,436.6 979.8,435.4 980.5,436.6 981.2,424.3 982.0,433.4 982.8,425.3 983.5,426.0 984.2,426.7 985.0,430.5 985.8,431.1 986.5,435.6 987.2,422.3 988.0,425.1 988.8,427.7 989.5,434.6 990.2,431.0 991.0,430.9 991.8,434.9 992.5,433.5 993.2,427.9 994.0,424.3 994.8,429.0 995.5,434.4 996.2,429.8 997.0,421.5 997.8,427.1 998.5,426.4 999.2,429.5 1000.0,430.0 1000.8,435.9 1001.5,427.4 1002.2,428.8 1003.0,432.1 1003.8,436.4 1004.5,434.1 1005.2,430.9 1006.0,436.0 1006.8,431.3 1007.5,438.4 1008.2,428.5 1009.0,426.2 1009.8,436.4 1010.5,428.4 1011.2,436.2 1012.0,432.8 1012.8,431.7 1013.5,426.2 1014.2,437.1 1015.0,427.0 1015.8,439.9 1016.5,437.8 1017.2,428.2 1018.0,424.3 1018.8,434.3 1019.5,427.7 1020.2,422.4 1021.0,428.4 1021.8,425.6 1022.5,429.0 1023.2,433.0 1024.0,437.1 1024.8,434.9 1025.5,424.8 1026.2,428.7 1027.0,428.5 1027.8,435.8 1028.5,423.0 1029.2,429.6 1030.0,435.9 1030.8,428.7 1031.5,426.8 1032.2,431.0 1033.0,427.3 1033.8,435.8 1034.5,423.3 1035.2,424.9 1036.0,423.0 1036.8,432.3 1037.5,426.4 1038.2,435.7 1039.0,436.2 1039.8,437.5 1040.5,428.2 1041.2,424.8 1042.0,430.4 1042.8,438.4 1043.5,435.1 1044.2,424.5 1045.0,434.0 1045.8,437.7 1046.5,439.0 1047.2,435.8 1048.0,437.9 1048.8,437.0 1049.5,429.1 1050.2,424.2 1051.0,432.3 1051.8,422.8 1052.5,425.7 1053.2,434.0 1054.0,427.3 1054.8,426.4 1055.5,432.3 1056.2,422.5 1057.0,432.6 1057.8,431.1 1058.5,422.9 1059.2,422.2 1060.0,419.0 1060.8,430.0 1061.5,419.0 1062.2,416.0 1063.0,428.6 1063.8,424.3 1064.5,425.5 1065.2,426.5 1066.0,416.6 1066.8,417.4 1067.5,423.7 1068.2,417.6 1069.0,424.6 1069.8,428.3 1070.5,427.2 1071.2,426.4 1072.0,417.8 1072.8,420.3 1073.5,429.9 1074.2,419.1 1075.0,425.5 1075.8,418.7 1076.5,431.5 1077.2,419.9 1078.0,422.9 1078.8,424.7 1079.5,427.4 1080.2,431.3 1081.0,429.3 1081.8,424.6 1082.5,421.5 1083.2,431.2 1084.0,435.0 1084.8,420.8 1085.5,431.1 1086.2,421.9 1087.0,425.6 1087.8,426.5 1088.5,428.1 1089.2,434.0 1090.0,430.1 1090.8,426.1 1091.5,430.6 1092.2,426.6 1093.0,425.3 1093.8,424.3 1094.5,426.1 1095.2,423.3 1096.0,423.0 1096.8,421.9 1097.5,426.1 1098.2,423.9 1099.0,431.5 1099.8,431.4 1100.5,423.8 1101.2,427.6 1102.0,431.5 1102.8,423.7 1103.5,426.7 1104.2,425.5 1105.0,429.1 1105.8,434.2 1106.5,422.8 1107.2,434.9 1108.0,430.4 1108.8,432.0 1109.5,429.5 1110.2,432.8 1111.0,425.0 1111.8,430.5 1112.5,423.9 1113.2,427.1 1114.0,429.3 1114.8,422.3 1115.5,420.3 1116.2,430.8 1117.0,431.0 1117.8,428.8 1118.5,423.6 1119.2,428.3 1120.0,420.0 1120.8,428.5 1121.5,427.3 1122.2,427.8 1123.0,425.1 1123.8,421.3 1124.5,427.9 1125.2,423.6 1126.0,427.1 1126.8,421.3 1127.5,417.1 1128.2,423.6 1129.0,425.1 1129.8,429.9 1130.5,429.8 1131.2,418.1 1132.0,428.4 1132.8,421.0 1133.5,427.1 1134.2,422.5 1135.0,421.6 1135.8,423.8 1136.5,423.8 1137.2,425.4 1138.0,423.7 1138.8,423.7 1139.5,419.4 1140.2,423.9 1141.0,419.6 1141.8,423.4 1142.5,420.9 1143.2,421.4 1144.0,412.2 1144.8,417.7 1145.5,412.4 1146.2,413.4 1147.0,407.5 1147.8,414.4 1148.5,416.2 1149.2,407.1 1150.0,402.6 1150.8,409.5 1151.5,402.5 1152.2,413.7 1153.0,403.0 1153.8,406.4 1154.5,407.8 1155.2,401.6 1156.0,403.2 1156.8,401.0 1157.5,405.3 1158.2,407.1 1159.0,396.0 1159.8,400.0 1160.5,388.6 1161.2,392.7 1162.0,388.0 1162.8,382.9 1163.5,387.0 1164.2,381.8 1165.0,368.1 1165.8,363.2 1166.5,362.5 1167.2,357.4 1168.0,346.3 1168.8,344.7 1169.5,342.7 1170.2,338.6 1171.0,338.8 1171.8,335.4 1172.5,340.7 1173.2,347.3 1174.0,354.8 1174.8,349.1 1175.5,353.5 1176.2,351.1 1177.0,363.4 1177.8,362.3 1178.5,369.6 1179.2,363.6 1180.0,371.6 1180.8,373.8 1181.5,373.2 1182.2,372.4 1183.0,379.3 1183.8,388.3 1184.5,384.3 1185.2,386.5 1186.0,394.6 1186.8,393.8 1187.5,403.9 1188.2,405.7 1189.0,408.8 1189.8,408.4 1190.5,407.0 1191.2,402.1 1192.0,412.9 1192.8,413.3 1193.5,415.1 1194.2,415.7 1195.0,418.6 1195.8,411.9 1196.5,418.0 1197.2,416.6 1198.0,415.1 1198.8,416.0 1199.5,414.9 1200.2,421.1 1201.0,420.8 1201.8,422.9 1202.5,430.1 1203.2,428.4 1204.0,428.9 1204.8,433.4 1205.5,422.5 1206.2,426.7 1207.0,420.9 1207.8,425.2 1208.5,433.1 1209.2,420.7 1210.0,430.3 1210.8,432.1 1211.5,427.7 1212.2,432.5 1213.0,428.0 1213.8,427.1 1214.5,429.4 1215.2,425.2 1216.0,427.1 1216.8,427.5 1217.5,437.6 1218.2,428.7 1219.0,427.3 1219.8,437.5 1220.5,426.2 1221.2,438.1 1222.0,436.7 1222.8,433.9 1223.5,431.0 1224.2,427.9 1225.0,426.7 1225.8,426.6 1226.5,429.8 1227.2,430.1 1228.0,436.7 1228.8,430.5 1229.5,436.2 1230.2,431.8 1231.0,423.2 1231.8,428.8 1232.5,423.3 1233.2,421.9 1234.0,435.3 1234.8,427.4 1235.5,426.0 1236.2,425.2 1237.0,433.3 1237.8,430.8 1238.5,424.6 1239.2,434.4 1240.0,427.5 1240.8,434.5 1241.5,429.9 1242.2,430.5 1243.0,429.7 1243.8,433.4 1244.5,438.5 1245.2,436.3 1246.0,426.3 1246.8,432.5 1247.5,428.8 1248.2,427.0 1249.0,428.3 1249.8,429.0 1250.5,439.0 1251.2,435.8 1252.0,437.2 1252.8,435.0 1253.5,429.8 1254.2,431.4 1255.0,432.8 1255.8,431.4 1256.5,433.6 1257.2,438.5 1258.0,428.3 1258.8,430.7 1259.5,433.2 1260.2,435.9 1261.0,435.6 1261.8,436.8 1262.5,427.9 1263.2,428.5 1264.0,429.7 1264.8,428.5 1265.5,434.5 1266.2,437.4 1267.0,432.8 1267.8,423.8 1268.5,427.6 1269.2,434.7 1270.0,436.2 1270.8,430.9 1271.5,426.3 1272.2,425.1 1273.0,427.8 1273.8,430.0 1274.5,421.9 1275.2,419.2 1276.0,416.6 1276.8,419.3 1277.5,431.0 1278.2,429.9 1279.0,437.2 1279.8,425.8 1280.5,430.6 1281.2,436.6 1282.0,434.1 1282.8,424.9 1283.5,428.9 1284.2,431.7 1285.0,432.4 1285.8,429.3 1286.5,425.9 1287.2,437.1 1288.0,430.3 1288.8,433.8 1289.5,431.1 1290.2,424.3 1291.0,426.1 1291.8,423.3 1292.5,424.9 1293.2,425.0 1294.0,428.1 1294.8,426.9 1295.5,427.5 1296.2,433.7 1297.0,422.2 1297.8,423.0 1298.5,432.7 1299.2,429.0 1300.0,427.9 1300.8,425.7 1301.5,429.7 1302.2,424.7 1303.0,433.4 1303.8,432.1 1304.5,423.8 1305.2,418.4 1306.0,431.1 1306.8,421.5 1307.5,426.9 1308.2,430.0 1309.0,429.0 1309.8,430.2 1310.5,424.0 1311.2,429.7 1312.0,422.6 1312.8,418.2 1313.5,420.7 1314.2,417.2 1315.0,424.0 1315.8,424.6 1316.5,411.5 1317.2,411.0 1318.0,413.8 1318.8,413.8 1319.5,421.6 1320.2,420.0 1321.0,419.6 1321.8,414.5 1322.5,413.2 1323.2,405.3 1324.0,407.1 1324.8,399.6 1325.5,414.5 1326.2,402.4 1327.0,396.6 1327.8,398.8 1328.5,396.8 1329.2,402.9 1330.0,388.3 1330.8,391.7 1331.5,403.1 1332.2,400.6 1333.0,394.5 1333.8,391.4 1334.5,384.0 1335.2,395.9 1336.0,394.0 1336.8,390.2 1337.5,385.0 1338.2,387.6 1339.0,392.5 1339.8,393.3 1340.5,389.6 1341.2,397.3 1342.0,398.9 1342.8,396.7 1343.5,399.8 1344.2,400.2 1345.0,402.5 1345.8,408.0 1346.5,406.0 1347.2,399.7 1348.0,409.7 1348.8,402.7 1349.5,400.0 1350.2,403.3 1351.0,402.9 1351.8,403.7 1352.5,402.3 1353.2,398.8 1354.0,399.1 1354.8,387.9 1355.5,397.8 1356.2,389.1 1357.0,388.8 1357.8,385.5 1358.5,389.7 1359.2,380.9 1360.0,390.9 1360.8,390.3 1361.5,388.6 1362.2,374.4 1363.0,382.4 1363.8,384.5 1364.5,367.9 1365.2,369.9 1366.0,370.7 1366.8,374.6 1367.5,369.8 1368.2,378.2 1369.0,376.2 1369.8,384.7 1370.5,386.0 1371.2,392.8 1372.0,387.9 1372.8,399.8 1373.5,403.5 1374.2,406.2 1375.0,396.5 1375.8,415.3 1376.5,409.5 1377.2,404.5 1378.0,408.0 1378.8,409.9 1379.5,410.4 1380.2,406.2 1381.0,407.8 1381.8,411.1 1382.5,420.0 1383.2,414.6 1384.0,407.9 1384.8,415.7 1385.5,411.6 1386.2,408.7 1387.0,426.0 1387.8,414.7 1388.5,419.4 1389.2,416.8 1390.0,412.1 1390.8,426.4 1391.5,427.1 1392.2,415.0 1393.0,418.8 1393.8,418.2 1394.5,414.9 1395.2,422.5 1396.0,423.7 1396.8,422.3 1397.5,419.8 1398.2,409.0 1399.0,411.5 1399.8,415.3 1400.5,417.8 1401.2,413.2 1402.0,414.0 1402.8,419.2 1403.5,407.2 1404.2,410.5 1405.0,410.7 1405.8,420.7 1406.5,409.6 1407.2,406.8 1408.0,412.0 1408.8,415.3 1409.5,408.4 1410.2,418.6 1411.0,409.8 1411.8,417.6 1412.5,410.3 1413.2,421.1 1414.0,411.6 1414.8,419.2 1415.5,420.6 1416.2,412.1 1417.0,409.4 1417.8,416.1 1418.5,414.2 1419.2,413.2 1420.0,416.8 1420.8,411.9 1421.5,412.7 1422.2,413.4 1423.0,414.1 1423.8,414.5 1424.5,411.8 1425.2,414.1 1426.0,413.7 1426.8,413.3 1427.5,420.6 1428.2,411.0 1429.0,412.4 1429.8,417.2 1430.5,414.7 1431.2,414.1 1432.0,416.4 1432.8,418.5 1433.5,420.9 1434.2,424.8 1435.0,422.5 1435.8,415.9 1436.5,415.9 1437.2,415.6 1438.0,413.9 1438.8,425.2 1439.5,414.2 1440.2,417.4 1441.0,424.9 1441.8,424.5 1442.5,420.3 1443.2,429.4 1444.0,421.5 1444.8,423.6 1445.5,416.2 1446.2,427.4 1447.0,416.5 1447.8,421.0 1448.5,428.3 1449.2,429.6 1450.0,429.6 1450.8,429.1 1451.5,421.2 1452.2,418.6 1453.0,424.6 1453.8,419.2 1454.5,432.1 1455.2,419.3 1456.0,424.5 1456.8,423.5 1457.5,421.5 1458.2,428.5 1459.0,422.5 1459.8,433.7 1460.5,430.3 1461.2,425.8 1462.0,432.4 1462.8,432.2 1463.5,426.3 1464.2,434.1 1465.0,435.7 1465.8,431.5 1466.5,427.7 1467.2,435.1 1468.0,435.5 1468.8,427.0 1469.5,423.1 1470.2,433.5 1471.0,430.2 1471.8,423.9 1472.5,428.4 1473.2,424.8 1474.0,433.4 1474.8,425.5 1475.5,423.6 1476.2,421.6 1477.0,425.9 1477.8,435.1 1478.5,424.8 1479.2,428.3 1480.0,435.3 1480.8,421.9 1481.5,425.8 1482.2,433.1 1483.0,423.6 1483.8,435.7 1484.5,435.2 1485.2,426.5 1486.0,433.3 1486.8,433.2 1487.5,435.4 1488.2,430.1 1489.0,431.1 1489.8,428.9 1490.5,429.5 1491.2,428.0 1492.0,438.1 1492.8,437.9 1493.5,430.7 1494.2,435.0 1495.0,431.8 1495.8,428.7 1496.5,429.6 1497.2,438.1 1498.0,429.9 1498.8,433.4 1499.5,438.7 1500.2,430.3 1501.0,437.8 1501.8,428.8 1502.5,437.7 1503.2,438.7 1504.0,438.8 1504.8,440.1 1505.5,435.9 1506.2,439.0 1507.0,429.2 1507.8,432.4 1508.5,428.2 1509.2,426.5 1510.0,431.4 1510.8,435.1 1511.5,435.4 1512.2,424.3 1513.0,436.0 1513.8,425.9 1514.5,426.4 1515.2,434.0 1516.0,435.2 1516.8,433.3 1517.5,427.7 1518.2,429.1 1519.0,433.8 1519.8,427.1 1520.5,433.4 1521.2,433.7 1522.0,430.3 1522.8,437.0 1523.5,430.6 1524.2,435.8 1525.0,434.2 1525.8,429.9 1526.5,432.5 1527.2,433.7 1528.0,433.1 1528.8,427.7 1529.5,440.0 1530.2,439.6 1531.0,426.7 1531.8,438.5 1532.5,432.3 1533.2,426.2 1534.0,435.4 1534.8,429.9 1535.5,433.6 1536.2,434.9 1537.0,430.5 1537.8,423.1 1538.5,432.7 1539.2,430.0 1540.0,432.2 1540.8,423.1 1541.5,430.4 1542.2,432.3 1543.0,426.3 1543.8,428.1 1544.5,427.9 1545.2,423.8 1546.0,426.8 1546.8,427.6 1547.5,423.9 1548.2,432.1 1549.0,427.0 1549.8,428.6 1550.5,424.5 1551.2,425.1 1552.0,429.7 1552.8,424.8 1553.5,425.3 1554.2,421.7 1555.0,422.4 1555.8,426.3 1556.5,417.2 1557.2,420.1 1558.0,421.6 1558.8,412.4 1559.5,423.0 1560.2,415.3 1561.0,410.6 1561.8,416.5 1562.5,416.3 1563.2,412.9 1564.0,416.0 1564.8,404.1 1565.5,409.5 1566.2,411.9 1567.0,413.6 1567.8,408.9 1568.5,407.4 1569.2,403.4 1570.0,405.0 1570.8,404.0 1571.5,408.1 1572.2,406.4 1573.0,404.9 1573.8,407.6 1574.5,396.4 1575.2,406.9 1576.0,403.9 1576.8,409.3 1577.5,404.8 1578.2,409.0 1579.0,415.7 1579.8,406.5 1580.5,411.2 1581.2,415.0 1582.0,421.2 1582.8,414.8 1583.5,424.2 1584.2,418.4 1585.0,421.2 1585.8,426.3 1586.5,429.1 1587.2,433.3 1588.0,434.1 1588.8,426.1 1589.5,433.3 1590.2,432.1 1591.0,428.9 1591.8,434.3 1592.5,436.1 1593.2,430.8 1594.0,437.3 1594.8,427.2 1595.5,428.3 1596.2,436.7 1597.0,430.5 1597.8,434.2 1598.5,432.8 1599.2,427.7 1600.0,435.6 1600.8,434.8 1601.5,426.0 1602.2,426.9 1603.0,433.9 1603.8,435.3 1604.5,434.8 1605.2,430.0 1606.0,428.5 1606.8,430.1 1607.5,427.1 1608.2,432.5 1609.0,429.8 1609.8,429.5 1610.5,432.7 1611.2,428.0 1612.0,433.0 1612.8,435.6 1613.5,434.7 1614.2,439.1 1615.0,437.8 1615.8,434.2 1616.5,437.5 1617.2,430.9 1618.0,435.4 1618.8,428.2 1619.5,431.6 1620.2,438.1 1621.0,433.6 1621.8,433.2 1622.5,437.9 1623.2,432.1 1624.0,439.5 1624.8,428.3 1625.5,430.8 1626.2,429.4 1627.0,429.9 1627.8,438.9 1628.5,426.1 1629.2,430.0 1630.0,434.2 1630.8,436.5 1631.5,438.0 1632.2,433.2 1633.0,431.5 1633.8,440.8 1634.5,431.3 1635.2,430.6 1636.0,432.6 1636.8,435.6 1637.5,441.1 1638.2,437.7 1639.0,435.2 1639.8,434.6 1640.5,436.8 1641.2,435.9 1642.0,432.2 1642.8,429.4 1643.5,431.8 1644.2,440.6 1645.0,439.0 1645.8,441.0 1646.5,430.0 1647.2,440.8 1648.0,433.0 1648.8,440.3 1649.5,436.1 1650.2,435.9 1651.0,440.0 1651.8,437.4 1652.5,437.7 1653.2,430.1 1654.0,435.7 1654.8,432.0 1655.5,428.0 1656.2,428.9 1657.0,434.0 1657.8,431.4 1658.5,438.9 1659.2,430.5 1660.0,429.3 1660.8,442.9 1661.5,433.3 1662.2,435.3 1663.0,430.2 1663.8,429.1 1664.5,431.0 1665.2,435.9 1666.0,425.6 1666.8,436.9 1667.5,439.2 1668.2,433.4 1669.0,430.8 1669.8,429.2 1670.5,429.0 1671.2,431.5 1672.0,439.5 1672.8,428.4 1673.5,439.3 1674.2,437.4 1675.0,427.8 1675.8,427.7 1676.5,436.1 1677.2,434.9 1678.0,430.0 1678.8,437.9 1679.5,429.5 1680.2,433.0 1681.0,429.2 1681.8,436.8 1682.5,429.3 1683.2,430.7 1684.0,438.9 1684.8,435.5 1685.5,438.1 1686.2,439.4 1687.0,437.7 1687.8,431.6 1688.5,437.6 1689.2,428.5 1690.0,429.7 1690.8,431.6 1691.5,426.9 1692.2,427.0 1693.0,434.9 1693.8,436.3 1694.5,431.3 1695.2,431.5 1696.0,428.9 1696.8,433.2 1697.5,434.4 1698.2,439.7 1699.0,427.8 1699.8,440.0 1700.5,440.9 1701.2,431.4 1702.0,435.6 1702.8,436.0 1703.5,432.8 1704.2,427.4 1705.0,431.7 1705.8,434.9 1706.5,424.1 1707.2,429.0 1708.0,422.7 1708.8,434.3 1709.5,433.8 1710.2,424.2 1711.0,434.2 1711.8,433.7 1712.5,426.1 1713.2,431.7 1714.0,434.3 1714.8,429.8 1715.5,432.6 1716.2,439.6 1717.0,435.3 1717.8,433.4 1718.5,427.0 1719.2,427.2 1720.0,436.5 1720.8,434.3 1721.5,434.9 1722.2,430.8 1723.0,430.4 1723.8,429.4 1724.5,431.8 1725.2,425.7 1726.0,427.3 1726.8,426.2 1727.5,428.0 1728.2,421.1 1729.0,417.8 1729.8,418.0 1730.5,418.5 1731.2,427.1 1732.0,424.2 1732.8,423.7 1733.5,418.6 1734.2,413.1 1735.0,417.6 1735.8,423.0 1736.5,418.2 1737.2,420.3 1738.0,417.3 1738.8,414.8 1739.5,421.8 1740.2,420.1 1741.0,418.5 1741.8,417.7 1742.5,424.4 1743.2,420.1 1744.0,424.7 1744.8,421.0 1745.5,428.3 1746.2,423.4 1747.0,425.0 1747.8,431.6 1748.5,429.0 1749.2,429.6 1750.0,424.4 1750.8,431.6 1751.5,425.9 1752.2,435.0 1753.0,434.8 1753.8,432.5 1754.5,435.3 1755.2,430.9 1756.0,432.5 1756.8,422.8 1757.5,433.5 1758.2,430.1 1759.0,420.7 1759.8,422.2 1760.5,426.9 1761.2,429.5 1762.0,420.6 1762.8,431.1 1763.5,421.9 1764.2,430.3 1765.0,426.9 1765.8,423.4 1766.5,421.8 1767.2,418.1 1768.0,417.6 1768.8,424.7 1769.5,426.3 1770.2,428.1 1771.0,420.7 1771.8,428.9 1772.5,420.3 1773.2,429.2 1774.0,428.9 1774.8,418.2 1775.5,427.7 1776.2,425.3 1777.0,425.2 1777.8,427.3 1778.5,423.5 1779.2,423.6 1780.0,422.3 1780.8,429.7 1781.5,430.6 1782.2,420.5 1783.0,428.8 1783.8,421.7 1784.5,420.0 1785.2,419.5 1786.0,423.9 1786.8,419.0 1787.5,417.8 1788.2,415.3 1789.0,418.4 1789.8,425.0 1790.5,415.3 1791.2,422.6 1792.0,425.0 1792.8,417.8 1793.5,421.3 1794.2,429.7 1795.0,430.8 1795.8,429.0 1796.5,420.2 1797.2,429.3 1798.0,425.8 1798.8,422.5 1799.5,427.1 1800.2,433.3 1801.0,432.6 1801.8,426.0 1802.5,421.6 1803.2,433.5 1804.0,435.2 1804.8,429.3 1805.5,426.0 1806.2,431.0 1807.0,433.6 1807.8,430.9 1808.5,429.3 1809.2,428.0 1810.0,428.8 1810.8,425.6 1811.5,428.8 1812.2,439.0 1813.0,426.7 1813.8,437.3 1814.5,438.6 1815.2,433.6 1816.0,436.6 1816.8,431.8 1817.5,438.5 1818.2,439.5 1819.0,440.1 1819.8,436.7 1820.5,443.0 1821.2,440.9 1822.0,436.1 1822.8,437.0 1823.5,431.0 1824.2,440.3 1825.0,436.5 1825.8,440.5 1826.5,432.7 1827.2,442.8 1828.0,431.1 1828.8,437.3 1829.5,431.6 1830.2,432.7 1831.0,440.6 1831.8,430.8 1832.5,435.1 1833.2,432.3 1834.0,441.0 1834.8,430.0 1835.5,433.2 1836.2,440.3 1837.0,438.2 1837.8,438.7 1838.5,442.8 1839.2,429.4 1840.0,438.0 1840.8,438.8 1841.5,438.5 1842.2,437.9 1843.0,429.0 1843.8,429.3 1844.5,439.2 1845.2,437.5 1846.0,433.3 1846.8,430.4 1847.5,438.2 1848.2,432.4 1849.0,441.5 1849.8,435.7 1850.5,441.8 1851.2,431.5 1852.0,436.7 1852.8,431.0 1853.5,440.2 1854.2,436.8 1855.0,431.9 1855.8,441.8 1856.5,438.0 1857.2,433.6 1858.0,441.4 1858.8,435.5 1859.5,443.8 1860.2,435.1 1861.0,444.7 1861.8,431.6 1862.5,440.3 1863.2,433.5 1864.0,434.7 1864.8,437.1 1865.5,428.7 1866.2,431.1 1867.0,429.2 1867.8,437.6 1868.5,429.9 1869.2,433.3 1870.0,430.8 1870.8,429.6 1871.5,439.7 1872.2,434.0 1873.0,436.2 1873.8,436.9 1874.5,438.3 1875.2,430.1 1876.0,426.9 1876.8,431.7 1877.5,427.0 1878.2,424.7 1879.0,437.3 1879.8,433.7 1880.5,431.3 1881.2,427.8 1882.0,436.7 1882.8,433.5 1883.5,428.0 1884.2,438.5 1885.0,437.2 1885.8,436.1 1886.5,434.2 1887.2,429.6 1888.0,425.9 1888.8,430.2 1889.5,422.4 1890.2,427.9 1891.0,419.4 1891.8,418.0 1892.5,427.3 1893.2,421.9 1894.0,426.8 1894.8,428.2 1895.5,429.4 1896.2,426.7 1897.0,430.2 1897.8,427.6 1898.5,431.2 1899.2,430.5 1900.0,418.0 1900.8,420.1 1901.5,420.2 1902.2,416.2 1903.0,412.9 1903.8,420.7 1904.5,407.7 1905.2,409.9 1906.0,418.7 1906.8,412.4 1907.5,414.2 1908.2,425.2 1909.0,423.2 1909.8,419.3 1910.5,415.1 1911.2,416.8 1912.0,426.2 1912.8,423.0 1913.5,412.4 1914.2,420.9 1915.0,416.1 1915.8,421.0 1916.5,415.5 1917.2,413.6 1918.0,412.3 1918.8,416.3 1919.5,424.3 1920.2,425.0 1921.0,422.7 1921.8,424.5 1922.5,417.9 1923.2,421.1 1924.0,429.5 1924.8,431.4 1925.5,424.5 1926.2,429.7 1927.0,432.4 1927.8,433.8 1928.5,424.5 1929.2,429.8 1930.0,426.3 1930.8,427.2 1931.5,426.7 1932.2,423.5 1933.0,419.2 1933.8,429.0 1934.5,428.0 1935.2,430.6 1936.0,422.0 1936.8,424.4 1937.5,430.4 1938.2,435.9 1939.0,430.0 1939.8,426.6 1940.5,432.2 1941.2,437.3 1942.0,435.9 1942.8,435.9 1943.5,428.7 1944.2,426.4 1945.0,434.8 1945.8,434.0 1946.5,435.4 1947.2,429.6 1948.0,428.6 1948.8,428.2 1949.5,437.1 1950.2,437.8 1951.0,429.8 1951.8,436.6 1952.5,429.3 1953.2,429.7 1954.0,431.0 1954.8,426.0 1955.5,426.7 1956.2,427.0 1957.0,427.3 1957.8,431.3 1958.5,425.8 1959.2,435.4 1960.0,427.0 1960.8,430.8 1961.5,433.6 1962.2,426.5 1963.0,430.2 1963.8,432.1 1964.5,431.7 1965.2,436.3 1966.0,434.7 1966.8,425.5 1967.5,435.4 1968.2,431.3 1969.0,432.8 1969.8,425.1 1970.5,429.2 1971.2,432.4 1972.0,434.2 1972.8,434.9 1973.5,427.3 1974.2,436.2 1975.0,432.4 1975.8,433.3 1976.5,435.2 1977.2,428.4 1978.0,435.4 1978.8,435.0 1979.5,434.3 1980.2,428.7 1981.0,431.3 1981.8,426.9 1982.5,435.5 1983.2,437.6 1984.0,427.4 1984.8,435.3 1985.5,434.3 1986.2,425.2 1987.0,437.8 1987.8,432.1 1988.5,429.6 1989.2,426.5 1990.0,437.0 1990.8,430.7 1991.5,433.1 1992.2,428.8 1993.0,434.9 1993.8,432.3 1994.5,438.4 1995.2,436.6 1996.0,437.3 1996.8,430.6 1997.5,427.7 1998.2,438.8 1999.0,439.3 1999.8,434.9 2000.5,438.4 2001.2,435.2 2002.0,433.6 2002.8,431.0 2003.5,430.2 2004.2,432.4 2005.0,429.2 2005.8,432.5 2006.5,434.0 2007.2,427.5 2008.0,432.5 2008.8,431.0 2009.5,436.1 2010.2,438.8 2011.0,436.3 2011.8,437.1 2012.5,436.3 2013.2,430.9 2014.0,432.2 2014.8,438.5 2015.5,439.8 2016.2,429.2 2017.0,426.8 2017.8,440.0 2018.5,438.2 2019.2,434.2 2020.0,436.5 2020.8,432.8 2021.5,436.9 2022.2,427.6 2023.0,430.6 2023.8,434.1 2024.5,428.1 2025.2,435.3 2026.0,429.0 2026.8,435.3 2027.5,436.7 2028.2,431.6 2029.0,439.8 2029.8,435.1 2030.5,437.1 2031.2,427.1 2032.0,428.8 2032.8,437.6 2033.5,441.5 2034.2,437.6 2035.0,442.0 2035.8,430.3"/>
</g>
<g><rect x="578.2" y="246.3" width="36.0" height="7.5" fill="#ff1e1e"/>
<rect x="649.0" y="246.3" width="36.0" height="7.5" fill="#ff1e1e"/>
<rect x="719.7" y="246.3" width="9.8" height="7.5" fill="#ff1e1e"/>
<rect x="723.9" y="246.3" width="5.6" height="31.3" fill="#ff1e1e"/>
<rect x="578.2" y="246.0" width="5.6" height="35.0" fill="#ff1e1e"/>
<rect x="578.2" y="313.4" width="5.6" height="35.0" fill="#ff1e1e"/>
<rect x="578.2" y="380.8" width="5.6" height="35.0" fill="#ff1e1e"/>
<rect x="578.2" y="448.2" width="5.6" height="35.0" fill="#ff1e1e"/>
<rect x="578.2" y="515.6" width="5.6" height="35.0" fill="#ff1e1e"/>
<rect x="578.2" y="583.0" width="5.6" height="35.0" fill="#ff1e1e"/>
<rect x="578.2" y="650.4" width="5.6" height="35.0" fill="#ff1e1e"/>
<rect x="578.2" y="717.8" width="5.6" height="35.0" fill="#ff1e1e"/>
<rect x="578.2" y="785.2" width="5.6" height="35.0" fill="#ff1e1e"/>
<rect x="578.2" y="852.6" width="5.6" height="35.0" fill="#ff1e1e"/>
<rect x="578.2" y="920.0" width="5.6" height="35.0" fill="#ff1e1e"/>
<rect x="578.2" y="987.4" width="5.6" height="35.0" fill="#ff1e1e"/>
<rect x="578.2" y="1054.8" width="5.6" height="35.0" fill="#ff1e1e"/>
<rect x="723.9" y="310.3" width="5.6" height="34.7" fill="#ff1e1e"/>
<rect x="723.9" y="377.7" width="5.6" height="34.7" fill="#ff1e1e"/>
<rect x="723.9" y="445.1" width="5.6" height="34.7" fill="#ff1e1e"/>
<rect x="723.9" y="512.5" width="5.6" height="34.7" fill="#ff1e1e"/>
<rect x="723.9" y="579.9" width="5.6" height="34.7" fill="#ff1e1e"/>
<rect x="723.9" y="647.3" width="5.6" height="34.7" fill="#ff1e1e"/>
<rect x="723.9" y="714.7" width="5.6" height="34.7" fill="#ff1e1e"/>
<rect x="723.9" y="782.1" width="5.6" height="34.7" fill="#ff1e1e"/>
<rect x="723.9" y="849.5" width="5.6" height="34.7" fill="#ff1e1e"/>
<rect x="723.9" y="916.9" width="5.6" height="34.7" fill="#ff1e1e"/>
<rect x="723.9" y="984.3" width="5.6" height="34.7" fill="#ff1e1e"/>
<rect x="723.9" y="1051.7" width="5.6" height="34.7" fill="#ff1e1e"/>
<rect x="598.7" y="1094.3" width="36.0" height="7.5" fill="#ff1e1e"/>
<rect x="669.7" y="1094.3" width="36.0" height="7.5" fill="#ff1e1e"/></g>
<g><rect x="134.5" y="19.5" width="1906.5" height="1591" fill="none" stroke="#000" stroke-width="10"/>
<rect x="130.0" y="1615" width="10" height="23.5" fill="#000"/>
<rect x="267.6" y="1615" width="10" height="9.7" fill="#000"/>
<rect x="402.6" y="1615" width="10" height="23.5" fill="#000"/>
<rect x="538.0" y="1615" width="10" height="9.7" fill="#000"/>
<rect x="675.4" y="1615" width="10" height="23.5" fill="#000"/>
<rect x="810.5" y="1615" width="10" height="9.7" fill="#000"/>
<rect x="947.9" y="1615" width="10" height="23.5" fill="#000"/>
<rect x="1083.2" y="1615" width="10" height="9.7" fill="#000"/>
<rect x="1220.3" y="1615" width="10" height="23.5" fill="#000"/>
<rect x="1355.7" y="1615" width="10" height="9.7" fill="#000"/>
<rect x="1490.5" y="1615" width="10" height="23.5" fill="#000"/>
<rect x="1628.2" y="1615" width="10" height="9.7" fill="#000"/>
<rect x="1763.3" y="1615" width="10" height="23.5" fill="#000"/>
<rect x="1900.9" y="1615" width="10" height="9.7" fill="#000"/>
<rect x="2035.8" y="1615" width="10" height="23.5" fill="#000"/></g>
<g><text x="95.0" y="1714.4" textLength="77.5" lengthAdjust="spacing" style="font-family:'Liberation Serif','Times New Roman',serif;font-weight:bold;font-size:75px">10</text>
<text x="367.6" y="1714.4" textLength="77.5" lengthAdjust="spacing" style="font-family:'Liberation Serif','Times New Roman',serif;font-weight:bold;font-size:75px">20</text>
<text x="640.4" y="1714.4" textLength="77.5" lengthAdjust="spacing" style="font-family:'Liberation Serif','Times New Roman',serif;font-weight:bold;font-size:75px">30</text>
<text x="912.9" y="1714.4" textLength="77.5" lengthAdjust="spacing" style="font-family:'Liberation Serif','Times New Roman',serif;font-weight:bold;font-size:75px">40</text>
<text x="1185.2" y="1714.4" textLength="77.5" lengthAdjust="spacing" style="font-family:'Liberation Serif','Times New Roman',serif;font-weight:bold;font-size:75px">50</text>
<text x="1455.5" y="1714.4" textLength="77.5" lengthAdjust="spacing" style="font-family:'Liberation Serif','Times New Roman',serif;font-weight:bold;font-size:75px">60</text>
<text x="1728.2" y="1714.4" textLength="77.5" lengthAdjust="spacing" style="font-family:'Liberation Serif','Times New Roman',serif;font-weight:bold;font-size:75px">70</text>
<text x="2000.8" y="1714.4" textLength="77.5" lengthAdjust="spacing" style="font-family:'Liberation Serif','Times New Roman',serif;font-weight:bold;font-size:75px">80</text></g>
<g><polygon points="553.9,101.0 570.9,122.3 553.9,143.6 536.9,122.3" fill="#000"/>
<polygon points="895.3,311.1 912.3,332.3 895.3,353.6 878.3,332.3" fill="#000"/>
<polygon points="1178.3,276.6 1195.3,297.8 1178.3,319.1 1161.3,297.8" fill="#000"/>
<polygon points="1339.5,330.6 1356.5,351.9 1339.5,373.1 1322.5,351.9" fill="#000"/>
<polygon points="1378.3,320.8 1395.3,342.0 1378.3,363.2 1361.3,342.0" fill="#000"/>
<polygon points="1571.6,342.1 1588.6,363.3 1571.6,384.6 1554.6,363.3" fill="#000"/>
<polygon points="1745.1,338.6 1762.1,359.8 1745.1,381.1 1728.1,359.8" fill="#000"/>
<polygon points="1791.7,340.4 1808.7,361.7 1791.7,382.9 1774.7,361.7" fill="#000"/>
<polygon points="1908.9,340.2 1925.9,361.5 1908.9,382.8 1891.9,361.5" fill="#000"/>
<polygon points="608.2,1484.3 629.7,1504.8 608.2,1525.3 586.7,1504.8" fill="#000"/>
<polygon points="676.7,68.6 693.2,89.6 676.7,110.6 660.2,89.6" fill="#000"/>
<polygon points="1246.2,77.5 1268.2,98.3 1246.2,119.0 1224.2,98.3" fill="#000"/>
<rect x="621" y="298.8" width="32.5" height="34.1" fill="#000"/>
<rect x="679" y="170.3" width="33.8" height="33.3" fill="#000"/></g>
<text x="696.20" y="111.50" textLength="428.71" lengthAdjust="spacing" style="font-family:'Liberation Serif','Times New Roman',serif;font-weight:bold;font-size:77px">-AnataseTiO</text>
<text x="1121.00" y="131.20" style="font-family:'Liberation Serif','Times New Roman',serif;font-weight:bold;font-size:50px">2</text>
<text x="1275.00" y="116.50" textLength="361.54" lengthAdjust="spacing" style="font-family:'Liberation Serif','Times New Roman',serif;font-weight:bold;font-size:77px">-RutileTiO</text>
<text x="1634.00" y="138.50" style="font-family:'Liberation Serif','Times New Roman',serif;font-weight:bold;font-size:50px">2</text>
<text x="719.60" y="202.50" textLength="221.70" lengthAdjust="spacing" style="font-family:'Liberation Serif','Times New Roman',serif;font-weight:bold;font-size:77px">- MnO</text>
<text x="939.30" y="224.70" style="font-family:'Liberation Serif','Times New Roman',serif;font-weight:bold;font-size:50px">2</text>
<text x="1584.80" y="291.50" textLength="378.85" lengthAdjust="spacing" style="font-family:'Liberation Serif','Times New Roman',serif;font-weight:bold;font-size:77px">V/CeMn/Ti</text>
<text x="1622.80" y="693.50" textLength="379.45" lengthAdjust="spacing" style="font-family:'Liberation Serif','Times New Roman',serif;font-weight:bold;font-size:77px">CeMn/V/Ti</text>
<text x="1655.80" y="967.50" textLength="355.86" lengthAdjust="spacing" style="font-family:'Liberation Serif','Times New Roman',serif;font-weight:bold;font-size:77px">VCeMn/Ti</text>
<text x="1709.10" y="1426.00" textLength="258.90" lengthAdjust="spacing" style="font-family:'Liberation Serif','Times New Roman',serif;font-weight:bold;font-size:77px">P25TiO</text>
<text x="1966.20" y="1447.70" style="font-family:'Liberation Serif','Times New Roman',serif;font-weight:bold;font-size:50px">2</text>
<text x="600.40" y="966.40" textLength="112.25" lengthAdjust="spacing" style="font-family:'Liberation Serif','Times New Roman',serif;font-weight:normal;font-size:60.6px">28.6</text>
<text x="878.30" y="1837.40" textLength="182.22" lengthAdjust="spacing" style="font-family:'Liberation Serif','Times New Roman',serif;font-weight:bold;font-size:74px">2θ (°)</text>
<text transform="translate(68.8,814.4) rotate(-90)" x="0" y="0" text-anchor="middle" textLength="462" lengthAdjust="spacing" style="font-family:'Liberation Serif','Times New Roman',serif;font-weight:bold;font-size:75px">Intensity (a.u.)</text>

</svg>
</body></html>
